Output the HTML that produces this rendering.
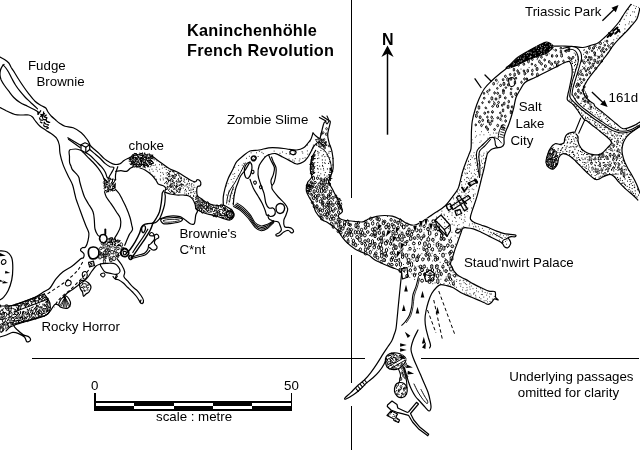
<!DOCTYPE html>
<html><head><meta charset="utf-8"><title>Kaninchenhöhle French Revolution</title>
<style>
html,body{margin:0;padding:0;background:#fff;}
body{width:640px;height:450px;overflow:hidden;}
svg{display:block;will-change:transform;}
text{font-family:"Liberation Sans",sans-serif;fill:#000;}
</style></head><body>
<svg width="640" height="450" viewBox="0 0 640 450">
<rect width="640" height="450" fill="#fff"/>
<path d="M0.0,57.0 C0.8,57.4 3.0,58.5 4.5,59.5 C6.0,60.5 7.6,61.7 8.8,63.0 C9.9,64.3 10.3,65.9 11.2,67.5 C12.2,69.1 13.2,70.5 14.5,72.5 C15.8,74.5 17.2,77.1 18.8,79.5 C20.3,81.9 22.1,84.6 23.8,87.0 C25.4,89.4 26.9,91.4 28.8,93.8 C30.6,96.1 32.9,99.3 35.0,101.2 C37.1,103.2 39.5,104.4 41.2,105.5 C43.0,106.6 44.6,106.9 45.8,108.0 C46.9,109.1 47.1,110.7 48.0,112.0 C48.9,113.3 49.9,114.6 51.2,116.0 C52.6,117.4 54.8,119.2 56.2,120.5 C57.7,121.8 58.5,122.5 60.0,123.5 C61.5,124.5 62.8,125.6 65.0,126.3 C67.2,127.0 70.5,126.7 73.2,127.8 C75.9,128.9 78.9,130.7 81.3,132.7 C83.7,134.7 86.0,137.9 87.4,139.8 C88.8,141.7 89.3,143.3 89.7,144.0" stroke="#000" stroke-width="1.20" fill="none" stroke-linejoin="round" stroke-linecap="round"/>
<path d="M3.0,65.0 C3.4,65.4 4.5,66.2 5.5,67.5 C6.5,68.8 7.7,70.6 8.8,72.5 C9.8,74.4 10.9,76.7 12.0,78.8 C13.1,80.8 14.2,82.9 15.5,85.0 C16.8,87.1 18.4,89.2 20.0,91.2 C21.6,93.2 23.1,95.0 25.0,97.0 C26.9,99.0 29.2,101.0 31.2,103.0 C33.3,105.0 36.5,107.8 37.5,108.8" stroke="#000" stroke-width="1.20" fill="none" stroke-linejoin="round" stroke-linecap="round"/>
<path d="M4.0,64.5 C3.8,64.7 3.1,64.8 2.5,65.8 C1.9,66.7 0.9,68.5 0.5,70.0 C0.1,71.5 -0.1,73.3 0.0,75.0 C0.1,76.7 0.5,78.2 1.2,80.0 C2.0,81.8 3.2,83.6 4.5,85.5 C5.8,87.4 7.2,89.2 8.8,91.2 C10.3,93.2 11.9,95.6 13.8,97.5 C15.6,99.4 17.7,101.0 20.0,102.5 C22.3,104.0 25.0,105.0 27.5,106.2 C30.0,107.5 33.1,109.0 35.0,110.0 C36.9,111.0 38.1,112.1 38.8,112.5" stroke="#000" stroke-width="1.20" fill="none" stroke-linejoin="round" stroke-linecap="round"/>
<path d="M0.0,107.5 C1.0,108.0 3.8,109.6 6.2,110.8 C8.8,111.9 12.3,113.8 15.0,114.5 C17.7,115.2 20.2,114.9 22.5,115.0 C24.8,115.1 27.1,114.7 28.8,115.0 C30.4,115.3 31.5,116.1 32.5,117.0 C33.5,117.9 33.8,119.0 35.0,120.5 C36.2,122.0 38.1,124.6 40.0,126.2 C41.9,127.9 44.2,129.1 46.2,130.5 C48.3,131.9 50.7,133.1 52.5,134.5 C54.3,135.9 55.9,137.0 57.0,138.8 C58.1,140.5 58.8,142.6 59.3,145.0 C59.8,147.4 59.4,150.2 60.0,153.4 C60.6,156.6 61.7,160.8 63.0,164.4 C64.3,168.1 66.2,171.9 67.8,175.3 C69.4,178.7 71.3,181.6 72.5,184.7 C73.7,187.8 74.1,191.4 74.8,194.0 C75.5,196.6 75.5,197.3 76.4,200.0 C77.3,202.7 78.5,205.8 80.0,210.0 C81.5,214.2 84.1,221.2 85.6,225.0 C87.1,228.8 88.3,230.2 88.8,232.8 C89.2,235.4 88.5,238.2 88.0,240.6 C87.5,242.9 86.4,245.8 85.6,246.9 C84.8,248.1 83.4,247.4 83.0,247.5" stroke="#000" stroke-width="1.20" fill="none" stroke-linejoin="round" stroke-linecap="round"/>
<path d="M81.0,144.8 L85.0,142.8 L89.7,144.8 L85.8,147.2Z" stroke="#000" stroke-width="1.20" fill="none" stroke-linejoin="round" stroke-linecap="round"/>
<path d="M81.0,144.8 L81.0,150.3 L85.8,152.7 L89.7,149.5 L89.7,144.8" stroke="#000" stroke-width="1.20" fill="none" stroke-linejoin="round" stroke-linecap="round"/>
<path d="M85.8,147.2 L85.8,152.7" stroke="#000" stroke-width="1.20" fill="none" stroke-linejoin="round" stroke-linecap="round"/>
<path d="M67.8,137.8 L81.0,145.6" stroke="#000" stroke-width="1.20" fill="none" stroke-linejoin="round" stroke-linecap="round"/>
<path d="M68.5,139.3 L80.0,147.5" stroke="#000" stroke-width="1.20" fill="none" stroke-linejoin="round" stroke-linecap="round"/>
<path d="M81.0,150.3 C80.1,150.1 77.5,149.0 75.6,149.0 C73.7,149.0 70.4,149.0 69.4,150.3 C68.4,151.6 69.5,154.6 69.5,156.6 C69.5,158.6 69.3,160.9 69.6,162.5 C69.8,164.1 70.6,164.9 71.0,166.1 C71.4,167.2 71.6,168.4 72.2,169.4 C72.8,170.4 73.9,171.3 74.8,172.2 C75.6,173.1 76.6,174.1 77.3,175.0 C78.0,175.9 78.6,176.6 79.0,177.8 C79.4,179.0 79.3,180.1 79.8,182.0 C80.3,183.9 81.1,186.9 81.9,189.4 C82.7,191.9 83.4,194.6 84.5,197.0 C85.6,199.4 86.9,201.2 88.3,203.7 C89.7,206.1 92.0,209.0 93.0,211.7 C94.0,214.4 94.0,216.8 94.3,219.7 C94.6,222.6 94.4,226.4 95.0,229.0 C95.6,231.6 96.8,233.7 97.7,235.0 C98.6,236.3 100.0,236.4 100.5,236.7" stroke="#000" stroke-width="1.20" fill="none" stroke-linejoin="round" stroke-linecap="round"/>
<path d="M81.9,151.0 C82.8,151.9 85.5,154.8 87.3,156.6 C89.1,158.4 91.0,160.1 92.8,162.0 C94.6,163.9 96.7,166.2 98.3,168.3 C99.9,170.4 101.2,172.6 102.2,174.5 C103.2,176.4 104.1,179.1 104.5,180.0" stroke="#000" stroke-width="1.20" fill="none" stroke-linejoin="round" stroke-linecap="round"/>
<path d="M85.8,152.7 C86.6,153.2 88.8,154.4 90.5,155.8 C92.2,157.2 94.2,159.4 96.0,161.2 C97.8,163.1 99.9,164.9 101.4,166.7 C103.0,168.5 104.4,170.5 105.3,172.2 C106.2,173.9 106.4,175.9 106.9,176.9 C107.4,177.9 108.2,178.2 108.4,178.4" stroke="#000" stroke-width="1.20" fill="none" stroke-linejoin="round" stroke-linecap="round"/>
<path d="M89.7,144.8 C90.3,145.5 92.0,147.3 93.6,148.8 C95.1,150.2 97.2,151.7 99.0,153.4 C100.8,155.1 102.8,157.5 104.5,158.9 C106.2,160.3 107.5,161.1 109.2,162.0 C110.9,162.9 112.9,164.1 114.7,164.4 C116.5,164.7 118.7,164.2 120.2,163.6 C121.8,162.9 122.6,161.4 124.0,160.5 C125.4,159.6 127.4,158.7 128.8,158.0 C130.1,157.3 131.4,156.8 131.9,156.6" stroke="#000" stroke-width="1.20" fill="none" stroke-linejoin="round" stroke-linecap="round"/>
<path d="M89.7,149.5 C90.5,150.2 92.7,152.0 94.4,153.4 C96.1,154.8 98.0,156.3 99.8,158.0 C101.6,159.7 103.6,162.2 105.3,163.6 C107.0,165.0 108.6,166.0 110.0,166.7 C111.4,167.3 113.5,166.7 113.9,167.5 C114.3,168.3 113.0,170.1 112.3,171.4 C111.6,172.7 110.7,174.1 110.0,175.3 C109.3,176.5 108.7,177.9 108.4,178.4" stroke="#000" stroke-width="1.20" fill="none" stroke-linejoin="round" stroke-linecap="round"/>
<path d="M117.8,166.7 C117.5,167.5 116.6,170.0 116.2,171.4 C115.9,172.8 115.6,173.9 115.5,175.3 C115.4,176.7 115.5,179.2 115.5,180.0" stroke="#000" stroke-width="1.20" fill="none" stroke-linejoin="round" stroke-linecap="round"/>
<path d="M115.8,171.4 C116.7,171.3 119.1,170.6 120.9,170.6 C122.7,170.6 124.8,171.8 126.4,171.4 C128.0,171.0 129.1,169.1 130.3,168.3 C131.5,167.5 132.9,167.0 133.4,166.7" stroke="#000" stroke-width="1.20" fill="none" stroke-linejoin="round" stroke-linecap="round"/>
<path d="M104.5,191.7 C104.8,192.6 105.2,195.0 106.3,197.0 C107.4,199.0 109.3,201.2 111.0,203.7 C112.7,206.1 114.8,209.3 116.3,211.7 C117.8,214.1 119.6,215.9 120.3,218.3 C121.0,220.7 120.9,223.9 120.5,226.3 C120.1,228.8 118.7,231.0 117.7,233.0 C116.7,235.0 115.0,237.4 114.5,238.3" stroke="#000" stroke-width="1.20" fill="none" stroke-linejoin="round" stroke-linecap="round"/>
<path d="M115.5,189.4 C116.2,190.2 118.2,192.2 119.4,194.0 C120.6,195.8 121.4,197.8 122.5,200.0 C123.6,202.2 125.0,204.6 126.2,207.5 C127.5,210.4 129.1,214.6 130.0,217.5 C130.9,220.4 131.3,223.0 131.7,225.0 C132.1,227.0 132.9,228.1 132.5,229.7 C132.1,231.3 130.3,232.7 129.4,234.4 C128.5,236.1 127.8,238.0 127.0,239.8 C126.2,241.6 125.1,244.4 124.7,245.3" stroke="#000" stroke-width="1.20" fill="none" stroke-linejoin="round" stroke-linecap="round"/>
<path d="M152.0,156.0 C152.3,156.2 152.4,156.3 154.0,157.5 C155.6,158.7 159.0,161.4 161.7,163.3 C164.4,165.2 167.2,167.5 170.0,169.0 C172.8,170.5 175.8,171.2 178.3,172.5 C180.8,173.8 182.8,175.3 185.0,176.7 C187.2,178.1 189.9,180.0 191.7,180.8 C193.5,181.6 195.0,181.8 195.8,181.7 C196.6,181.6 196.2,180.3 196.7,180.0 C197.2,179.7 198.3,179.6 199.0,180.0 C199.7,180.4 200.6,181.5 200.8,182.5 C201.0,183.5 200.6,185.1 200.0,185.8 C199.4,186.5 198.1,185.9 197.5,186.7 C196.9,187.5 196.7,189.3 196.7,190.8 C196.7,192.3 196.7,194.4 197.5,195.8 C198.3,197.2 200.2,197.9 201.7,199.0 C203.2,200.1 204.8,201.5 206.7,202.5 C208.6,203.5 210.8,204.4 213.3,205.0 C215.8,205.6 220.0,205.8 221.7,205.8 C223.4,205.8 223.0,205.1 223.3,205.0" stroke="#000" stroke-width="1.20" fill="none" stroke-linejoin="round" stroke-linecap="round"/>
<path d="M140.0,168.0 C140.8,168.3 143.1,168.8 145.0,170.0 C146.9,171.2 149.9,173.3 151.7,175.0 C153.5,176.7 154.7,178.5 155.8,180.0 C156.9,181.5 157.1,183.0 158.3,184.0 C159.6,185.0 162.1,185.1 163.3,185.8 C164.6,186.5 165.5,187.5 165.8,188.3 C166.1,189.1 165.1,190.1 165.0,190.8 C164.9,191.5 165.0,192.2 165.0,192.5" stroke="#000" stroke-width="1.20" fill="none" stroke-linejoin="round" stroke-linecap="round"/>
<path d="M165.0,192.5 C165.8,192.1 168.1,193.6 170.0,194.0 C171.9,194.4 174.5,194.8 176.7,195.0 C178.9,195.2 181.4,194.9 183.3,195.0 C185.2,195.1 186.8,195.1 188.3,195.8 C189.8,196.5 191.4,197.6 192.5,199.0 C193.6,200.4 194.4,202.4 195.0,204.0 C195.6,205.6 195.4,207.1 195.8,208.3 C196.2,209.5 197.5,209.9 197.5,211.0 C197.5,212.1 196.2,213.4 195.8,215.0 C195.4,216.6 195.3,219.3 195.0,220.8 C194.7,222.3 194.7,223.5 194.0,224.0 C193.3,224.5 191.9,224.4 190.8,224.0 C189.7,223.6 188.6,222.5 187.5,221.7 C186.4,220.9 185.2,219.8 184.0,219.0 C182.8,218.2 181.8,217.2 180.0,216.7 C178.2,216.2 175.5,215.8 173.3,215.8 C171.1,215.8 168.6,216.3 166.7,216.7 C164.8,217.1 162.8,218.0 161.7,218.3 C160.5,218.6 159.8,219.4 159.8,218.6 C159.9,217.8 161.2,215.6 162.0,213.3 C162.8,211.0 163.9,207.8 164.5,205.0 C165.1,202.2 165.2,198.8 165.3,196.7 C165.4,194.6 164.2,192.9 165.0,192.5Z" stroke="#000" stroke-width="1.20" fill="none" stroke-linejoin="round" stroke-linecap="round"/>
<path d="M160.8,219.6 C161.4,218.7 164.0,218.3 166.7,218.0 C169.3,217.7 174.1,217.4 176.7,217.6 C179.3,217.8 182.1,218.7 182.5,219.4 C182.9,220.1 181.1,221.3 179.0,222.0 C176.9,222.7 172.6,223.3 170.0,223.6 C167.4,223.9 164.8,224.3 163.3,223.6 C161.8,222.9 160.2,220.5 160.8,219.6Z" stroke="#000" stroke-width="1.20" fill="none" stroke-linejoin="round" stroke-linecap="round"/>
<path d="M163.5,220.6 C164.1,220.2 165.9,219.8 168.0,219.6 C170.1,219.4 174.1,219.3 176.0,219.4 C177.9,219.5 179.5,219.9 179.5,220.2 C179.5,220.5 177.8,221.1 176.0,221.4 C174.2,221.7 170.9,222.1 169.0,222.2 C167.1,222.3 165.4,222.3 164.5,222.0 C163.6,221.7 162.9,221.0 163.5,220.6Z" stroke="#000" stroke-width="0.84" fill="none" stroke-linejoin="round" stroke-linecap="round"/>
<path d="M126.2,253.3 C126.9,252.6 128.8,251.1 130.3,249.2 C131.8,247.3 133.8,244.3 135.3,241.7 C136.8,239.0 138.5,235.7 139.5,233.3 C140.5,230.9 140.6,228.9 141.3,227.5 C142.1,226.1 142.9,225.2 144.0,224.6 C145.1,223.9 146.5,223.8 148.0,223.6 C149.5,223.4 152.0,223.4 152.8,223.3" stroke="#000" stroke-width="1.44" fill="none" stroke-linejoin="round" stroke-linecap="round"/>
<path d="M131.2,257.5 C131.6,257.1 132.3,256.8 133.7,255.0 C135.1,253.2 137.6,249.5 139.5,246.7 C141.4,243.9 143.5,241.1 145.3,238.3 C147.1,235.5 149.1,232.5 150.3,230.0 C151.6,227.5 152.4,224.4 152.8,223.3" stroke="#000" stroke-width="1.44" fill="none" stroke-linejoin="round" stroke-linecap="round"/>
<path d="M132.8,252.5 C133.5,251.4 135.3,248.3 137.0,245.8 C138.7,243.3 141.0,240.3 142.8,237.5 C144.6,234.7 147.0,230.6 147.8,229.2" stroke="#000" stroke-width="1.20" fill="none" stroke-linejoin="round" stroke-linecap="round"/>
<path d="M141.6,229.0 C141.6,227.9 142.1,226.8 142.6,226.3 C143.1,225.8 144.1,225.5 144.6,225.8 C145.1,226.1 145.5,227.1 145.5,228.0 C145.5,228.9 145.0,230.5 144.6,231.3 C144.2,232.1 143.3,233.0 142.8,232.6 C142.3,232.2 141.6,230.1 141.6,229.0Z" stroke="#000" stroke-width="1.32" fill="none" stroke-linejoin="round" stroke-linecap="round"/>
<path d="M163.8,190.5 C163.6,190.9 162.6,192.1 162.3,193.0 C162.0,193.9 162.2,194.3 162.0,196.0 C161.8,197.7 161.6,200.7 161.2,203.3 C160.8,205.9 160.3,209.2 159.5,211.7 C158.7,214.2 157.3,216.4 156.2,218.3 C155.1,220.2 153.4,222.5 152.8,223.3" stroke="#000" stroke-width="1.32" fill="none" stroke-linejoin="round" stroke-linecap="round"/>
<path d="M152.8,223.3 C153.4,223.1 155.3,222.8 156.5,222.0 C157.7,221.2 159.2,219.2 159.8,218.6" stroke="#000" stroke-width="1.20" fill="none" stroke-linejoin="round" stroke-linecap="round"/>
<path d="M121.5,250.5 C122.1,249.7 123.5,248.5 124.5,248.5 C125.5,248.5 127.1,249.6 127.8,250.5 C128.5,251.4 128.8,253.0 128.5,254.0 C128.2,255.0 127.0,256.2 126.0,256.5 C125.0,256.8 123.3,256.5 122.5,256.0 C121.7,255.5 121.2,254.4 121.0,253.5 C120.8,252.6 120.9,251.3 121.5,250.5Z" stroke="#000" stroke-width="1.80" fill="none" stroke-linejoin="round" stroke-linecap="round"/>
<path d="M123.3,251.8 C123.6,251.3 125.3,251.1 125.8,251.5 C126.3,251.9 126.6,253.5 126.3,254.0 C126.0,254.5 124.5,255.0 124.0,254.6 C123.5,254.2 123.0,252.3 123.3,251.8Z" stroke="#000" stroke-width="1.20" fill="none" stroke-linejoin="round" stroke-linecap="round"/>
<path d="M129.0,256.3 C129.3,255.8 130.4,255.4 131.0,255.6 C131.6,255.8 132.5,256.7 132.6,257.3 C132.7,257.9 131.9,258.9 131.3,259.2 C130.8,259.4 129.7,259.3 129.3,258.8 C128.9,258.3 128.7,256.8 129.0,256.3Z" stroke="#000" stroke-width="1.56" fill="none" stroke-linejoin="round" stroke-linecap="round"/>
<path d="M132.8,256.7 C133.8,256.4 136.8,255.6 138.7,255.0 C140.6,254.4 143.0,254.3 144.5,253.3 C146.0,252.3 147.1,250.6 147.8,249.2 C148.5,247.8 148.5,245.7 148.7,245.0" stroke="#000" stroke-width="1.20" fill="none" stroke-linejoin="round" stroke-linecap="round"/>
<path d="M131.5,258.6 C132.7,258.3 136.2,257.4 138.5,256.8 C140.8,256.2 143.6,255.9 145.5,254.8 C147.4,253.8 149.1,251.2 149.8,250.5" stroke="#000" stroke-width="1.08" fill="none" stroke-linejoin="round" stroke-linecap="round"/>
<path d="M148.7,245.0 C149.1,244.7 150.2,244.3 151.2,243.3 C152.2,242.3 154.1,240.7 154.5,239.2 C154.9,237.7 154.2,235.3 153.7,234.2 C153.1,233.1 151.9,232.4 151.2,232.5 C150.5,232.6 149.2,234.4 149.5,235.0 C149.8,235.6 151.6,235.9 152.8,235.8 C154.1,235.7 156.0,233.9 157.0,234.2 C158.0,234.5 159.0,236.5 158.7,237.5 C158.4,238.5 156.0,239.0 155.3,240.0 C154.6,241.0 154.2,242.2 154.5,243.3 C154.8,244.4 156.7,245.7 157.0,246.7 C157.3,247.7 156.9,248.6 156.2,249.2 C155.5,249.8 153.9,250.3 152.8,250.0 C151.7,249.7 150.1,247.9 149.5,247.5" stroke="#000" stroke-width="1.20" fill="none" stroke-linejoin="round" stroke-linecap="round"/>
<path d="M195.8,208.3 C196.3,208.7 197.5,210.0 199.0,210.8 C200.5,211.6 202.9,212.6 205.0,213.3 C207.1,214.0 209.5,214.4 211.7,215.0 C213.9,215.6 216.1,216.0 218.3,216.7 C220.5,217.4 223.1,218.4 225.0,219.0 C226.9,219.6 228.6,220.2 230.0,220.0 C231.4,219.8 232.6,218.5 233.3,217.5 C234.0,216.5 234.3,215.2 234.0,214.0 C233.7,212.8 232.9,211.2 231.7,210.0 C230.5,208.8 228.1,207.5 226.7,206.7 C225.3,205.9 223.9,205.3 223.3,205.0" stroke="#000" stroke-width="1.20" fill="none" stroke-linejoin="round" stroke-linecap="round"/>
<path d="M226.5,213.0 C226.8,212.1 228.0,211.1 229.0,211.0 C230.0,210.9 231.8,211.5 232.5,212.3 C233.2,213.1 233.4,215.1 233.0,216.0 C232.6,216.9 231.0,217.9 230.0,218.0 C229.0,218.1 227.6,217.3 227.0,216.5 C226.4,215.7 226.2,213.9 226.5,213.0Z" stroke="#000" stroke-width="1.32" fill="none" stroke-linejoin="round" stroke-linecap="round"/>
<path d="M223.3,205.0 C223.3,203.6 223.0,199.5 223.3,196.7 C223.6,193.9 224.2,191.4 225.0,188.3 C225.8,185.2 227.1,181.4 228.3,178.3 C229.6,175.2 231.1,172.8 232.5,170.0 C233.9,167.2 234.9,164.0 236.7,161.7 C238.4,159.4 240.8,157.8 243.0,156.0 C245.2,154.2 247.3,152.0 250.0,151.0 C252.7,150.0 255.9,150.5 259.0,150.0 C262.1,149.5 265.4,148.2 268.6,147.8 C271.8,147.4 274.9,147.6 278.0,147.8 C281.1,148.0 283.9,148.6 287.0,149.0 C290.1,149.4 293.8,150.2 296.6,150.0 C299.4,149.8 301.7,149.0 303.6,147.8 C305.5,146.6 306.8,144.5 308.0,143.0 C309.2,141.5 310.2,140.7 311.0,139.0 C311.8,137.3 312.7,134.0 313.0,133.0" stroke="#000" stroke-width="1.20" fill="none" stroke-linejoin="round" stroke-linecap="round"/>
<path d="M233.3,205.0 C233.4,203.6 233.6,199.5 234.0,196.7 C234.4,193.9 235.1,190.8 235.8,188.3 C236.5,185.8 237.5,183.8 238.3,181.7 C239.1,179.6 239.4,177.9 240.6,176.0 C241.8,174.1 243.7,172.4 245.3,170.0 C246.9,167.6 249.2,163.2 250.0,161.8" stroke="#000" stroke-width="1.20" fill="none" stroke-linejoin="round" stroke-linecap="round"/>
<path d="M226.7,202.6 C226.9,201.3 227.4,197.1 228.0,195.0 C228.6,192.9 228.9,192.0 230.0,190.0 C231.1,188.0 233.0,185.8 234.8,182.8 C236.6,179.9 238.8,175.6 240.6,172.3 C242.3,169.0 244.5,164.6 245.3,163.0" stroke="#000" stroke-width="0.96" fill="none" stroke-linejoin="round" stroke-linecap="round"/>
<path d="M229.5,202.0 C229.8,200.7 230.3,196.5 231.0,194.0 C231.7,191.5 233.1,188.2 233.5,187.0" stroke="#000" stroke-width="0.96" fill="none" stroke-linejoin="round" stroke-linecap="round"/>
<path d="M244.3,171.0 C244.3,169.1 244.7,166.9 245.5,165.5 C246.3,164.1 247.9,162.4 249.0,162.3 C250.1,162.2 251.4,163.4 251.8,165.0 C252.2,166.6 251.9,169.8 251.3,172.0 C250.8,174.2 249.5,177.2 248.5,178.0 C247.5,178.8 246.2,178.2 245.5,177.0 C244.8,175.8 244.3,172.9 244.3,171.0Z" stroke="#000" stroke-width="1.20" fill="none" stroke-linejoin="round" stroke-linecap="round"/>
<path d="M251.5,157.5 C251.8,156.8 253.2,156.0 254.0,156.0 C254.8,156.0 255.8,156.8 256.0,157.5 C256.2,158.2 255.6,159.5 255.0,160.0 C254.4,160.5 252.9,160.7 252.3,160.3 C251.7,159.9 251.2,158.2 251.5,157.5Z" stroke="#000" stroke-width="1.68" fill="none" stroke-linejoin="round" stroke-linecap="round"/>
<path d="M251.3,171.3 C251.4,170.7 252.6,170.1 253.0,170.3 C253.4,170.5 254.1,171.7 254.0,172.3 C253.9,172.9 252.9,174.0 252.5,173.8 C252.1,173.6 251.2,171.9 251.3,171.3Z" stroke="#000" stroke-width="1.08" fill="none" stroke-linejoin="round" stroke-linecap="round"/>
<path d="M253.6,182.0 C253.7,181.4 254.9,180.8 255.3,181.0 C255.8,181.2 256.4,182.4 256.3,183.0 C256.2,183.6 255.2,184.5 254.8,184.3 C254.4,184.1 253.5,182.6 253.6,182.0Z" stroke="#000" stroke-width="1.08" fill="none" stroke-linejoin="round" stroke-linecap="round"/>
<path d="M259.5,186.5 C259.6,186.0 260.9,185.5 261.3,185.7 C261.7,185.9 262.1,187.2 262.0,187.7 C261.9,188.2 260.8,188.9 260.4,188.7 C260.0,188.5 259.4,187.0 259.5,186.5Z" stroke="#000" stroke-width="1.08" fill="none" stroke-linejoin="round" stroke-linecap="round"/>
<path d="M250.0,179.3 C250.6,180.9 252.2,185.8 253.5,188.6 C254.8,191.4 256.6,193.6 258.0,196.0 C259.4,198.4 260.8,200.7 262.0,203.0 C263.2,205.3 264.2,208.0 265.0,210.0 C265.8,212.0 266.0,214.2 266.5,215.0 C267.0,215.8 267.9,215.0 268.2,215.0" stroke="#000" stroke-width="1.20" fill="none" stroke-linejoin="round" stroke-linecap="round"/>
<path d="M233.6,206.5 C234.8,207.2 238.2,208.7 240.6,210.6 C243.0,212.5 245.6,215.2 248.0,218.0 C250.4,220.8 252.8,225.2 255.0,227.3 C257.2,229.4 259.1,230.5 261.2,230.7 C263.3,230.9 265.3,229.8 267.4,228.5 C269.5,227.2 272.6,223.7 273.7,222.7" stroke="#000" stroke-width="1.02" fill="none" stroke-linejoin="round" stroke-linecap="round"/>
<path d="M234.7,205.4 C235.8,206.1 239.1,207.6 241.4,209.5 C243.7,211.4 246.4,214.1 248.6,216.8 C250.9,219.5 252.9,223.7 255.0,225.7 C257.1,227.8 259.1,228.9 261.2,229.1 C263.3,229.3 265.3,228.2 267.4,227.1 C269.5,225.9 272.6,222.9 273.7,222.1" stroke="#000" stroke-width="1.02" fill="none" stroke-linejoin="round" stroke-linecap="round"/>
<path d="M235.8,204.3 C236.9,204.9 240.0,206.5 242.2,208.4 C244.4,210.2 247.1,213.0 249.3,215.6 C251.4,218.2 253.0,222.1 255.0,224.1 C257.0,226.1 259.1,227.2 261.2,227.5 C263.3,227.8 265.3,226.6 267.4,225.6 C269.5,224.6 272.6,222.1 273.7,221.4" stroke="#000" stroke-width="1.02" fill="none" stroke-linejoin="round" stroke-linecap="round"/>
<path d="M237.0,203.1 C238.0,203.8 240.8,205.4 243.0,207.2 C245.2,209.1 247.9,211.9 249.9,214.4 C251.9,216.9 253.1,220.6 255.0,222.5 C256.9,224.4 259.1,225.6 261.2,225.9 C263.3,226.2 265.3,225.0 267.4,224.2 C269.5,223.3 272.6,221.3 273.7,220.8" stroke="#000" stroke-width="1.02" fill="none" stroke-linejoin="round" stroke-linecap="round"/>
<path d="M265.0,157.0 C265.6,156.6 266.8,155.4 268.6,154.8 C270.4,154.2 273.3,153.2 275.6,153.6 C277.9,154.0 280.3,155.8 282.6,157.0 C284.9,158.2 287.3,159.4 289.6,160.6 C291.9,161.8 294.3,163.8 296.6,164.0 C298.9,164.2 301.7,163.0 303.6,161.8 C305.5,160.6 306.6,158.9 308.0,157.0 C309.4,155.1 311.1,151.4 311.7,150.3" stroke="#000" stroke-width="1.20" fill="none" stroke-linejoin="round" stroke-linecap="round"/>
<path d="M268.6,154.8 C269.0,155.8 270.0,158.5 271.0,160.6 C272.0,162.7 274.0,165.3 274.4,167.6 C274.8,169.9 273.9,172.4 273.3,174.6 C272.7,176.8 271.2,178.8 271.0,180.5 C270.8,182.2 271.4,184.8 272.0,185.0 C272.6,185.2 273.7,183.5 274.4,181.6 C275.1,179.7 275.7,175.8 276.0,173.5 C276.3,171.2 276.4,169.5 276.0,167.6 C275.6,165.7 274.1,163.6 273.3,161.8 C272.6,160.0 271.8,157.8 271.5,157.0" stroke="#000" stroke-width="1.20" fill="none" stroke-linejoin="round" stroke-linecap="round"/>
<path d="M265.0,157.0 C264.1,158.4 260.5,162.4 259.3,165.3 C258.1,168.2 257.8,171.5 258.0,174.6 C258.2,177.7 259.5,180.9 260.5,184.0 C261.5,187.1 263.1,190.1 264.0,193.3 C264.9,196.5 265.1,200.9 265.9,203.3 C266.7,205.8 267.8,207.2 269.0,208.0 C270.2,208.8 271.9,207.5 272.9,208.0 C273.9,208.5 274.9,209.8 275.2,211.0 C275.4,212.2 275.2,214.1 274.4,215.0 C273.6,215.9 271.5,216.5 270.5,216.5 C269.5,216.5 268.4,214.6 268.2,215.0 C267.9,215.4 268.1,217.9 269.0,218.9 C269.9,219.9 272.9,220.8 273.7,221.2" stroke="#000" stroke-width="1.20" fill="none" stroke-linejoin="round" stroke-linecap="round"/>
<path d="M272.0,185.0 C272.1,185.7 271.2,187.3 272.3,189.3 C273.4,191.3 276.3,194.7 278.3,197.0 C280.3,199.3 282.9,201.3 284.5,203.3 C286.1,205.3 287.4,206.9 287.7,208.8 C287.9,210.8 286.6,213.1 286.0,215.0 C285.4,216.9 284.1,218.5 283.8,220.4 C283.6,222.3 283.7,225.5 284.5,226.7 C285.3,227.9 287.2,227.2 288.4,227.4 C289.6,227.7 290.6,227.5 291.5,228.2 C292.4,228.8 293.6,230.5 293.6,231.3 C293.6,232.1 292.4,233.0 291.5,232.9 C290.6,232.8 289.7,230.7 288.4,230.5 C287.1,230.3 285.2,231.2 283.8,232.0 C282.4,232.8 281.1,234.5 279.9,235.2 C278.7,235.9 277.4,236.1 276.8,236.0 C276.2,235.9 275.6,234.9 276.0,234.4 C276.4,233.9 278.1,233.7 279.0,232.9 C279.9,232.1 281.2,231.1 281.4,229.8 C281.5,228.5 280.4,226.3 279.9,225.0 C279.4,223.7 279.3,222.6 278.3,222.0 C277.3,221.4 274.5,221.3 273.7,221.2" stroke="#000" stroke-width="1.20" fill="none" stroke-linejoin="round" stroke-linecap="round"/>
<path d="M277.0,205.0 C277.8,204.2 279.3,203.4 280.5,203.5 C281.7,203.6 283.4,204.4 284.0,205.5 C284.6,206.6 284.7,208.7 284.3,210.0 C283.9,211.3 282.6,212.8 281.5,213.2 C280.4,213.6 278.4,213.3 277.5,212.5 C276.6,211.7 276.1,209.8 276.0,208.5 C275.9,207.2 276.2,205.8 277.0,205.0Z" stroke="#000" stroke-width="1.32" fill="none" stroke-linejoin="round" stroke-linecap="round"/>
<path d="M290.0,151.5 C290.4,150.9 292.5,150.4 293.5,150.5 C294.5,150.6 295.8,151.3 296.0,152.0 C296.2,152.7 295.3,154.2 294.5,154.5 C293.7,154.8 291.8,154.5 291.0,154.0 C290.2,153.5 289.6,152.1 290.0,151.5Z" stroke="#000" stroke-width="1.32" fill="none" stroke-linejoin="round" stroke-linecap="round"/>
<path d="M313.0,133.0 C313.5,133.5 314.9,135.1 316.0,136.0 C317.1,136.9 318.9,138.6 319.7,138.3 C320.5,138.0 320.3,136.7 321.0,134.3 C321.7,131.9 322.9,125.8 323.7,123.7 C324.4,121.6 325.2,121.9 325.5,121.5" stroke="#000" stroke-width="1.20" fill="none" stroke-linejoin="round" stroke-linecap="round"/>
<path d="M329.0,121.0 C329.2,121.2 330.5,120.1 330.3,122.3 C330.1,124.5 327.9,131.0 327.7,134.3 C327.5,137.6 328.3,139.6 329.0,142.3 C329.7,145.0 331.0,147.6 331.7,150.3 C332.4,153.0 332.8,157.0 333.0,158.3" stroke="#000" stroke-width="1.20" fill="none" stroke-linejoin="round" stroke-linecap="round"/>
<path d="M325.5,121.5 C325.8,121.9 326.4,124.1 327.0,124.0 C327.6,123.9 328.7,121.5 329.0,121.0" stroke="#000" stroke-width="1.08" fill="none" stroke-linejoin="round" stroke-linecap="round"/>
<path d="M319.5,117.5 L326.0,121.0" stroke="#000" stroke-width="1.32" fill="none" stroke-linejoin="round" stroke-linecap="round"/>
<path d="M322.0,116.0 L328.0,120.0" stroke="#000" stroke-width="1.32" fill="none" stroke-linejoin="round" stroke-linecap="round"/>
<path d="M327.0,116.0 L329.0,120.5" stroke="#000" stroke-width="1.08" fill="none" stroke-linejoin="round" stroke-linecap="round"/>
<path d="M311.7,150.3 C312.1,149.6 312.9,147.3 314.0,146.0 C315.1,144.7 317.1,142.7 318.3,142.3 C319.5,141.9 320.1,142.7 321.0,143.5 C321.9,144.3 323.5,146.4 324.0,147.0" stroke="#000" stroke-width="1.20" fill="none" stroke-linejoin="round" stroke-linecap="round"/>
<path d="M315.7,150.3 C315.0,151.6 312.6,155.2 311.7,158.3 C310.8,161.4 310.3,165.9 310.3,169.0 C310.3,172.1 312.1,174.8 311.7,177.0 C311.3,179.2 308.6,180.1 307.7,182.3 C306.8,184.5 306.1,187.9 306.3,190.3 C306.5,192.8 307.9,194.8 309.0,197.0 C310.1,199.2 311.9,201.2 313.0,203.7 C314.1,206.1 314.1,209.0 315.7,211.7 C317.2,214.4 320.3,217.9 322.3,219.7 C324.3,221.5 325.0,220.8 327.5,222.5 C330.0,224.2 335.2,227.8 337.5,230.0 C339.8,232.2 339.9,233.9 341.5,236.0 C343.1,238.1 344.8,240.5 347.0,242.7 C349.2,244.9 352.7,247.5 355.0,249.0 C357.3,250.5 358.7,250.8 361.0,251.9 C363.3,253.0 366.7,254.0 369.0,255.3 C371.3,256.7 372.4,258.5 375.0,260.0 C377.6,261.5 381.6,263.2 384.5,264.5 C387.4,265.8 390.0,266.7 392.3,267.6 C394.6,268.5 397.0,269.1 398.5,270.0 C400.0,270.9 401.0,272.3 401.5,272.8" stroke="#000" stroke-width="1.20" fill="none" stroke-linejoin="round" stroke-linecap="round"/>
<path d="M333.0,158.3 C333.0,160.1 333.4,165.9 333.0,169.0 C332.6,172.1 331.0,174.8 330.3,177.0 C329.6,179.2 328.6,180.1 329.0,182.3 C329.4,184.5 331.7,187.6 333.0,190.3 C334.3,193.0 335.7,195.6 337.0,198.3 C338.3,201.0 340.1,204.1 341.0,206.3 C341.9,208.5 342.8,210.1 342.3,211.7 C341.9,213.3 338.3,214.4 338.3,215.7 C338.3,217.0 339.6,218.8 342.3,219.7 C345.0,220.6 350.9,220.9 354.3,221.3 C357.7,221.7 360.2,222.3 362.7,221.9 C365.1,221.5 366.7,219.7 369.0,218.8 C371.3,217.9 374.1,216.9 376.7,216.3 C379.3,215.8 381.9,215.5 384.5,215.5 C387.1,215.5 389.7,215.6 392.3,216.2 C394.9,216.8 397.7,218.2 400.0,219.3 C402.3,220.4 403.7,222.0 406.0,223.0 C408.3,224.0 411.3,225.6 414.0,225.3 C416.7,225.1 419.3,223.0 422.0,221.5 C424.7,220.0 428.0,217.6 430.0,216.3 C432.0,215.0 431.5,215.2 434.0,213.5 C436.5,211.8 441.9,208.8 445.0,206.0 C448.1,203.2 450.2,199.7 452.4,196.9 C454.5,194.1 456.6,191.6 457.9,189.0 C459.2,186.4 459.4,184.1 460.2,181.3 C461.0,178.5 461.6,175.1 462.5,172.0 C463.4,168.9 464.6,165.5 465.7,162.7 C466.8,159.8 467.9,157.2 468.8,154.9 C469.7,152.6 470.6,151.3 471.0,148.7 C471.4,146.1 471.2,142.4 471.3,139.3 C471.4,136.2 471.3,133.1 471.5,130.0 C471.7,127.0 471.7,124.3 472.3,121.0 C472.9,117.7 473.9,113.7 475.0,110.0 C476.1,106.3 477.4,102.6 479.0,99.0 C480.6,95.4 482.4,91.5 484.5,88.5 C486.6,85.5 488.9,83.5 491.5,81.0 C494.1,78.5 497.2,75.8 500.0,73.5 C502.8,71.2 505.1,69.7 508.0,67.0 C510.9,64.3 513.8,60.3 517.5,57.5 C521.2,54.7 526.2,52.1 530.0,50.0 C533.8,47.9 537.1,46.2 540.0,45.0 C542.9,43.8 545.4,42.8 547.5,43.0 C549.6,43.2 550.0,45.5 552.5,46.0 C555.0,46.5 559.2,45.9 562.5,46.0 C565.8,46.1 569.1,46.1 572.5,46.4 C575.9,46.6 579.8,47.7 583.0,47.5 C586.2,47.3 589.4,45.8 592.0,45.0 C594.6,44.2 596.2,44.0 598.4,42.7 C600.6,41.4 602.8,39.0 605.0,37.0 C607.2,35.0 609.3,33.1 611.6,30.6 C613.9,28.1 616.8,24.9 619.0,22.0 C621.2,19.1 622.7,15.9 624.7,13.0 C626.7,10.1 630.0,5.8 631.0,4.4" stroke="#000" stroke-width="1.20" fill="none" stroke-linejoin="round" stroke-linecap="round"/>
<path d="M318.4,146.6 C319.4,147.2 322.9,148.8 324.6,150.5 C326.3,152.2 327.4,154.4 328.5,156.7 C329.6,159.0 330.5,161.9 331.0,164.5 C331.5,167.1 331.4,171.0 331.5,172.3" stroke="#000" stroke-width="0.96" fill="none" stroke-linejoin="round" stroke-linecap="round"/>
<path d="M487.4,153.3 C487.1,154.3 486.4,157.2 485.9,159.5 C485.4,161.8 484.9,164.4 484.3,167.3 C483.7,170.2 482.8,173.6 482.0,176.7 C481.2,179.8 480.5,182.9 479.7,186.0 C478.9,189.1 478.2,192.3 477.3,195.3 C476.4,198.3 475.4,201.4 474.5,204.0 C473.6,206.6 472.8,208.6 472.2,210.6 C471.6,212.6 470.9,214.6 470.6,216.1 C470.3,217.6 470.1,218.4 470.6,219.4 C471.2,220.4 472.1,221.3 473.9,222.2 C475.6,223.1 478.6,224.1 481.1,225.0 C483.6,225.9 486.3,226.8 488.9,227.8 C491.5,228.8 494.3,230.2 496.7,231.1 C499.1,232.0 501.1,232.8 503.3,233.3 C505.5,233.9 507.9,234.1 510.0,234.4 C512.0,234.7 514.8,234.6 515.6,235.0 C516.4,235.4 515.8,236.4 515.0,236.7 C514.2,237.0 512.2,236.5 511.1,236.7 C510.0,236.9 508.5,237.2 508.3,237.8 C508.1,238.5 509.6,239.6 510.0,240.6 C510.4,241.6 511.0,242.7 510.6,243.9 C510.2,245.1 508.8,247.3 507.8,247.8 C506.8,248.3 505.3,247.4 504.4,246.7 C503.5,245.9 503.5,244.4 502.2,243.3 C500.9,242.2 498.9,241.2 496.7,240.0 C494.5,238.8 491.5,237.4 488.9,236.1 C486.3,234.8 483.7,233.4 481.1,232.2 C478.5,231.0 475.7,229.6 473.3,228.9 C470.9,228.2 468.4,227.9 466.7,227.8 C464.9,227.7 463.8,227.3 462.8,228.3 C461.8,229.3 461.4,231.7 460.6,233.9 C459.8,236.1 458.7,239.1 457.8,241.7 C456.9,244.3 455.8,247.2 455.0,249.4 C454.2,251.6 453.9,253.2 453.3,255.0 C452.7,256.8 452.0,258.5 451.5,260.0 C451.0,261.5 450.4,262.8 450.5,264.0 C450.6,265.2 451.6,265.9 452.2,267.2 C452.8,268.5 453.3,270.2 454.4,271.7 C455.5,273.2 457.0,274.8 458.9,276.1 C460.8,277.4 463.2,278.1 465.6,279.4 C468.0,280.7 470.7,282.5 473.3,283.9 C475.9,285.3 478.5,286.6 481.1,287.8 C483.7,289.0 486.6,290.5 488.9,291.1 C491.2,291.8 493.9,290.7 495.0,291.7 C496.1,292.7 495.1,295.8 495.6,297.2 C496.2,298.6 498.5,299.7 498.3,300.0 C498.1,300.3 495.5,298.5 494.4,298.9 C493.3,299.3 492.7,301.3 491.7,302.2 C490.7,303.1 489.5,304.3 488.3,304.4 C487.1,304.5 486.3,303.6 484.4,302.8 C482.5,302.0 479.3,300.5 476.7,299.4 C474.1,298.3 471.5,297.2 468.9,296.1 C466.3,295.0 463.7,294.2 461.1,292.8 C458.5,291.4 455.7,289.0 453.3,287.8 C450.9,286.6 448.9,286.1 446.7,285.6 C444.5,285.1 441.8,284.4 440.0,284.8 C438.2,285.2 437.4,286.6 436.0,288.0 C434.6,289.4 433.0,291.2 431.7,293.5 C430.4,295.8 429.2,299.1 428.3,302.0 C427.4,304.9 426.6,308.0 426.0,311.0 C425.4,314.0 425.0,316.9 425.0,319.8 C425.0,322.8 425.4,325.8 426.0,328.7 C426.6,331.6 427.6,334.8 428.3,337.5 C429.1,340.2 430.3,343.2 430.5,345.0 C430.7,346.8 429.7,347.5 429.5,348.0" stroke="#000" stroke-width="1.20" fill="none" stroke-linejoin="round" stroke-linecap="round"/>
<path d="M502.2,243.3 C502.3,242.8 502.4,241.2 503.0,240.5 C503.6,239.8 505.1,239.4 506.0,239.0 C506.9,238.6 507.9,238.0 508.3,237.8" stroke="#000" stroke-width="1.08" fill="none" stroke-linejoin="round" stroke-linecap="round"/>
<path d="M493.3,233.3 L502.2,238.3" stroke="#000" stroke-width="0.96" fill="none" stroke-linejoin="round" stroke-linecap="round"/>
<path d="M455.6,231.0 C455.9,230.4 457.1,229.6 458.0,229.3 C458.9,229.1 460.8,229.1 461.0,229.5 C461.2,229.9 460.2,231.4 459.5,232.0 C458.8,232.6 457.1,233.0 456.5,232.8 C455.9,232.6 455.4,231.6 455.6,231.0Z" stroke="#000" stroke-width="1.08" fill="none" stroke-linejoin="round" stroke-linecap="round"/>
<path d="M441.0,215.0 L450.0,225.0 L444.4,229.6 L435.0,220.0Z" stroke="#000" stroke-width="1.20" fill="none" stroke-linejoin="round" stroke-linecap="round"/>
<path d="M435.0,220.0 L437.0,226.0 L447.0,236.4 L444.4,229.6" stroke="#000" stroke-width="1.20" fill="none" stroke-linejoin="round" stroke-linecap="round"/>
<path d="M447.0,236.4 L450.5,230.5 L450.0,225.0" stroke="#000" stroke-width="1.20" fill="none" stroke-linejoin="round" stroke-linecap="round"/>
<path d="M439.0,230.0 L443.0,235.0" stroke="#000" stroke-width="1.56" fill="none" stroke-linejoin="round" stroke-linecap="round"/>
<path d="M450.5,206.5 L468.0,195.5 L470.5,198.0 L453.0,209.5Z" stroke="#000" stroke-width="1.32" fill="none" stroke-linejoin="round" stroke-linecap="round"/>
<path d="M456.5,197.5 L459.5,195.5 L467.5,209.0 L464.5,211.0Z" stroke="#000" stroke-width="1.32" fill="none" stroke-linejoin="round" stroke-linecap="round"/>
<path d="M446.0,205.5 L450.0,203.5 L452.5,208.0 L448.5,210.5Z" stroke="#000" stroke-width="1.32" fill="none" stroke-linejoin="round" stroke-linecap="round"/>
<path d="M455.0,211.0 L460.0,209.5 L461.5,213.5 L456.5,215.5Z" stroke="#000" stroke-width="1.32" fill="none" stroke-linejoin="round" stroke-linecap="round"/>
<path d="M468.5,183.0 L476.0,179.5 L477.5,182.0 L470.0,186.0Z" stroke="#000" stroke-width="1.32" fill="none" stroke-linejoin="round" stroke-linecap="round"/>
<path d="M462.5,200.0 L466.5,203.5" stroke="#000" stroke-width="1.32" fill="none" stroke-linejoin="round" stroke-linecap="round"/>
<path d="M462.0,187.5 L464.5,191.5" stroke="#000" stroke-width="1.92" fill="none" stroke-linejoin="round" stroke-linecap="round"/>
<path d="M465.5,190.0 L467.5,187.0" stroke="#000" stroke-width="1.56" fill="none" stroke-linejoin="round" stroke-linecap="round"/>
<path d="M468.5,183.5 L470.5,185.5" stroke="#000" stroke-width="1.92" fill="none" stroke-linejoin="round" stroke-linecap="round"/>
<path d="M475.0,180.5 L477.0,182.5" stroke="#000" stroke-width="1.92" fill="none" stroke-linejoin="round" stroke-linecap="round"/>
<path d="M401.7,273.0 C401.5,274.8 400.9,280.3 400.5,284.0 C400.1,287.7 399.8,291.3 399.4,295.0 C399.0,298.7 398.7,302.2 398.3,306.0 C397.9,309.8 397.6,313.7 397.2,317.5 C396.8,321.3 396.5,325.8 396.0,328.7 C395.5,331.6 394.7,332.9 394.0,335.0 C393.3,337.1 392.8,339.0 391.7,341.0 C390.6,343.0 389.2,344.8 387.7,347.0 C386.2,349.2 384.6,351.5 382.8,354.4 C381.0,357.3 378.7,361.1 376.7,364.2 C374.7,367.3 372.7,370.2 370.6,372.8 C368.6,375.4 366.4,378.0 364.4,380.0 C362.3,382.0 360.5,382.9 358.3,385.0 C356.1,387.1 353.2,390.1 351.0,392.3 C348.8,394.5 345.7,396.9 344.9,398.0 C344.1,399.1 344.6,399.5 346.0,399.0 C347.4,398.5 350.9,396.5 353.4,394.8 C355.9,393.1 358.6,390.7 360.8,388.7 C363.1,386.7 364.9,384.4 366.9,382.6 C368.9,380.8 371.0,379.5 373.0,377.7 C375.0,375.9 377.2,373.9 379.0,371.6 C380.8,369.4 382.8,366.5 384.0,364.2 C385.2,361.9 386.1,359.0 386.5,358.0" stroke="#000" stroke-width="1.20" fill="none" stroke-linejoin="round" stroke-linecap="round"/>
<path d="M418.3,277.5 C417.9,279.0 416.9,283.4 416.0,286.4 C415.1,289.4 413.5,292.0 412.8,295.3 C412.1,298.6 412.3,303.1 411.7,306.4 C411.1,309.7 410.5,312.7 409.4,315.3 C408.3,317.9 406.3,320.3 405.0,322.0 C403.7,323.7 402.2,324.8 401.7,325.3" stroke="#000" stroke-width="1.08" fill="none" stroke-linejoin="round" stroke-linecap="round"/>
<path d="M419.6,278.5 C419.2,279.9 418.2,284.1 417.3,287.0 C416.4,289.9 414.9,292.7 414.2,296.0 C413.5,299.3 413.6,303.4 413.0,306.6 C412.4,309.9 411.9,312.9 410.8,315.5 C409.7,318.1 407.2,321.3 406.5,322.5" stroke="#000" stroke-width="0.84" fill="none" stroke-linejoin="round" stroke-linecap="round"/>
<path d="M401.0,269.0 L407.0,267.5 L408.0,277.0 L402.5,279.0Z" stroke="#000" stroke-width="1.20" fill="none" stroke-linejoin="round" stroke-linecap="round"/>
<path d="M424.0,274.0 L430.0,270.0 L435.0,274.0 L433.0,280.0 L426.0,281.5Z" stroke="#000" stroke-width="1.20" fill="none" stroke-linejoin="round" stroke-linecap="round"/>
<path d="M424.0,274.0 L430.0,276.0 L435.0,274.0" stroke="#000" stroke-width="0.96" fill="none" stroke-linejoin="round" stroke-linecap="round"/>
<path d="M430.0,276.0 L430.0,281.0" stroke="#000" stroke-width="0.96" fill="none" stroke-linejoin="round" stroke-linecap="round"/>
<path d="M364.5,380.0 L366.9,382.8" stroke="#000" stroke-width="1.08" fill="none" stroke-linejoin="round" stroke-linecap="round"/>
<path d="M362.4,382.2 L364.8,385.0" stroke="#000" stroke-width="1.08" fill="none" stroke-linejoin="round" stroke-linecap="round"/>
<path d="M360.2,384.4 L362.6,387.2" stroke="#000" stroke-width="1.08" fill="none" stroke-linejoin="round" stroke-linecap="round"/>
<path d="M358.1,386.5 L360.5,389.3" stroke="#000" stroke-width="1.08" fill="none" stroke-linejoin="round" stroke-linecap="round"/>
<path d="M356.0,388.7 L358.4,391.5" stroke="#000" stroke-width="1.08" fill="none" stroke-linejoin="round" stroke-linecap="round"/>
<path d="M386.0,357.0 C386.8,355.6 388.2,354.2 390.0,353.5 C391.8,352.8 394.8,352.7 397.0,353.0 C399.2,353.3 401.5,354.5 403.0,355.5 C404.5,356.5 405.8,357.6 406.0,359.0 C406.2,360.4 405.2,362.4 404.0,364.0 C402.8,365.6 401.0,367.6 399.0,368.5 C397.0,369.4 394.0,369.8 392.0,369.5 C390.0,369.2 388.1,368.2 387.0,367.0 C385.9,365.8 385.7,363.7 385.5,362.0 C385.3,360.3 385.2,358.4 386.0,357.0Z" stroke="#000" stroke-width="1.20" fill="none" stroke-linejoin="round" stroke-linecap="round"/>
<path d="M388.5,366.5 L404.5,357.5 L405.5,360.0 L390.0,369.0Z" stroke="#000" stroke-width="0.96" fill="#fff" stroke-linejoin="round" stroke-linecap="round"/>
<path d="M418.0,330.0 C417.2,331.6 414.5,336.5 413.3,339.8 C412.1,343.1 411.0,346.6 411.0,349.6 C411.0,352.6 412.3,355.1 413.3,358.0 C414.3,360.9 415.8,363.9 417.0,366.7 C418.2,369.5 419.5,372.1 420.7,375.0 C421.9,377.9 423.2,380.9 424.4,383.8 C425.6,386.7 427.1,389.6 428.0,392.3 C428.9,395.0 429.5,397.5 430.0,400.0 C430.5,402.5 431.2,405.7 431.0,407.5 C430.8,409.3 430.1,411.2 429.0,411.0 C427.9,410.8 426.0,408.1 424.5,406.5 C423.0,404.9 421.5,403.2 420.0,401.5 C418.5,399.8 416.9,398.5 415.5,396.5 C414.1,394.5 412.7,391.9 411.5,389.5 C410.3,387.1 409.3,384.4 408.5,382.0 C407.7,379.6 407.2,377.3 406.5,375.0 C405.8,372.7 404.8,369.2 404.5,368.0" stroke="#000" stroke-width="1.20" fill="none" stroke-linejoin="round" stroke-linecap="round"/>
<path d="M414.0,384.0 C414.7,385.3 416.5,389.4 418.0,392.0 C419.5,394.6 421.5,397.6 423.0,399.5 C424.5,401.4 426.2,403.2 427.0,403.5 C427.8,403.8 427.9,402.2 427.5,401.0 C427.1,399.8 425.6,397.9 424.5,396.0 C423.4,394.1 421.6,390.6 421.0,389.5" stroke="#000" stroke-width="0.96" fill="none" stroke-linejoin="round" stroke-linecap="round"/>
<path d="M395.5,385.0 C396.2,383.5 397.6,382.9 399.0,382.6 C400.4,382.4 402.7,382.6 404.0,383.5 C405.3,384.4 406.6,386.2 407.0,388.0 C407.4,389.8 407.2,392.4 406.5,394.0 C405.8,395.6 404.0,397.1 402.5,397.5 C401.0,397.9 398.8,397.5 397.5,396.5 C396.2,395.5 394.8,393.4 394.5,391.5 C394.2,389.6 394.8,386.5 395.5,385.0Z" stroke="#000" stroke-width="1.20" fill="none" stroke-linejoin="round" stroke-linecap="round"/>
<path d="M398.5,369.0 C398.8,370.0 400.3,373.0 400.5,375.0 C400.7,377.0 399.8,379.7 399.5,381.0 C399.2,382.3 399.1,382.3 399.0,382.6" stroke="#000" stroke-width="1.08" fill="none" stroke-linejoin="round" stroke-linecap="round"/>
<path d="M403.5,367.0 C403.8,368.3 405.0,372.7 405.5,375.0 C406.0,377.3 406.2,378.8 406.5,381.0 C406.8,383.2 406.9,386.8 407.0,388.0" stroke="#000" stroke-width="1.08" fill="none" stroke-linejoin="round" stroke-linecap="round"/>
<path d="M387.5,405.0 L392.0,401.0 L397.0,404.5 L397.8,408.0 L402.0,410.0 L407.0,412.3 L408.5,412.0 L416.5,402.3 L418.5,404.0 L410.5,413.5 L413.8,420.0 L420.0,427.3 L428.7,434.3 L427.8,435.8 L419.0,429.3 L412.5,422.0 L408.5,415.3 L403.0,413.8 L398.0,412.7 L391.0,410.0 L387.3,406.5Z" stroke="#000" stroke-width="1.20" fill="none" stroke-linejoin="round" stroke-linecap="round"/>
<path d="M391.0,410.8 L397.5,414.0 L395.8,417.5 L399.5,420.0 L398.5,422.5 L394.0,420.5 L393.5,418.7 L387.0,415.5Z" stroke="#000" stroke-width="1.20" fill="none" stroke-linejoin="round" stroke-linecap="round"/>
<path d="M603.5,59.0 C604.3,58.0 606.6,55.1 608.2,52.9 C609.8,50.7 611.1,48.2 612.9,45.9 C614.7,43.6 616.9,41.1 619.0,38.9 C621.1,36.7 623.2,34.9 625.3,32.7 C627.4,30.5 629.5,28.0 631.5,25.7 C633.5,23.4 635.7,21.2 637.0,18.7 C638.3,16.2 638.9,12.6 639.3,10.9 C639.7,9.2 639.5,8.9 639.5,8.5" stroke="#000" stroke-width="1.20" fill="none" stroke-linejoin="round" stroke-linecap="round"/>
<path d="M487.4,153.3 C488.0,152.7 489.9,150.3 491.3,149.4 C492.7,148.5 494.3,148.3 496.0,147.9 C497.7,147.5 500.1,147.7 501.4,147.0 C502.7,146.3 503.6,145.5 504.0,144.0 C504.4,142.5 503.8,140.0 504.0,138.0 C504.2,136.0 504.8,134.2 505.5,132.0 C506.2,129.8 507.6,127.4 508.5,125.0 C509.4,122.6 510.1,120.4 511.0,117.5 C511.9,114.6 512.9,110.8 513.8,107.5 C514.6,104.2 515.0,100.4 516.0,97.5 C517.0,94.6 518.5,92.5 520.0,90.0 C521.5,87.5 522.5,84.6 525.0,82.5 C527.5,80.4 531.7,79.2 535.0,77.5 C538.3,75.8 541.7,74.2 545.0,72.5 C548.3,70.8 551.7,69.2 555.0,67.5 C558.3,65.8 562.6,63.5 565.0,62.5 C567.4,61.5 568.4,60.8 569.5,61.5 C570.6,62.2 571.4,64.4 571.8,66.5 C572.2,68.6 572.3,71.7 572.1,74.3 C571.9,76.9 571.1,79.4 570.6,82.0 C570.1,84.6 569.5,87.6 569.0,89.8 C568.5,92.0 568.0,93.3 567.8,95.0 C567.5,96.7 566.7,98.5 567.5,100.0 C568.3,101.5 570.8,102.1 572.5,103.8 C574.2,105.5 576.1,108.1 577.5,110.0 C578.9,111.9 579.4,113.3 580.6,115.0 C581.8,116.7 583.7,119.0 584.7,120.0 C585.7,121.0 585.3,119.7 586.7,120.7 C588.1,121.7 591.1,124.2 593.3,126.0 C595.5,127.8 597.8,129.5 600.0,131.3 C602.2,133.1 604.9,135.1 606.7,136.7 C608.5,138.3 609.9,139.6 610.7,140.7 C611.5,141.8 611.5,142.4 611.3,143.3 C611.1,144.2 610.2,145.0 609.3,146.0 C608.4,147.0 607.1,148.2 606.0,149.3 C604.9,150.4 603.9,151.8 602.7,152.7 C601.5,153.6 600.3,154.4 598.7,154.7 C597.1,155.0 595.1,154.9 593.3,154.7 C591.5,154.5 589.8,154.1 588.0,153.3 C586.2,152.5 584.2,151.3 582.7,150.0 C581.2,148.7 580.1,146.9 579.3,145.3 C578.5,143.8 578.2,142.1 578.0,140.7 C577.8,139.3 578.3,137.8 578.0,136.7 C577.7,135.6 576.3,134.4 576.0,134.0" stroke="#000" stroke-width="1.20" fill="none" stroke-linejoin="round" stroke-linecap="round"/>
<path d="M489.8,137.8 C488.8,138.8 485.6,141.9 483.5,144.0 C481.4,146.1 478.5,148.1 477.3,150.2 C476.1,152.3 476.5,154.3 476.5,156.4 C476.5,158.5 477.0,160.6 477.3,162.7 C477.6,164.8 477.7,166.4 478.1,168.9 C478.5,171.4 479.3,176.0 479.5,177.4" stroke="#000" stroke-width="1.08" fill="none" stroke-linejoin="round" stroke-linecap="round"/>
<path d="M490.5,139.5 C489.6,140.5 486.9,143.7 485.1,145.6 C483.3,147.5 480.7,149.1 479.7,151.0 C478.7,152.9 478.9,155.0 478.9,157.2 C478.9,159.4 479.5,161.7 479.7,164.2 C479.9,166.7 479.9,169.8 479.9,172.0 C479.9,174.2 479.6,176.5 479.5,177.4" stroke="#000" stroke-width="1.08" fill="none" stroke-linejoin="round" stroke-linecap="round"/>
<path d="M489.8,137.8 C490.4,137.8 492.6,137.0 493.5,137.5 C494.4,138.0 494.7,139.8 495.0,141.0 C495.3,142.2 495.1,143.9 495.5,145.0 C495.9,146.1 497.2,147.1 497.5,147.5" stroke="#000" stroke-width="1.08" fill="none" stroke-linejoin="round" stroke-linecap="round"/>
<path d="M493.5,137.5 C494.2,137.8 496.7,138.1 498.0,139.0 C499.3,139.9 500.9,142.3 501.5,143.0" stroke="#000" stroke-width="0.96" fill="none" stroke-linejoin="round" stroke-linecap="round"/>
<path d="M475.0,78.8 L481.0,87.5" stroke="#000" stroke-width="1.32" fill="none" stroke-linejoin="round" stroke-linecap="round"/>
<path d="M485.0,75.0 L491.0,81.0" stroke="#000" stroke-width="1.32" fill="none" stroke-linejoin="round" stroke-linecap="round"/>
<path d="M508.8,79.5 C509.1,78.1 511.0,77.4 512.0,77.5 C513.0,77.6 514.7,78.7 515.0,80.0 C515.3,81.3 514.8,84.5 514.0,85.5 C513.2,86.5 510.9,87.0 510.0,86.0 C509.1,85.0 508.4,80.9 508.8,79.5Z" stroke="#000" stroke-width="1.08" fill="none" stroke-linejoin="round" stroke-linecap="round"/>
<path d="M506.0,68.0 C506.1,67.4 509.6,65.5 511.7,63.9 C513.9,62.2 516.5,59.9 518.9,58.1 C521.3,56.3 523.7,54.6 526.1,53.0 C528.5,51.4 531.0,50.1 533.4,48.7 C535.8,47.3 538.4,45.5 540.6,44.4 C542.8,43.3 544.7,42.3 546.4,42.2 C548.1,42.1 549.6,42.9 550.7,43.7 C551.9,44.5 553.3,45.8 553.3,46.8 C553.3,47.8 552.1,48.5 550.7,49.7 C549.3,50.9 547.2,52.7 545.0,53.8 C542.8,54.9 540.6,55.3 537.7,56.3 C534.8,57.3 530.7,58.7 527.6,60.0 C524.5,61.3 521.7,63.0 518.9,64.3 C516.1,65.5 513.1,66.9 511.0,67.5 C508.9,68.1 505.9,68.6 506.0,68.0Z" stroke="#000" stroke-width="1.20" fill="#000" stroke-linejoin="round" stroke-linecap="round"/>
<path d="M505.0,125.5 C504.6,125.4 503.3,123.9 502.3,125.0 C501.3,126.1 499.7,129.8 499.0,132.0 C498.3,134.2 498.4,137.0 498.3,138.0" stroke="#000" stroke-width="0.96" fill="none" stroke-linejoin="round" stroke-linecap="round"/>
<path d="M502.0,127.0 L505.0,128.0" stroke="#000" stroke-width="0.84" fill="none" stroke-linejoin="round" stroke-linecap="round"/>
<path d="M501.4,129.4 L504.5,130.4" stroke="#000" stroke-width="0.84" fill="none" stroke-linejoin="round" stroke-linecap="round"/>
<path d="M500.8,131.8 L504.0,132.8" stroke="#000" stroke-width="0.84" fill="none" stroke-linejoin="round" stroke-linecap="round"/>
<path d="M500.2,134.2 L503.5,135.2" stroke="#000" stroke-width="0.84" fill="none" stroke-linejoin="round" stroke-linecap="round"/>
<path d="M499.6,136.6 L503.0,137.6" stroke="#000" stroke-width="0.84" fill="none" stroke-linejoin="round" stroke-linecap="round"/>
<path d="M562.8,48.6 C564.1,48.3 568.3,46.7 570.6,46.6 C572.9,46.5 575.1,46.8 576.8,47.8 C578.5,48.8 579.9,50.7 580.7,52.5 C581.5,54.3 581.6,56.6 581.5,58.7 C581.4,60.8 580.5,62.6 579.9,64.9 C579.2,67.2 578.4,70.1 577.6,72.7 C576.8,75.3 576.0,77.9 575.2,80.5 C574.4,83.1 573.4,86.0 572.9,88.3 C572.4,90.6 572.1,93.4 572.0,94.5 C571.9,95.6 571.8,93.9 572.5,95.0 C573.2,96.1 574.8,99.4 576.3,101.3 C577.8,103.2 579.4,104.6 581.3,106.3 C583.2,108.0 585.2,109.5 587.5,111.3 C589.8,113.1 592.5,115.1 595.0,116.9 C597.5,118.7 600.0,120.2 602.5,121.9 C605.0,123.6 607.7,125.6 610.0,126.9 C612.3,128.2 614.2,129.3 616.3,130.0 C618.4,130.7 620.2,131.3 622.5,131.3 C624.8,131.3 627.5,130.8 630.0,130.0 C632.5,129.2 635.8,127.2 637.5,126.3 C639.2,125.4 639.6,125.0 640.0,124.8" stroke="#000" stroke-width="1.08" fill="none" stroke-linejoin="round" stroke-linecap="round"/>
<path d="M564.3,50.9 C565.3,50.6 568.8,49.3 570.6,49.3 C572.4,49.3 574.0,50.0 575.2,50.9 C576.4,51.8 577.1,53.2 577.6,54.8 C578.1,56.3 578.5,58.2 578.4,60.2 C578.3,62.2 577.4,64.2 576.8,66.5 C576.1,68.8 575.3,71.7 574.5,74.3 C573.7,76.9 572.8,79.4 572.1,82.0 C571.5,84.6 571.0,87.5 570.6,89.8 C570.2,92.1 569.7,94.5 569.8,96.0 C569.9,97.5 570.2,97.8 571.0,99.0 C571.8,100.2 573.3,101.5 574.8,103.0 C576.3,104.5 578.1,106.3 580.0,108.0 C581.9,109.7 584.0,111.2 586.3,113.0 C588.6,114.8 591.5,116.9 594.0,118.7 C596.5,120.5 599.0,121.9 601.5,123.6 C604.0,125.2 606.6,127.2 609.0,128.6 C611.4,130.0 613.5,131.1 615.8,131.8 C618.0,132.5 620.0,133.0 622.5,133.0 C625.0,133.0 627.9,132.5 630.5,131.6 C633.1,130.7 636.4,128.7 638.0,127.8 C639.6,127.0 639.7,126.7 640.0,126.5" stroke="#000" stroke-width="1.08" fill="none" stroke-linejoin="round" stroke-linecap="round"/>
<path d="M603.5,59.0 C602.5,60.3 599.8,64.1 597.5,67.0 C595.2,69.9 592.0,73.7 590.0,76.5 C588.0,79.3 586.6,81.4 585.4,83.6 C584.2,85.8 583.1,87.7 583.0,89.8 C582.9,91.9 583.8,94.4 585.0,96.3 C586.2,98.2 588.5,100.0 590.0,101.3 C591.5,102.5 593.0,103.0 593.8,103.8 C594.6,104.6 593.8,105.0 595.0,106.3 C596.2,107.5 599.0,109.4 601.3,111.3 C603.6,113.2 606.3,115.4 608.8,117.5 C611.3,119.6 614.0,122.0 616.3,123.8 C618.6,125.6 620.6,127.8 622.5,128.5 C624.4,129.2 625.6,128.6 627.5,128.1 C629.4,127.6 631.7,126.6 633.8,125.6 C635.9,124.6 639.0,122.6 640.0,122.0" stroke="#000" stroke-width="1.20" fill="none" stroke-linejoin="round" stroke-linecap="round"/>
<path d="M640.0,126.0 C639.1,126.7 636.5,128.7 634.7,130.0 C632.9,131.3 630.9,132.6 629.3,134.0 C627.7,135.4 626.4,136.9 625.3,138.7 C624.2,140.5 623.2,142.6 622.7,144.7 C622.2,146.8 621.9,149.1 622.0,151.3 C622.1,153.5 622.8,156.0 623.3,158.0 C623.8,160.0 624.5,161.5 625.3,163.3 C626.1,165.1 627.0,166.8 628.0,168.7 C629.0,170.6 630.0,171.9 631.5,174.5 C633.0,177.1 635.3,181.3 636.7,184.4 C638.1,187.5 639.5,191.8 640.0,193.3" stroke="#000" stroke-width="1.20" fill="none" stroke-linejoin="round" stroke-linecap="round"/>
<path d="M575.3,132.0 C574.5,132.1 572.1,132.2 570.7,132.7 C569.3,133.1 567.7,133.7 566.7,134.7 C565.7,135.7 565.2,137.4 564.7,138.7 C564.2,140.0 564.8,141.8 564.0,142.7 C563.2,143.6 561.5,144.2 560.0,144.4 C558.5,144.6 556.7,143.0 555.0,143.8 C553.3,144.5 551.2,146.9 550.0,148.8 C548.8,150.6 548.2,152.7 547.5,155.0 C546.8,157.3 545.8,160.4 546.0,162.5 C546.2,164.6 547.5,166.5 548.8,167.5 C550.0,168.5 552.3,169.4 553.8,168.8 C555.2,168.1 556.7,165.6 557.5,163.8 C558.3,161.9 557.9,159.2 558.8,157.5 C559.6,155.8 560.8,154.1 562.5,153.8 C564.2,153.4 566.7,154.3 568.9,155.5 C571.1,156.7 573.3,158.9 575.5,161.0 C577.7,163.1 580.0,165.6 582.2,167.8 C584.4,170.0 586.9,172.6 588.9,174.4 C590.9,176.2 592.9,178.1 594.4,178.9 C595.9,179.8 596.3,179.9 597.8,179.5 C599.3,179.1 601.3,177.5 603.3,176.7 C605.3,175.8 608.1,174.4 610.0,174.4 C611.9,174.4 612.9,175.4 614.4,176.7 C615.9,178.0 617.0,180.2 618.9,182.2 C620.8,184.2 623.1,186.7 625.5,188.9 C627.9,191.1 631.2,193.7 633.3,195.5 C635.3,197.3 637.0,199.2 637.8,200.0" stroke="#000" stroke-width="1.20" fill="none" stroke-linejoin="round" stroke-linecap="round"/>
<path d="M580.7,118.0 L575.3,131.3" stroke="#000" stroke-width="1.08" fill="none" stroke-linejoin="round" stroke-linecap="round"/>
<path d="M584.7,120.0 L578.7,133.3" stroke="#000" stroke-width="1.08" fill="none" stroke-linejoin="round" stroke-linecap="round"/>
<path d="M607.5,37.0 L611.0,33.5" stroke="#000" stroke-width="1.80" fill="none" stroke-linejoin="round" stroke-linecap="round"/>
<path d="M610.5,36.0 L613.5,32.5" stroke="#000" stroke-width="1.80" fill="none" stroke-linejoin="round" stroke-linecap="round"/>
<path d="M613.0,31.0 L617.5,27.5" stroke="#000" stroke-width="1.80" fill="none" stroke-linejoin="round" stroke-linecap="round"/>
<path d="M615.5,33.5 L619.0,30.0" stroke="#000" stroke-width="1.80" fill="none" stroke-linejoin="round" stroke-linecap="round"/>
<path d="M617.0,28.5 L619.5,31.5" stroke="#000" stroke-width="1.80" fill="none" stroke-linejoin="round" stroke-linecap="round"/>
<path d="M609.0,33.0 L610.5,35.0" stroke="#000" stroke-width="1.80" fill="none" stroke-linejoin="round" stroke-linecap="round"/>
<path d="M83.0,247.5 C82.7,247.7 81.7,247.9 81.3,248.4 C80.9,248.9 80.4,249.9 80.6,250.5 C80.8,251.1 81.7,251.4 82.3,252.0 C82.9,252.6 83.8,253.0 84.0,254.0 C84.2,255.0 83.9,257.0 83.3,257.8 C82.7,258.6 82.2,257.6 80.4,259.0 C78.6,260.4 75.2,263.9 72.3,266.0 C69.4,268.1 65.7,269.7 63.0,271.8 C60.3,273.9 58.2,276.1 56.0,278.8 C53.8,281.5 52.0,285.9 50.0,288.0 C48.0,290.1 46.8,290.0 44.3,291.6 C41.8,293.2 38.5,295.7 35.0,297.4 C31.5,299.1 27.2,300.6 23.3,302.0 C19.4,303.4 15.6,304.9 11.7,305.6 C7.8,306.3 1.9,305.9 0.0,306.0" stroke="#000" stroke-width="1.20" fill="none" stroke-linejoin="round" stroke-linecap="round"/>
<path d="M100.5,264.0 C99.8,264.3 97.4,264.8 96.0,266.0 C94.6,267.2 93.3,269.2 92.0,271.0 C90.7,272.8 89.3,275.3 88.0,277.0 C86.7,278.7 85.3,279.9 84.0,281.0 C82.7,282.1 82.0,282.3 80.4,283.5 C78.8,284.7 76.7,286.4 74.6,288.0 C72.5,289.6 69.5,291.2 67.6,292.8 C65.7,294.4 63.8,296.6 63.0,297.4" stroke="#000" stroke-width="1.20" fill="none" stroke-linejoin="round" stroke-linecap="round"/>
<path d="M63.0,297.4 C62.0,298.2 60.7,299.6 60.0,301.0 C59.3,302.4 58.5,304.3 59.0,305.5 C59.5,306.7 61.5,307.6 63.0,308.0 C64.5,308.4 66.8,308.7 68.0,308.0 C69.2,307.3 70.3,305.5 70.5,304.0 C70.7,302.5 69.8,300.3 69.0,299.0 C68.2,297.7 67.0,296.3 66.0,296.0 C65.0,295.7 64.0,296.6 63.0,297.4Z" stroke="#000" stroke-width="1.20" fill="none" stroke-linejoin="round" stroke-linecap="round"/>
<path d="M65.0,297.2 L59.8,306.0" stroke="#000" stroke-width="0.84" fill="none" stroke-linejoin="round" stroke-linecap="round"/>
<path d="M65.0,297.2 L61.5,306.0" stroke="#000" stroke-width="0.84" fill="none" stroke-linejoin="round" stroke-linecap="round"/>
<path d="M65.0,297.2 L63.2,307.3" stroke="#000" stroke-width="0.84" fill="none" stroke-linejoin="round" stroke-linecap="round"/>
<path d="M65.0,297.2 L64.9,307.3" stroke="#000" stroke-width="0.84" fill="none" stroke-linejoin="round" stroke-linecap="round"/>
<path d="M65.0,297.2 L66.6,307.3" stroke="#000" stroke-width="0.84" fill="none" stroke-linejoin="round" stroke-linecap="round"/>
<path d="M65.0,297.2 L68.3,306.0" stroke="#000" stroke-width="0.84" fill="none" stroke-linejoin="round" stroke-linecap="round"/>
<path d="M65.0,297.2 L70.0,306.0" stroke="#000" stroke-width="0.84" fill="none" stroke-linejoin="round" stroke-linecap="round"/>
<path d="M59.0,305.5 C58.3,305.3 56.3,303.4 54.8,304.4 C53.3,305.4 51.8,309.5 50.0,311.4 C48.2,313.3 47.2,314.6 44.3,316.0 C41.4,317.4 36.5,318.4 32.6,319.6 C28.7,320.8 24.1,322.0 21.0,323.0 C17.9,324.0 14.6,324.2 14.0,325.4 C13.4,326.6 15.9,328.4 17.5,330.0 C19.1,331.6 21.4,333.5 23.3,334.7 C25.2,335.9 27.8,336.0 29.0,337.0 C30.2,338.0 30.7,339.8 30.3,340.6 C29.9,341.4 27.8,342.3 26.8,341.7 C25.8,341.1 25.9,338.4 24.5,337.0 C23.1,335.6 20.6,334.4 18.6,333.6 C16.7,332.8 14.7,332.2 12.8,332.4 C10.9,332.6 9.1,333.9 7.0,334.7 C4.9,335.5 1.2,336.6 0.0,337.0" stroke="#000" stroke-width="1.20" fill="none" stroke-linejoin="round" stroke-linecap="round"/>
<path d="M14.0,325.4 C13.3,325.7 11.3,326.1 10.0,327.0 C8.7,327.9 6.7,330.3 6.0,331.0" stroke="#000" stroke-width="1.08" fill="none" stroke-linejoin="round" stroke-linecap="round"/>
<path d="M12.8,305.6 L44.3,294.0" stroke="#000" stroke-width="1.20" fill="none" stroke-linejoin="round" stroke-linecap="round"/>
<path d="M14.0,312.0 L48.0,299.0" stroke="#000" stroke-width="1.20" fill="none" stroke-linejoin="round" stroke-linecap="round"/>
<path d="M12.0,324.5 L44.3,316.0" stroke="#000" stroke-width="1.20" fill="none" stroke-linejoin="round" stroke-linecap="round"/>
<path d="M44.3,294.0 C45.2,295.6 49.2,300.2 50.0,303.3 C50.8,306.4 50.0,310.5 49.0,312.6 C48.0,314.7 45.1,315.4 44.3,316.0" stroke="#000" stroke-width="1.20" fill="none" stroke-linejoin="round" stroke-linecap="round"/>
<path d="M0.0,250.8 C1.2,251.0 5.0,250.8 7.0,252.0 C8.9,253.2 10.7,255.1 11.7,257.8 C12.7,260.5 12.8,264.6 12.8,268.3 C12.8,272.0 12.5,276.3 11.7,280.0 C10.9,283.7 9.6,287.6 8.2,290.5 C6.8,293.4 4.9,295.8 3.5,297.4 C2.1,298.9 0.6,299.4 0.0,299.8" stroke="#000" stroke-width="1.20" fill="none" stroke-linejoin="round" stroke-linecap="round"/>
<path d="M1.5,261.5 C1.8,260.8 3.2,259.5 4.0,259.5 C4.8,259.5 5.9,260.8 6.0,261.5 C6.1,262.2 5.2,263.6 4.5,264.0 C3.8,264.4 2.5,264.4 2.0,264.0 C1.5,263.6 1.2,262.2 1.5,261.5Z" stroke="#000" stroke-width="1.08" fill="none" stroke-linejoin="round" stroke-linecap="round"/>
<path d="M65.5,283.0 C65.8,282.2 66.7,280.8 67.5,280.5 C68.3,280.2 69.9,280.4 70.5,281.0 C71.1,281.6 71.3,283.2 71.0,284.0 C70.7,284.8 69.3,285.6 68.5,285.8 C67.7,286.0 66.5,285.8 66.0,285.3 C65.5,284.8 65.2,283.8 65.5,283.0Z" stroke="#000" stroke-width="1.08" fill="none" stroke-linejoin="round" stroke-linecap="round"/>
<path d="M80.0,281.5 C80.8,280.8 82.6,280.2 84.0,280.5 C85.4,280.8 87.3,281.9 88.5,283.0 C89.7,284.1 90.9,285.5 91.0,287.0 C91.1,288.5 89.8,290.8 89.0,292.0 C88.2,293.2 86.9,293.3 86.0,294.0 C85.1,294.7 84.1,296.6 83.5,296.3 C82.9,296.0 83.0,293.2 82.5,292.0 C82.0,290.8 81.0,290.2 80.5,289.0 C80.0,287.8 79.6,286.2 79.5,285.0 C79.4,283.8 79.2,282.2 80.0,281.5Z" stroke="#000" stroke-width="1.20" fill="none" stroke-linejoin="round" stroke-linecap="round"/>
<path d="M88.5,262.5 L93.5,261.0 L94.5,265.5 L89.5,267.0Z" stroke="#000" stroke-width="1.08" fill="none" stroke-linejoin="round" stroke-linecap="round"/>
<path d="M82.5,273.0 C82.9,271.9 84.7,271.2 85.5,271.5 C86.3,271.8 87.3,273.8 87.3,275.0 C87.3,276.2 86.2,278.5 85.5,279.0 C84.8,279.5 83.5,279.0 83.0,278.0 C82.5,277.0 82.1,274.1 82.5,273.0Z" stroke="#000" stroke-width="1.08" fill="none" stroke-linejoin="round" stroke-linecap="round"/>
<path d="M89.0,249.0 C89.7,247.5 91.6,247.1 93.0,247.0 C94.4,246.9 96.5,247.5 97.5,248.5 C98.5,249.5 99.1,251.5 99.0,253.0 C98.9,254.5 98.2,256.5 97.0,257.5 C95.8,258.5 93.3,259.1 92.0,258.8 C90.7,258.6 89.5,257.6 89.0,256.0 C88.5,254.4 88.3,250.5 89.0,249.0Z" stroke="#000" stroke-width="1.68" fill="none" stroke-linejoin="round" stroke-linecap="round"/>
<path d="M100.0,236.3 C100.5,235.2 102.4,234.5 103.5,234.5 C104.6,234.5 106.0,235.5 106.5,236.5 C107.0,237.5 107.2,239.4 106.7,240.5 C106.2,241.6 104.6,242.9 103.5,243.0 C102.4,243.1 100.9,242.1 100.3,241.0 C99.7,239.9 99.5,237.4 100.0,236.3Z" stroke="#000" stroke-width="1.56" fill="none" stroke-linejoin="round" stroke-linecap="round"/>
<path d="M105.3,229.5 L105.3,234.0" stroke="#000" stroke-width="1.92" fill="none" stroke-linejoin="round" stroke-linecap="round"/>
<path d="M100.5,264.0 C101.4,263.2 105.0,263.3 107.5,263.3 C110.0,263.3 113.2,262.8 115.3,264.0 C117.4,265.2 119.7,268.6 120.0,270.3 C120.3,272.0 118.5,273.7 116.9,274.2 C115.3,274.7 112.6,273.8 110.6,273.4 C108.6,273.0 106.4,272.8 105.0,271.9 C103.6,271.0 102.8,269.3 102.0,268.0 C101.2,266.7 99.6,264.8 100.5,264.0Z" stroke="#000" stroke-width="1.20" fill="none" stroke-linejoin="round" stroke-linecap="round"/>
<path d="M116.9,258.6 C117.7,259.6 120.3,262.6 121.6,264.8 C122.9,267.0 124.3,269.9 124.7,271.9 C125.1,273.9 123.4,275.0 123.9,276.6 C124.4,278.2 126.4,279.6 127.8,281.2 C129.2,282.9 130.9,285.1 132.5,286.7 C134.1,288.3 135.8,289.1 137.2,290.6 C138.6,292.1 139.9,293.9 141.0,295.5 C142.1,297.1 143.3,299.2 143.5,300.5 C143.7,301.8 142.8,303.2 142.3,303.5 C141.8,303.8 140.5,303.1 140.3,302.5 C140.1,301.9 140.9,300.4 141.0,300.0" stroke="#000" stroke-width="1.20" fill="none" stroke-linejoin="round" stroke-linecap="round"/>
<path d="M116.9,274.2 C116.6,275.0 115.0,278.0 115.3,278.9 C115.5,279.8 117.1,279.0 118.4,279.7 C119.7,280.4 121.4,281.5 123.0,282.8 C124.6,284.1 126.2,286.0 127.8,287.5 C129.4,289.0 131.1,290.5 132.5,292.0 C133.9,293.5 135.2,294.8 136.5,296.5 C137.8,298.2 139.7,301.5 140.3,302.5" stroke="#000" stroke-width="1.20" fill="none" stroke-linejoin="round" stroke-linecap="round"/>
<path d="M113.0,276.5 C113.4,276.9 114.5,279.0 115.3,278.9 C116.0,278.8 117.1,276.5 117.5,276.0" stroke="#000" stroke-width="1.08" fill="none" stroke-linejoin="round" stroke-linecap="round"/>
<path d="M100.5,274.5 C100.4,275.2 102.0,276.9 102.8,277.0 C103.5,277.1 104.9,275.7 105.0,275.0 C105.1,274.3 104.2,273.1 103.5,273.0 C102.8,272.9 100.6,273.8 100.5,274.5Z" stroke="#000" stroke-width="1.08" fill="none" stroke-linejoin="round" stroke-linecap="round"/>
<path d="M39.9,112.5l-2.8,0.4M41.0,110.3l-1.6,2.3M43.6,111.5l-0.1,2.8M38.7,112.3l-1.0,2.6M39.8,112.0l-1.5,2.4M40.3,114.4l2.8,0.5M45.1,113.7l-2.7,0.9M42.4,115.0l-2.2,1.8M44.2,115.6l-2.6,1.1M46.6,114.8l-2.3,1.7M39.4,117.5l0.9,2.6M42.1,116.2l0.9,2.7M44.1,116.8l2.7,0.9M47.1,117.3l-1.1,2.6M40.1,119.9l2.7,0.5M42.7,119.3l2.7,0.6M44.8,119.3l2.2,1.7M40.0,121.7l2.4,1.4M44.0,121.8l1.3,2.5M46.0,121.3l2.8,0.5M47.4,122.4l2.8,0.0M43.5,122.8l2.5,1.3M46.3,124.3l2.7,0.9M43.4,124.6l1.2,2.5M45.0,126.7l2.8,0.2M48.9,127.6l-2.6,1.1" stroke="#000" stroke-width="1.25" fill="none"/>
<path d="M109.9,177.6l0.5,2.6M104.0,178.4l2.2,1.4M104.3,180.5l2.6,0.0M109.6,178.3l-2.1,1.5M109.5,178.2l2.2,1.3M112.4,179.3l0.2,2.6M116.0,179.1l-1.7,2.0M105.1,180.7l-0.5,2.6M106.9,180.9l1.4,2.2M109.3,179.7l-0.1,2.6M112.3,181.1l-0.5,2.6M115.1,181.2l-2.0,1.6M102.8,182.8l2.5,0.9M106.5,181.1l-0.5,2.6M106.7,181.9l1.8,1.8M109.2,182.6l1.7,2.0M114.3,182.3l-2.0,1.7M115.3,182.8l-0.1,2.6M104.6,183.4l-0.5,2.6M105.9,183.6l-1.9,1.8M108.2,184.1l-2.5,0.7M109.5,184.4l0.5,2.6M112.6,183.7l-0.9,2.4M113.8,184.2l-0.0,2.6M114.8,184.0l-0.1,2.6M106.0,186.1l-1.5,2.1M106.8,185.4l0.4,2.6M108.1,185.9l-0.3,2.6M110.1,185.9l0.2,2.6M114.6,186.3l-2.6,0.5M115.1,186.5l-1.5,2.1M106.0,187.3l-2.4,1.0M109.5,188.8l-2.6,0.5M108.0,188.1l1.8,1.9M112.6,187.4l-0.5,2.6M114.5,188.3l-2.6,0.5M116.0,186.9l-2.3,1.3M104.2,189.9l2.4,1.1M105.3,190.5l2.4,1.0M108.1,189.6l0.5,2.6M109.8,189.4l2.5,0.6M111.1,188.9l1.9,1.8M112.8,190.0l2.5,0.6M107.9,190.7l-1.3,2.2" stroke="#000" stroke-width="1.0" fill="none"/>
<path d="M104.2,178.9h.01M112.2,179.1h.01M113.2,179.1h.01M104.6,180.2h.01M108.5,181.0h.01M109.2,180.1h.01M112.6,179.9h.01M114.5,179.8h.01M104.0,181.4h.01M106.2,182.4h.01M107.6,182.1h.01M111.6,182.6h.01M112.9,183.7h.01M105.5,185.9h.01M106.5,184.2h.01M108.9,185.4h.01M112.1,183.9h.01M115.0,185.7h.01M104.2,186.5h.01M105.3,188.0h.01M108.9,187.5h.01M110.3,186.0h.01M114.3,186.9h.01M107.7,190.0h.01M109.0,190.1h.01M111.6,190.2h.01M115.1,188.9h.01M105.6,190.7h.01M108.8,191.0h.01M110.4,190.8h.01M112.8,190.9h.01" stroke="#000" stroke-width="1.20" stroke-linecap="round" fill="none"/>
<path d="M134.7,153.9l-2.8,1.2M133.9,153.4l3.0,0.2M135.4,154.5l3.0,0.3M140.9,153.2l-1.8,2.4M142.3,153.2l-2.8,1.0M142.5,152.5l0.3,3.0M144.7,152.5l-0.8,2.9M144.7,154.8l3.0,0.0M149.3,153.4l1.0,2.8M134.1,155.3l-2.9,0.7M135.4,154.5l-2.6,1.6M137.4,154.8l-2.7,1.3M139.3,154.7l-3.0,0.3M138.9,154.1l2.1,2.1M140.8,155.2l2.8,1.0M143.0,155.2l2.7,1.4M146.2,154.7l-0.2,3.0M148.1,154.1l-1.6,2.5M151.6,154.8l-2.9,0.5M152.4,154.7l-1.9,2.3M152.8,154.8l-1.3,2.7M132.1,156.4l-2.2,2.0M132.4,156.2l0.4,3.0M133.7,155.8l-0.5,3.0M134.3,157.6l3.0,0.4M139.3,156.8l-2.3,1.9M138.4,156.8l2.2,2.0M142.9,157.1l-2.9,0.7M143.2,155.1l-1.3,2.7M143.3,155.7l1.7,2.4M144.6,157.2l2.8,1.2M147.4,156.3l2.1,2.1M151.0,156.1l-1.2,2.7M152.9,155.2l-1.8,2.4M128.6,158.6l2.8,1.0M129.8,158.5l2.9,0.7M133.5,156.6l-0.2,3.0M135.7,156.9l-0.8,2.9M135.5,157.0l1.0,2.8M137.7,157.3l2.3,1.9M141.2,158.1l-0.9,2.9M140.6,158.5l3.0,0.1M143.0,157.8l1.8,2.4M145.9,157.5l0.4,3.0M149.2,157.9l-3.0,0.4M149.4,157.0l-1.3,2.7M152.9,157.9l-2.8,1.1M152.9,156.5l0.2,3.0M128.6,158.9l2.2,2.0M131.4,159.6l2.1,2.1M135.8,159.8l-3.0,0.4M136.7,159.1l-1.8,2.4M136.7,158.5l1.7,2.5M138.5,159.7l3.0,0.2M142.0,159.5l0.0,3.0M143.0,159.0l-1.6,2.6M144.9,159.6l0.7,2.9M145.5,158.9l2.1,2.2M148.7,159.8l-1.5,2.6M151.2,160.1l-2.9,0.7M150.3,159.4l2.3,2.0M128.7,161.1l3.0,0.3M131.1,160.6l1.5,2.6M133.4,160.8l0.7,2.9M135.3,161.3l-1.6,2.5M135.5,160.3l2.4,1.7M138.9,161.0l-2.4,1.8M141.2,160.5l-2.0,2.2M141.5,160.1l-0.0,3.0M142.4,161.5l2.4,1.8M146.4,162.2l-3.0,0.3M147.2,160.0l1.7,2.5M151.3,161.4l-2.5,1.6M150.6,160.6l2.2,2.0M151.5,160.8l2.3,1.9M132.3,162.6l-2.2,2.1M131.1,162.1l1.8,2.4M135.1,162.5l-3.0,0.5M135.1,162.5l0.0,3.0M136.0,163.3l2.5,1.7M137.8,162.1l2.3,1.9M140.8,161.5l0.8,2.9M143.5,162.9l-1.5,2.6M146.9,163.7l-3.0,0.5M145.5,163.5l2.7,1.3M148.6,162.1l1.0,2.8M149.4,161.8l2.4,1.9M153.9,163.3l-3.0,0.2M129.6,163.7l2.7,1.3M132.3,164.2l3.0,0.5M133.4,164.5l2.9,0.6M135.9,164.0l1.0,2.8M140.7,164.2l-2.8,0.9M142.0,164.2l-2.8,1.1M143.2,163.7l-2.0,2.2M144.9,164.5l-3.0,0.0M146.7,165.4l-2.9,0.6M146.7,163.3l1.5,2.6M149.8,163.6l2.5,1.7M137.7,166.2l-2.9,0.6M138.5,165.6l-2.1,2.1M137.7,166.2l3.0,0.3M141.2,164.9l-1.5,2.6M143.2,164.6l1.1,2.8M144.2,165.4l1.2,2.8M146.4,164.8l1.5,2.6M146.7,165.4l2.6,1.5" stroke="#000" stroke-width="1.0" fill="none"/>
<path d="M139.8,153.2h.01M134.6,155.5h.01M137.4,155.1h.01M141.2,154.2h.01M142.2,155.6h.01M145.4,154.1h.01M148.0,154.2h.01M134.2,157.7h.01M137.7,156.4h.01M138.6,156.5h.01M141.5,157.6h.01M143.2,157.3h.01M146.8,157.4h.01M149.3,156.9h.01M150.7,156.3h.01M130.4,159.4h.01M132.2,158.1h.01M136.0,158.2h.01M137.0,157.8h.01M140.4,158.4h.01M143.7,159.6h.01M146.2,158.3h.01M146.6,157.9h.01M149.9,159.2h.01M152.2,158.2h.01M132.3,161.4h.01M135.0,161.2h.01M135.9,161.6h.01M138.7,161.0h.01M141.2,161.4h.01M143.3,160.3h.01M145.7,160.1h.01M149.5,161.0h.01M150.7,160.6h.01M131.8,163.0h.01M132.5,163.6h.01M135.8,164.0h.01M137.0,162.9h.01M141.0,163.7h.01M143.6,161.9h.01M144.7,162.1h.01M146.8,164.0h.01M150.1,163.9h.01M152.0,163.7h.01M132.5,166.0h.01M133.4,165.2h.01M137.0,164.4h.01M138.8,164.3h.01M140.9,164.5h.01M144.1,165.4h.01M145.7,164.0h.01M148.3,165.4h.01M150.4,164.6h.01M133.2,166.2h.01M134.6,166.9h.01M138.0,167.4h.01M139.4,166.4h.01M143.1,166.9h.01M144.6,166.7h.01" stroke="#000" stroke-width="1.20" stroke-linecap="round" fill="none"/>
<path d="M154.3,159.8h.01M156.9,160.9h.01M151.3,165.0h.01M155.6,164.9h.01M159.6,164.7h.01M161.5,164.6h.01M150.7,166.7h.01M153.9,165.5h.01M156.8,167.3h.01M162.0,165.3h.01M164.3,167.4h.01M166.1,167.6h.01M149.4,169.9h.01M152.0,169.2h.01M156.1,169.3h.01M159.7,169.3h.01M162.3,168.1h.01M166.2,169.5h.01M168.3,170.3h.01M150.0,172.3h.01M153.1,171.3h.01M157.3,171.1h.01M160.7,172.4h.01M162.8,172.8h.01M166.2,173.0h.01M154.8,176.3h.01M160.7,175.9h.01M163.4,174.3h.01M156.5,179.3h.01M160.2,179.0h.01M163.1,178.1h.01M160.4,180.0h.01M163.3,179.8h.01M164.4,183.4h.01" stroke="#000" stroke-width="1.00" stroke-linecap="round" fill="none"/>
<path d="M167.2,172.2l1.9,1.6M171.3,171.0l-2.3,1.0M172.2,171.4l2.4,0.7M169.5,173.6l-2.1,1.3M168.1,173.3l2.2,1.3M171.6,175.7l2.5,0.0M174.6,173.9l2.0,1.5M177.9,172.9l-1.8,1.7M167.4,177.9l-2.5,0.2M168.0,176.4l2.5,0.0M172.1,174.7l0.1,2.5M173.8,175.6l0.1,2.5M176.7,175.3l-2.0,1.5M178.3,175.2l2.1,1.4M181.3,176.8l0.0,2.5M167.2,178.1l1.2,2.2M171.4,179.3l-2.2,1.3M170.9,177.9l1.7,1.8M175.8,178.0l-2.5,0.4M177.6,178.9l1.6,1.9M179.5,177.3l2.0,1.6M166.9,180.9l-1.5,2.0M168.6,179.5l0.0,2.5M169.2,180.3l2.4,0.8M173.2,179.9l-1.0,2.3M175.6,181.5l2.4,0.6M180.5,181.1l-2.0,1.5M181.4,180.5l-1.5,2.0M168.5,182.2l-2.0,1.6M170.8,183.4l-1.0,2.3M171.3,183.3l1.1,2.2M173.5,181.8l0.8,2.4M176.5,182.9l0.8,2.4M182.2,183.7l-2.4,0.8M180.9,184.1l2.4,0.7M170.8,185.6l-2.3,0.9M170.4,186.0l2.5,0.2M173.8,184.9l2.0,1.5M176.2,185.2l1.7,1.8M180.7,185.2l-2.4,0.8M181.8,184.6l-0.0,2.5M167.3,185.8l0.9,2.3M172.1,186.7l-2.3,0.9M170.5,186.2l1.9,1.7M175.8,186.3l0.3,2.5M176.8,185.6l-0.2,2.5M179.9,187.5l-1.8,1.7M167.7,188.2l-1.8,1.8M169.5,188.6l-1.1,2.2M171.4,189.7l1.1,2.2M174.0,188.0l1.3,2.1M176.0,190.4l2.2,1.2M180.9,188.6l-2.2,1.2M181.2,188.1l-1.2,2.2M171.6,191.6l-1.7,1.8M170.9,190.7l2.2,1.3M173.9,191.6l0.5,2.5M177.8,191.0l-1.9,1.6M180.1,190.0l-0.6,2.4M172.9,192.9l2.3,1.0" stroke="#000" stroke-width="0.95" fill="none"/>
<path d="M170.1,171.0h.01M169.8,171.9h.01M173.2,171.9h.01M174.5,174.2h.01M178.3,173.5h.01M167.1,175.1h.01M169.4,175.1h.01M174.1,175.9h.01M176.2,175.7h.01M178.9,174.5h.01M167.0,178.8h.01M169.0,178.0h.01M172.6,177.6h.01M174.1,178.4h.01M178.6,178.5h.01M180.9,178.7h.01M167.7,179.8h.01M170.9,179.2h.01M173.2,181.0h.01M176.7,180.6h.01M178.4,180.1h.01M181.7,180.6h.01M166.2,183.1h.01M170.3,181.9h.01M172.4,183.4h.01M174.5,182.7h.01M178.8,181.5h.01M180.5,181.8h.01M167.8,184.1h.01M170.8,185.2h.01M173.9,185.1h.01M176.6,185.9h.01M179.1,184.9h.01M166.9,187.3h.01M169.9,186.6h.01M173.2,187.2h.01M173.7,187.0h.01M177.3,186.3h.01M180.2,187.4h.01M167.2,189.3h.01M171.2,191.1h.01M173.5,189.3h.01M177.0,189.7h.01M178.3,189.1h.01M169.4,191.7h.01M173.2,192.1h.01M175.1,193.2h.01M178.4,192.3h.01M179.9,192.5h.01" stroke="#000" stroke-width="1.00" stroke-linecap="round" fill="none"/>
<path d="M184.1,178.9h.01M186.7,179.3h.01M188.5,179.9h.01M183.7,181.3h.01M184.3,180.0h.01M188.5,181.3h.01M184.8,182.3h.01M187.3,183.2h.01M189.3,183.4h.01M191.9,183.6h.01M194.1,182.4h.01M183.5,184.9h.01M186.1,185.1h.01M187.1,184.5h.01M189.2,185.0h.01M191.3,184.9h.01M193.8,185.0h.01M184.9,186.0h.01M187.2,186.9h.01M188.9,187.3h.01M191.8,186.7h.01M193.2,188.0h.01M194.8,187.3h.01M183.3,188.0h.01M185.5,189.4h.01M188.5,188.7h.01M190.9,189.0h.01M192.2,189.8h.01M193.5,189.5h.01M184.9,190.7h.01M186.4,191.1h.01M189.3,190.4h.01M190.9,190.8h.01M193.5,191.7h.01M195.2,191.7h.01M184.8,193.0h.01M188.6,193.3h.01M190.5,192.7h.01M191.8,192.6h.01M194.7,193.3h.01M186.5,194.1h.01M188.3,194.0h.01M190.4,195.9h.01M193.6,195.3h.01M196.2,195.9h.01M192.1,197.6h.01M193.7,196.4h.01M195.8,197.6h.01M193.2,198.6h.01M195.5,199.3h.01" stroke="#000" stroke-width="1.10" stroke-linecap="round" fill="none"/>
<path d="M199.8,203.5l2.0,1.4M204.8,202.7l2.0,1.3M210.9,204.2l-1.4,1.9M216.9,204.4l1.0,2.2M198.4,206.6l-0.5,2.4M202.4,205.5l0.7,2.3M207.5,206.2l-0.1,2.4M210.0,207.9l2.1,1.1M213.2,207.4l2.4,0.3M221.2,209.6l-2.4,0.0M223.7,207.1l0.9,2.2M204.3,211.6l2.3,0.8M208.2,210.2l-1.0,2.2M215.0,210.4l-1.9,1.5M216.4,211.4l2.1,1.1M222.9,211.6l-0.7,2.3M223.8,208.7l1.1,2.1M228.6,210.1l-0.1,2.4M214.7,215.9l2.4,0.2M219.3,214.6l2.4,0.3M222.7,215.4l-2.4,0.1M229.5,213.6l-2.2,1.0M232.4,215.7l0.1,2.4M229.7,217.7l-0.5,2.3" stroke="#000" stroke-width="0.95" fill="none"/>
<path d="M198.6,198.2h.01M198.5,200.1h.01M200.0,199.5h.01M202.4,200.9h.01M196.5,201.2h.01M198.3,201.6h.01M200.8,202.2h.01M203.9,201.5h.01M206.8,202.7h.01M196.9,205.7h.01M200.2,205.2h.01M202.3,204.1h.01M205.1,205.4h.01M209.4,203.9h.01M217.7,205.7h.01M198.2,206.8h.01M201.0,207.1h.01M206.1,208.8h.01M208.9,206.4h.01M210.2,208.5h.01M212.6,208.1h.01M216.2,208.7h.01M218.5,208.3h.01M222.4,206.5h.01M224.5,208.3h.01M199.3,209.2h.01M204.0,210.6h.01M205.5,208.9h.01M208.2,210.3h.01M212.3,209.4h.01M214.5,210.4h.01M218.9,210.9h.01M221.5,209.2h.01M223.1,210.7h.01M227.1,210.6h.01M229.1,210.9h.01M204.2,211.8h.01M208.7,212.3h.01M209.9,212.3h.01M214.1,211.3h.01M216.9,212.5h.01M219.8,211.6h.01M223.4,213.5h.01M226.8,212.2h.01M229.4,212.3h.01M232.5,211.5h.01M211.2,214.6h.01M216.2,214.0h.01M217.2,215.8h.01M220.5,214.0h.01M224.6,215.5h.01M227.4,215.8h.01M229.2,216.3h.01M233.9,214.0h.01M222.9,217.6h.01M227.0,218.6h.01M228.4,217.2h.01M231.4,217.7h.01" stroke="#000" stroke-width="1.10" stroke-linecap="round" fill="none"/>
<path d="M196.1,197.8a0.9,1.7 0 1,0 1.8,0a0.9,1.7 0 1,0 -1.8,0M197.5,201.5a1.0,1.6 0 1,0 2.0,0a1.0,1.6 0 1,0 -2.0,0M200.8,201.2a1.2,1.7 0 1,0 2.4,0a1.2,1.7 0 1,0 -2.4,0M195.2,202.8a0.9,1.4 0 1,0 1.9,0a0.9,1.4 0 1,0 -1.9,0M198.7,205.0a1.2,1.1 0 1,0 2.5,0a1.2,1.1 0 1,0 -2.5,0M202.8,203.2a0.9,1.4 0 1,0 1.8,0a0.9,1.4 0 1,0 -1.8,0M206.4,203.9a1.1,1.7 0 1,0 2.1,0a1.1,1.7 0 1,0 -2.1,0M197.0,206.4a1.2,1.4 0 1,0 2.3,0a1.2,1.4 0 1,0 -2.3,0M200.9,207.1a1.3,1.4 0 1,0 2.5,0a1.3,1.4 0 1,0 -2.5,0M204.6,207.5a1.1,1.5 0 1,0 2.1,0a1.1,1.5 0 1,0 -2.1,0M208.4,206.7a1.0,1.3 0 1,0 2.0,0a1.0,1.3 0 1,0 -2.0,0M211.6,206.5a1.1,1.3 0 1,0 2.2,0a1.1,1.3 0 1,0 -2.2,0M216.0,206.9a1.2,1.5 0 1,0 2.5,0a1.2,1.5 0 1,0 -2.5,0M220.3,205.9a1.1,1.2 0 1,0 2.1,0a1.1,1.2 0 1,0 -2.1,0M223.7,208.1a1.0,1.3 0 1,0 2.0,0a1.0,1.3 0 1,0 -2.0,0M199.3,209.7a1.1,1.5 0 1,0 2.2,0a1.1,1.5 0 1,0 -2.2,0M201.3,211.5a1.2,1.7 0 1,0 2.4,0a1.2,1.7 0 1,0 -2.4,0M206.3,209.4a1.1,1.4 0 1,0 2.1,0a1.1,1.4 0 1,0 -2.1,0M210.0,210.4a1.1,1.7 0 1,0 2.2,0a1.1,1.7 0 1,0 -2.2,0M214.9,209.6a1.0,1.4 0 1,0 2.0,0a1.0,1.4 0 1,0 -2.0,0M217.3,211.8a1.2,1.2 0 1,0 2.4,0a1.2,1.2 0 1,0 -2.4,0M222.7,209.7a1.0,1.7 0 1,0 2.0,0a1.0,1.7 0 1,0 -2.0,0M225.4,210.2a1.2,1.4 0 1,0 2.4,0a1.2,1.4 0 1,0 -2.4,0M230.4,210.9a0.9,1.7 0 1,0 1.8,0a0.9,1.7 0 1,0 -1.8,0M212.7,215.0a1.1,1.6 0 1,0 2.3,0a1.1,1.6 0 1,0 -2.3,0M215.0,214.9a1.3,1.7 0 1,0 2.5,0a1.3,1.7 0 1,0 -2.5,0M218.8,214.6a1.0,1.2 0 1,0 2.1,0a1.0,1.2 0 1,0 -2.1,0M224.3,214.0a1.0,1.4 0 1,0 2.0,0a1.0,1.4 0 1,0 -2.0,0M229.1,214.2a1.1,1.2 0 1,0 2.1,0a1.1,1.2 0 1,0 -2.1,0M231.7,214.7a0.9,1.5 0 1,0 1.9,0a0.9,1.5 0 1,0 -1.9,0M221.9,216.5a1.1,1.3 0 1,0 2.2,0a1.1,1.3 0 1,0 -2.2,0M225.2,216.4a1.3,1.5 0 1,0 2.5,0a1.3,1.5 0 1,0 -2.5,0M230.2,217.6a0.9,1.4 0 1,0 1.8,0a0.9,1.4 0 1,0 -1.8,0" stroke="#000" stroke-width="0.95" fill="none"/>
<path d="M243.8,163.4h.01M234.8,167.3h.01M238.7,165.5h.01M242.2,165.2h.01M238.6,170.2h.01M233.0,174.3h.01M234.7,173.6h.01M234.8,176.5h.01M238.3,175.7h.01M231.2,179.5h.01M233.9,178.5h.01M228.1,183.7h.01M233.0,182.0h.01M226.6,185.9h.01M232.4,186.0h.01M228.9,191.1h.01M233.8,189.3h.01M228.7,192.7h.01M232.1,193.3h.01M234.8,192.7h.01M226.5,195.0h.01M229.9,195.9h.01M233.5,195.7h.01M228.7,201.0h.01M232.8,198.4h.01M226.4,203.7h.01M228.8,204.2h.01M233.0,203.4h.01" stroke="#000" stroke-width="0.90" stroke-linecap="round" fill="none"/>
<path d="M310.0,141.1h.01M307.5,145.0h.01M313.3,145.1h.01M259.3,151.4h.01M274.1,151.1h.01M307.3,150.9h.01M312.9,148.2h.01M251.1,152.8h.01M256.4,152.8h.01M261.9,152.3h.01M263.2,153.6h.01M280.0,153.3h.01M282.6,152.0h.01M286.2,153.6h.01M289.7,154.1h.01M294.5,153.1h.01M302.1,151.7h.01M302.8,153.1h.01M307.8,154.2h.01M246.6,158.3h.01M249.3,156.3h.01M254.6,157.2h.01M258.1,156.5h.01M289.0,159.0h.01M295.2,158.6h.01M299.9,159.0h.01M302.9,158.4h.01M305.1,157.8h.01M253.3,159.1h.01M292.8,160.0h.01M294.2,161.1h.01M299.2,160.9h.01" stroke="#000" stroke-width="1.00" stroke-linecap="round" fill="none"/>
<path d="M325.7,128.7a0.8,1.0 0 1,0 1.7,0a0.8,1.0 0 1,0 -1.7,0M322.2,132.7a0.9,1.0 0 1,0 1.8,0a0.9,1.0 0 1,0 -1.8,0M320.9,133.7a0.7,1.3 0 1,0 1.4,0a0.7,1.3 0 1,0 -1.4,0M325.4,134.2a0.8,1.2 0 1,0 1.7,0a0.8,1.2 0 1,0 -1.7,0M319.4,139.4a0.9,1.3 0 1,0 1.9,0a0.9,1.3 0 1,0 -1.9,0M323.5,139.5a0.7,1.0 0 1,0 1.4,0a0.7,1.0 0 1,0 -1.4,0M318.0,142.4a0.7,1.1 0 1,0 1.4,0a0.7,1.1 0 1,0 -1.4,0M321.9,140.9a1.0,1.3 0 1,0 1.9,0a1.0,1.3 0 1,0 -1.9,0M325.0,142.5a0.7,0.9 0 1,0 1.4,0a0.7,0.9 0 1,0 -1.4,0M323.9,144.4a0.9,1.2 0 1,0 1.9,0a0.9,1.2 0 1,0 -1.9,0M328.3,145.9a0.8,1.1 0 1,0 1.6,0a0.8,1.1 0 1,0 -1.6,0M324.0,147.9a0.7,1.3 0 1,0 1.4,0a0.7,1.3 0 1,0 -1.4,0" stroke="#000" stroke-width="0.8" fill="none"/>
<path d="M317.5,139.7l-2.4,0.1M318.1,137.8l0.1,2.4M320.4,138.6l1.0,2.2M321.2,139.1l1.7,1.7M315.9,140.7l1.8,1.6M319.1,140.4l1.1,2.1M321.0,141.6l2.2,1.0M323.9,143.0l2.4,0.1M326.6,141.7l-2.2,0.9M316.5,143.6l0.4,2.4M318.8,143.1l0.4,2.4M321.3,142.5l-0.5,2.3M321.9,143.6l1.4,2.0M325.1,144.3l2.1,1.2M318.4,146.0l2.3,0.5M320.9,145.1l1.4,1.9M323.3,144.1l1.4,2.0M326.9,144.7l-1.6,1.8" stroke="#000" stroke-width="1.0" fill="none"/>
<path d="M631,4.4L640,8" stroke="#000" stroke-width="0.8" stroke-dasharray="1 1.6" fill="none"/>
<path d="M317.8,151.4h.01M320.9,150.5h.01M324.0,151.1h.01M329.1,151.2h.01M330.4,151.5h.01M318.0,153.1h.01M319.1,152.7h.01M323.4,154.6h.01M326.9,154.8h.01M328.9,153.1h.01M314.8,155.1h.01M318.3,155.0h.01M322.1,155.9h.01M324.9,156.6h.01M327.4,156.2h.01M329.9,157.6h.01M312.4,159.5h.01M317.5,158.6h.01M318.9,158.1h.01M322.3,159.9h.01M325.3,160.0h.01M329.5,159.2h.01M312.6,162.2h.01M314.8,162.6h.01M317.8,162.5h.01M322.5,162.7h.01M324.4,162.7h.01M329.5,161.8h.01M330.7,162.0h.01M311.8,163.6h.01M312.3,164.6h.01M317.3,165.5h.01M319.7,166.1h.01M322.5,165.4h.01M325.3,163.3h.01M328.6,163.4h.01M332.9,164.9h.01M311.2,168.8h.01M314.9,166.5h.01M317.6,168.2h.01M322.9,166.5h.01M323.5,168.3h.01M327.4,168.9h.01M331.3,167.9h.01M313.6,169.8h.01M318.1,169.1h.01M320.8,169.0h.01M323.7,170.0h.01M327.5,169.0h.01M329.9,170.0h.01M312.5,172.3h.01M314.6,172.4h.01M318.3,172.3h.01M320.8,173.8h.01M325.3,172.5h.01M329.5,172.2h.01M331.5,172.1h.01M313.0,176.6h.01M317.8,175.2h.01M319.6,175.8h.01M324.4,174.9h.01M327.0,176.1h.01M329.6,176.1h.01" stroke="#000" stroke-width="1.10" stroke-linecap="round" fill="none"/>
<path d="M329.7,168.2l2.1,0.8M329.7,168.3l1.0,2.0M330.4,167.8l0.0,2.2M332.0,170.3l-2.1,0.6M332.0,169.5l1.0,2.0M329.7,171.7l1.7,1.4M330.3,174.5l-2.2,0.2M331.9,174.6l-2.1,0.8M332.1,173.0l-1.5,1.6M329.2,175.3l1.4,1.7M329.5,175.3l1.9,1.2M328.9,175.8l1.5,1.6M328.9,178.1l2.1,0.5M330.1,178.2l2.2,0.3M330.6,178.9l-0.1,2.2" stroke="#000" stroke-width="0.9" fill="none"/>
<path d="M313.9,155.0l-2.1,1.5M314.9,154.0l-0.2,2.6M311.4,155.9l0.4,2.6M312.0,155.9l2.5,0.7M312.9,155.9l0.8,2.5M315.7,158.6l-2.6,0.0M312.3,158.0l-1.5,2.1M312.7,157.5l0.4,2.6M311.3,160.0l0.2,2.6M314.2,159.4l-2.1,1.5M312.4,162.2l-1.9,1.8M311.5,162.2l2.3,1.2M312.1,162.8l-1.4,2.2M312.2,163.4l1.1,2.4M313.9,162.8l-0.2,2.6M309.4,164.3l1.9,1.8M311.5,164.0l1.0,2.4M312.8,164.4l1.3,2.3M310.6,165.3l0.9,2.4M311.4,166.8l2.6,0.1M312.8,166.2l2.1,1.5M311.9,167.4l-0.6,2.5M312.2,168.0l2.6,0.5M312.1,169.1l2.2,1.4M312.0,170.7l-1.6,2.0M312.5,170.5l1.7,2.0M310.7,172.2l1.4,2.2M312.2,171.1l1.9,1.8M315.2,172.6l-2.3,1.3M309.9,173.5l2.5,0.7M313.3,172.8l-1.1,2.4" stroke="#000" stroke-width="1.0" fill="none"/>
<path d="M310.2,182.5l2.2,1.1M307.8,183.8l1.2,2.1M309.7,183.7l-0.1,2.4M307.3,186.1l2.4,0.0M312.0,185.7l-2.4,0.1M307.9,185.6l1.6,1.8M309.4,186.3l1.6,1.8M309.2,187.7l1.3,2.0M310.2,188.0l1.7,1.7M308.1,190.2l-2.2,1.0M308.9,189.1l-0.4,2.4M309.4,189.5l-0.1,2.4M307.5,190.2l0.6,2.3M307.6,191.1l2.4,0.4M307.7,191.8l1.4,2.0M311.5,193.4l-2.2,1.0" stroke="#000" stroke-width="0.95" fill="none"/>
<path d="M336.5,197.1l2.0,1.0M338.8,198.3l-2.1,0.6M339.0,198.1l1.8,1.3M338.0,199.2l2.1,0.7M339.4,200.0l2.1,0.6M340.4,200.9l-1.7,1.4M340.1,203.4l-2.2,0.3M341.3,202.5l0.6,2.1M339.1,203.5l-1.1,1.9M339.0,204.7l1.5,1.6M342.0,205.6l-2.1,0.6M341.5,206.5l-1.2,1.8M339.2,207.7l1.9,1.0M340.2,209.0l2.2,0.4" stroke="#000" stroke-width="0.95" fill="none"/>
<path d="M312.5,178.2a1.0,1.5 0 1,0 1.9,0a1.0,1.5 0 1,0 -1.9,0M316.5,178.2a1.0,1.3 0 1,0 2.0,0a1.0,1.3 0 1,0 -2.0,0M319.9,179.1a1.1,1.2 0 1,0 2.2,0a1.1,1.2 0 1,0 -2.2,0M324.2,178.9a1.2,1.2 0 1,0 2.4,0a1.2,1.2 0 1,0 -2.4,0M327.6,178.8a1.2,1.6 0 1,0 2.4,0a1.2,1.6 0 1,0 -2.4,0M310.1,182.2a1.1,1.1 0 1,0 2.2,0a1.1,1.1 0 1,0 -2.2,0M313.9,182.5a1.2,1.1 0 1,0 2.4,0a1.2,1.1 0 1,0 -2.4,0M320.2,182.5a1.1,1.4 0 1,0 2.1,0a1.1,1.4 0 1,0 -2.1,0M323.0,180.9a0.9,1.5 0 1,0 1.8,0a0.9,1.5 0 1,0 -1.8,0M326.2,182.0a1.2,1.5 0 1,0 2.3,0a1.2,1.5 0 1,0 -2.3,0M306.3,185.7a1.0,1.4 0 1,0 2.0,0a1.0,1.4 0 1,0 -2.0,0M308.4,185.9a1.1,1.2 0 1,0 2.2,0a1.1,1.2 0 1,0 -2.2,0M311.7,185.0a1.2,1.7 0 1,0 2.4,0a1.2,1.7 0 1,0 -2.4,0M318.0,184.4a1.2,1.7 0 1,0 2.4,0a1.2,1.7 0 1,0 -2.4,0M322.0,185.2a1.0,1.7 0 1,0 2.0,0a1.0,1.7 0 1,0 -2.0,0M323.8,184.4a0.9,1.4 0 1,0 1.8,0a0.9,1.4 0 1,0 -1.8,0M328.7,184.1a0.9,1.4 0 1,0 1.8,0a0.9,1.4 0 1,0 -1.8,0M307.0,187.0a1.1,1.5 0 1,0 2.3,0a1.1,1.5 0 1,0 -2.3,0M311.1,187.1a1.0,1.3 0 1,0 2.1,0a1.0,1.3 0 1,0 -2.1,0M315.5,187.2a0.9,1.3 0 1,0 1.9,0a0.9,1.3 0 1,0 -1.9,0M319.2,187.8a1.0,1.2 0 1,0 2.0,0a1.0,1.2 0 1,0 -2.0,0M322.4,188.6a1.2,1.4 0 1,0 2.3,0a1.2,1.4 0 1,0 -2.3,0M325.8,187.3a1.0,1.2 0 1,0 2.1,0a1.0,1.2 0 1,0 -2.1,0M309.0,190.7a1.1,1.2 0 1,0 2.3,0a1.1,1.2 0 1,0 -2.3,0M313.2,191.6a1.0,1.4 0 1,0 1.9,0a1.0,1.4 0 1,0 -1.9,0M316.5,190.8a1.1,1.7 0 1,0 2.3,0a1.1,1.7 0 1,0 -2.3,0M320.5,190.8a1.2,1.7 0 1,0 2.3,0a1.2,1.7 0 1,0 -2.3,0M323.6,190.9a1.2,1.5 0 1,0 2.5,0a1.2,1.5 0 1,0 -2.5,0M329.5,191.6a1.2,1.1 0 1,0 2.3,0a1.2,1.1 0 1,0 -2.3,0M310.9,195.0a0.9,1.1 0 1,0 1.9,0a0.9,1.1 0 1,0 -1.9,0M314.3,196.0a1.2,1.5 0 1,0 2.4,0a1.2,1.5 0 1,0 -2.4,0M317.8,195.2a1.1,1.3 0 1,0 2.2,0a1.1,1.3 0 1,0 -2.2,0M322.2,195.2a1.0,1.2 0 1,0 2.0,0a1.0,1.2 0 1,0 -2.0,0M327.4,195.5a1.1,1.7 0 1,0 2.2,0a1.1,1.7 0 1,0 -2.2,0M329.5,194.3a1.0,1.1 0 1,0 2.0,0a1.0,1.1 0 1,0 -2.0,0M334.9,196.2a0.9,1.3 0 1,0 1.9,0a0.9,1.3 0 1,0 -1.9,0M312.6,198.1a1.2,1.6 0 1,0 2.4,0a1.2,1.6 0 1,0 -2.4,0M315.9,197.7a1.0,1.2 0 1,0 2.1,0a1.0,1.2 0 1,0 -2.1,0M321.6,198.8a0.9,1.2 0 1,0 1.8,0a0.9,1.2 0 1,0 -1.8,0M323.7,198.0a1.2,1.4 0 1,0 2.4,0a1.2,1.4 0 1,0 -2.4,0M327.5,197.6a1.3,1.7 0 1,0 2.5,0a1.3,1.7 0 1,0 -2.5,0M331.7,197.9a1.2,1.4 0 1,0 2.4,0a1.2,1.4 0 1,0 -2.4,0M311.3,202.6a1.2,1.2 0 1,0 2.4,0a1.2,1.2 0 1,0 -2.4,0M315.9,200.7a0.9,1.4 0 1,0 1.8,0a0.9,1.4 0 1,0 -1.8,0M319.4,201.4a1.1,1.2 0 1,0 2.1,0a1.1,1.2 0 1,0 -2.1,0M322.0,202.9a1.0,1.1 0 1,0 1.9,0a1.0,1.1 0 1,0 -1.9,0M327.0,202.4a1.2,1.5 0 1,0 2.5,0a1.2,1.5 0 1,0 -2.5,0M329.5,202.6a1.2,1.7 0 1,0 2.5,0a1.2,1.7 0 1,0 -2.5,0M335.6,202.8a1.0,1.6 0 1,0 2.1,0a1.0,1.6 0 1,0 -2.1,0M313.2,206.3a1.0,1.6 0 1,0 2.0,0a1.0,1.6 0 1,0 -2.0,0M315.8,206.3a1.2,1.2 0 1,0 2.4,0a1.2,1.2 0 1,0 -2.4,0M321.8,204.5a0.9,1.2 0 1,0 1.7,0a0.9,1.2 0 1,0 -1.7,0M325.6,204.5a1.1,1.3 0 1,0 2.2,0a1.1,1.3 0 1,0 -2.2,0M328.1,205.0a0.9,1.6 0 1,0 1.7,0a0.9,1.6 0 1,0 -1.7,0M331.7,205.1a1.2,1.4 0 1,0 2.4,0a1.2,1.4 0 1,0 -2.4,0M337.7,205.6a0.9,1.7 0 1,0 1.8,0a0.9,1.7 0 1,0 -1.8,0M315.8,208.1a1.1,1.1 0 1,0 2.2,0a1.1,1.1 0 1,0 -2.2,0M319.2,209.4a1.0,1.5 0 1,0 2.0,0a1.0,1.5 0 1,0 -2.0,0M323.4,207.3a1.2,1.4 0 1,0 2.4,0a1.2,1.4 0 1,0 -2.4,0M326.6,207.3a1.1,1.2 0 1,0 2.2,0a1.1,1.2 0 1,0 -2.2,0M329.7,209.3a1.0,1.7 0 1,0 1.9,0a1.0,1.7 0 1,0 -1.9,0M334.3,208.8a1.0,1.2 0 1,0 2.0,0a1.0,1.2 0 1,0 -2.0,0M338.2,208.1a1.1,1.2 0 1,0 2.2,0a1.1,1.2 0 1,0 -2.2,0M317.8,211.0a0.9,1.4 0 1,0 1.9,0a0.9,1.4 0 1,0 -1.9,0M321.3,210.7a1.1,1.5 0 1,0 2.2,0a1.1,1.5 0 1,0 -2.2,0M325.5,211.1a1.1,1.4 0 1,0 2.3,0a1.1,1.4 0 1,0 -2.3,0M328.2,213.1a0.9,1.6 0 1,0 1.8,0a0.9,1.6 0 1,0 -1.8,0M332.4,211.2a0.9,1.4 0 1,0 1.8,0a0.9,1.4 0 1,0 -1.8,0M337.5,212.2a1.0,1.5 0 1,0 2.0,0a1.0,1.5 0 1,0 -2.0,0M319.9,215.2a1.1,1.2 0 1,0 2.3,0a1.1,1.2 0 1,0 -2.3,0M323.5,214.7a1.1,1.5 0 1,0 2.2,0a1.1,1.5 0 1,0 -2.2,0M326.3,214.3a1.1,1.2 0 1,0 2.1,0a1.1,1.2 0 1,0 -2.1,0M330.6,216.3a1.2,1.5 0 1,0 2.5,0a1.2,1.5 0 1,0 -2.5,0M334.7,215.0a0.9,1.2 0 1,0 1.8,0a0.9,1.2 0 1,0 -1.8,0M320.6,218.4a1.3,1.2 0 1,0 2.5,0a1.3,1.2 0 1,0 -2.5,0M326.0,217.6a1.0,1.6 0 1,0 2.0,0a1.0,1.6 0 1,0 -2.0,0M329.4,219.2a1.2,1.5 0 1,0 2.4,0a1.2,1.5 0 1,0 -2.4,0M332.6,218.6a1.2,1.1 0 1,0 2.3,0a1.2,1.1 0 1,0 -2.3,0M337.2,219.7a0.9,1.7 0 1,0 1.8,0a0.9,1.7 0 1,0 -1.8,0M330.3,223.3a1.2,1.1 0 1,0 2.4,0a1.2,1.1 0 1,0 -2.4,0M335.1,222.9a0.9,1.2 0 1,0 1.8,0a0.9,1.2 0 1,0 -1.8,0M338.7,221.8a1.2,1.2 0 1,0 2.5,0a1.2,1.2 0 1,0 -2.5,0M343.4,222.6a1.1,1.7 0 1,0 2.3,0a1.1,1.7 0 1,0 -2.3,0M346.6,221.5a1.1,1.7 0 1,0 2.2,0a1.1,1.7 0 1,0 -2.2,0M332.3,226.7a1.0,1.2 0 1,0 1.9,0a1.0,1.2 0 1,0 -1.9,0M337.8,224.7a0.9,1.6 0 1,0 1.7,0a0.9,1.6 0 1,0 -1.7,0M340.0,226.6a0.9,1.7 0 1,0 1.8,0a0.9,1.7 0 1,0 -1.8,0M343.4,225.0a1.1,1.2 0 1,0 2.3,0a1.1,1.2 0 1,0 -2.3,0M347.9,224.5a1.2,1.2 0 1,0 2.4,0a1.2,1.2 0 1,0 -2.4,0M338.8,229.5a1.1,1.2 0 1,0 2.1,0a1.1,1.2 0 1,0 -2.1,0M341.6,228.5a1.2,1.7 0 1,0 2.4,0a1.2,1.7 0 1,0 -2.4,0M347.1,229.0a1.2,1.1 0 1,0 2.5,0a1.2,1.1 0 1,0 -2.5,0M337.1,231.3a1.2,1.4 0 1,0 2.4,0a1.2,1.4 0 1,0 -2.4,0M339.7,232.7a1.2,1.4 0 1,0 2.4,0a1.2,1.4 0 1,0 -2.4,0M345.4,232.6a1.1,1.5 0 1,0 2.2,0a1.1,1.5 0 1,0 -2.2,0M348.5,233.0a1.2,1.1 0 1,0 2.4,0a1.2,1.1 0 1,0 -2.4,0M343.4,236.1a0.9,1.4 0 1,0 1.8,0a0.9,1.4 0 1,0 -1.8,0M346.5,235.4a1.0,1.3 0 1,0 2.0,0a1.0,1.3 0 1,0 -2.0,0M347.2,241.5a0.9,1.6 0 1,0 1.7,0a0.9,1.6 0 1,0 -1.7,0" stroke="#000" stroke-width="1.0" fill="none"/>
<path d="M314.6,178.7h.01M324.5,180.1h.01M307.9,183.5h.01M312.2,182.8h.01M321.0,183.6h.01M321.6,180.4h.01M327.1,183.2h.01M307.6,188.6h.01M312.8,187.7h.01M314.2,187.5h.01M322.9,186.4h.01M328.0,185.3h.01M308.5,193.2h.01M314.5,193.0h.01M320.0,192.6h.01M326.0,192.2h.01M327.8,189.9h.01M311.4,193.6h.01M317.8,194.6h.01M321.9,194.8h.01M326.5,197.5h.01M329.8,195.5h.01M310.9,197.9h.01M312.5,198.8h.01M320.6,197.6h.01M322.7,200.7h.01M331.0,198.3h.01M333.5,200.6h.01M316.9,204.5h.01M322.0,204.5h.01M327.2,203.2h.01M329.3,202.2h.01M334.1,203.5h.01M315.0,207.0h.01M317.0,207.6h.01M323.4,209.3h.01M328.6,209.5h.01M332.0,210.4h.01M338.1,209.9h.01M341.7,209.9h.01M319.8,213.5h.01M326.7,213.5h.01M329.9,211.2h.01M334.5,215.0h.01M320.9,216.5h.01M324.8,215.5h.01M330.1,216.0h.01M333.2,217.3h.01M337.1,216.0h.01M332.8,220.3h.01M334.2,221.2h.01M339.6,221.3h.01M334.0,223.9h.01M337.6,226.9h.01M344.1,227.5h.01M340.5,228.9h.01M347.0,229.6h.01M344.5,233.0h.01M348.3,238.5h.01" stroke="#000" stroke-width="1.10" stroke-linecap="round" fill="none"/>
<path d="M364.5,221.5a1.2,1.2 0 1,0 2.4,0a1.2,1.2 0 1,0 -2.4,0M369.5,218.7a1.3,1.6 0 1,0 2.6,0a1.3,1.6 0 1,0 -2.6,0M376.0,218.9a1.1,1.4 0 1,0 2.3,0a1.1,1.4 0 1,0 -2.3,0M377.8,219.4a1.3,1.7 0 1,0 2.6,0a1.3,1.7 0 1,0 -2.6,0M383.3,221.5a1.3,1.3 0 1,0 2.6,0a1.3,1.3 0 1,0 -2.6,0M390.0,219.8a1.1,1.4 0 1,0 2.2,0a1.1,1.4 0 1,0 -2.2,0M393.8,221.2a1.0,1.4 0 1,0 2.0,0a1.0,1.4 0 1,0 -2.0,0M399.4,220.6a0.9,1.7 0 1,0 1.9,0a0.9,1.7 0 1,0 -1.9,0M349.2,225.1a1.0,1.2 0 1,0 2.1,0a1.0,1.2 0 1,0 -2.1,0M355.0,225.6a1.0,1.7 0 1,0 1.9,0a1.0,1.7 0 1,0 -1.9,0M357.4,222.9a1.0,1.5 0 1,0 2.0,0a1.0,1.5 0 1,0 -2.0,0M364.2,224.4a1.1,1.7 0 1,0 2.2,0a1.1,1.7 0 1,0 -2.2,0M366.5,224.8a1.4,1.4 0 1,0 2.7,0a1.4,1.4 0 1,0 -2.7,0M371.5,223.4a1.2,1.8 0 1,0 2.4,0a1.2,1.8 0 1,0 -2.4,0M376.6,224.3a1.1,1.8 0 1,0 2.3,0a1.1,1.8 0 1,0 -2.3,0M382.2,222.9a1.3,1.4 0 1,0 2.5,0a1.3,1.4 0 1,0 -2.5,0M387.0,224.6a1.3,1.6 0 1,0 2.6,0a1.3,1.6 0 1,0 -2.6,0M391.2,224.7a1.0,1.6 0 1,0 2.0,0a1.0,1.6 0 1,0 -2.0,0M396.6,222.7a1.3,1.5 0 1,0 2.6,0a1.3,1.5 0 1,0 -2.6,0M400.5,224.7a1.1,1.5 0 1,0 2.3,0a1.1,1.5 0 1,0 -2.3,0M405.7,224.6a1.3,1.6 0 1,0 2.6,0a1.3,1.6 0 1,0 -2.6,0M350.3,229.7a1.0,1.4 0 1,0 2.1,0a1.0,1.4 0 1,0 -2.1,0M356.8,227.4a1.1,1.8 0 1,0 2.2,0a1.1,1.8 0 1,0 -2.2,0M360.3,229.7a1.2,1.3 0 1,0 2.5,0a1.2,1.3 0 1,0 -2.5,0M364.2,228.0a1.3,1.2 0 1,0 2.7,0a1.3,1.2 0 1,0 -2.7,0M371.4,229.5a1.2,1.5 0 1,0 2.4,0a1.2,1.5 0 1,0 -2.4,0M373.8,229.0a1.3,1.5 0 1,0 2.5,0a1.3,1.5 0 1,0 -2.5,0M379.1,228.8a1.0,1.5 0 1,0 2.0,0a1.0,1.5 0 1,0 -2.0,0M384.8,227.1a1.3,1.7 0 1,0 2.6,0a1.3,1.7 0 1,0 -2.6,0M388.0,227.4a1.1,1.3 0 1,0 2.2,0a1.1,1.3 0 1,0 -2.2,0M392.7,226.8a1.3,1.7 0 1,0 2.5,0a1.3,1.7 0 1,0 -2.5,0M397.2,228.0a1.0,1.8 0 1,0 2.1,0a1.0,1.8 0 1,0 -2.1,0M402.4,227.0a1.4,1.5 0 1,0 2.7,0a1.4,1.5 0 1,0 -2.7,0M407.9,229.6a1.1,1.7 0 1,0 2.2,0a1.1,1.7 0 1,0 -2.2,0M348.9,231.9a1.3,1.3 0 1,0 2.7,0a1.3,1.3 0 1,0 -2.7,0M354.3,232.2a1.1,1.4 0 1,0 2.1,0a1.1,1.4 0 1,0 -2.1,0M357.1,232.3a1.3,1.3 0 1,0 2.5,0a1.3,1.3 0 1,0 -2.5,0M361.4,232.9a1.2,1.5 0 1,0 2.4,0a1.2,1.5 0 1,0 -2.4,0M366.5,232.0a1.2,1.3 0 1,0 2.5,0a1.2,1.3 0 1,0 -2.5,0M373.6,233.2a1.4,1.9 0 1,0 2.7,0a1.4,1.9 0 1,0 -2.7,0M378.1,232.8a1.2,1.7 0 1,0 2.4,0a1.2,1.7 0 1,0 -2.4,0M382.3,233.0a1.0,1.8 0 1,0 2.0,0a1.0,1.8 0 1,0 -2.0,0M387.9,231.4a1.2,1.7 0 1,0 2.4,0a1.2,1.7 0 1,0 -2.4,0M391.8,231.7a1.3,1.4 0 1,0 2.6,0a1.3,1.4 0 1,0 -2.6,0M394.9,233.4a1.3,1.3 0 1,0 2.7,0a1.3,1.3 0 1,0 -2.7,0M401.1,233.4a0.9,1.5 0 1,0 1.9,0a0.9,1.5 0 1,0 -1.9,0M406.2,232.6a1.3,1.8 0 1,0 2.7,0a1.3,1.8 0 1,0 -2.7,0M350.1,234.9a1.4,1.5 0 1,0 2.7,0a1.4,1.5 0 1,0 -2.7,0M355.8,237.1a1.3,1.6 0 1,0 2.7,0a1.3,1.6 0 1,0 -2.7,0M360.0,235.1a1.0,1.6 0 1,0 2.0,0a1.0,1.6 0 1,0 -2.0,0M363.6,235.4a1.3,1.5 0 1,0 2.6,0a1.3,1.5 0 1,0 -2.6,0M370.6,234.9a1.2,1.4 0 1,0 2.4,0a1.2,1.4 0 1,0 -2.4,0M374.0,235.7a1.1,1.5 0 1,0 2.1,0a1.1,1.5 0 1,0 -2.1,0M380.0,238.0a1.2,1.5 0 1,0 2.3,0a1.2,1.5 0 1,0 -2.3,0M382.8,235.2a1.0,1.2 0 1,0 2.0,0a1.0,1.2 0 1,0 -2.0,0M390.2,237.9a1.1,1.7 0 1,0 2.2,0a1.1,1.7 0 1,0 -2.2,0M392.3,235.9a1.3,1.4 0 1,0 2.5,0a1.3,1.4 0 1,0 -2.5,0M398.4,235.9a1.0,1.5 0 1,0 2.1,0a1.0,1.5 0 1,0 -2.1,0M402.8,236.4a1.0,1.6 0 1,0 2.0,0a1.0,1.6 0 1,0 -2.0,0M406.7,235.1a1.3,1.3 0 1,0 2.7,0a1.3,1.3 0 1,0 -2.7,0M352.2,240.9a1.2,1.7 0 1,0 2.4,0a1.2,1.7 0 1,0 -2.4,0M358.7,239.8a1.3,1.7 0 1,0 2.5,0a1.3,1.7 0 1,0 -2.5,0M363.8,241.2a1.2,1.4 0 1,0 2.5,0a1.2,1.4 0 1,0 -2.5,0M367.0,240.5a1.3,1.8 0 1,0 2.6,0a1.3,1.8 0 1,0 -2.6,0M371.6,241.9a1.0,1.8 0 1,0 1.9,0a1.0,1.8 0 1,0 -1.9,0M377.3,239.1a1.1,1.2 0 1,0 2.3,0a1.1,1.2 0 1,0 -2.3,0M380.9,241.1a1.0,1.7 0 1,0 1.9,0a1.0,1.7 0 1,0 -1.9,0M386.0,241.2a1.2,1.3 0 1,0 2.5,0a1.2,1.3 0 1,0 -2.5,0M390.3,241.5a1.1,1.6 0 1,0 2.3,0a1.1,1.6 0 1,0 -2.3,0M396.6,239.3a1.4,1.4 0 1,0 2.7,0a1.4,1.4 0 1,0 -2.7,0M400.7,239.6a1.3,1.4 0 1,0 2.5,0a1.3,1.4 0 1,0 -2.5,0M406.0,241.5a1.0,1.3 0 1,0 2.0,0a1.0,1.3 0 1,0 -2.0,0M352.1,243.8a1.1,1.6 0 1,0 2.2,0a1.1,1.6 0 1,0 -2.2,0M354.7,245.1a1.1,1.3 0 1,0 2.1,0a1.1,1.3 0 1,0 -2.1,0M360.9,243.5a1.0,1.2 0 1,0 2.1,0a1.0,1.2 0 1,0 -2.1,0M364.5,244.9a1.0,1.4 0 1,0 2.0,0a1.0,1.4 0 1,0 -2.0,0M368.8,245.0a1.2,1.3 0 1,0 2.3,0a1.2,1.3 0 1,0 -2.3,0M373.9,243.9a1.1,1.5 0 1,0 2.3,0a1.1,1.5 0 1,0 -2.3,0M378.9,244.7a1.4,1.5 0 1,0 2.7,0a1.4,1.5 0 1,0 -2.7,0M384.6,243.2a1.4,1.5 0 1,0 2.7,0a1.4,1.5 0 1,0 -2.7,0M389.6,243.8a1.0,1.6 0 1,0 2.0,0a1.0,1.6 0 1,0 -2.0,0M393.0,245.1a1.0,1.3 0 1,0 2.0,0a1.0,1.3 0 1,0 -2.0,0M399.0,245.0a1.0,1.7 0 1,0 1.9,0a1.0,1.7 0 1,0 -1.9,0M403.9,243.7a1.4,1.5 0 1,0 2.7,0a1.4,1.5 0 1,0 -2.7,0M359.3,249.4a1.1,1.5 0 1,0 2.2,0a1.1,1.5 0 1,0 -2.2,0M364.4,249.6a1.1,1.7 0 1,0 2.2,0a1.1,1.7 0 1,0 -2.2,0M367.1,248.1a1.1,1.3 0 1,0 2.2,0a1.1,1.3 0 1,0 -2.2,0M372.9,247.3a1.3,1.6 0 1,0 2.6,0a1.3,1.6 0 1,0 -2.6,0M377.6,247.4a0.9,1.8 0 1,0 1.9,0a0.9,1.8 0 1,0 -1.9,0M380.2,248.8a1.3,1.4 0 1,0 2.5,0a1.3,1.4 0 1,0 -2.5,0M385.3,250.1a1.2,1.8 0 1,0 2.4,0a1.2,1.8 0 1,0 -2.4,0M392.4,248.6a1.1,1.5 0 1,0 2.2,0a1.1,1.5 0 1,0 -2.2,0M395.0,247.5a1.1,1.6 0 1,0 2.1,0a1.1,1.6 0 1,0 -2.1,0M400.5,248.8a1.2,1.7 0 1,0 2.5,0a1.2,1.7 0 1,0 -2.5,0M364.3,253.3a1.4,1.3 0 1,0 2.7,0a1.4,1.3 0 1,0 -2.7,0M369.2,252.2a1.1,1.8 0 1,0 2.2,0a1.1,1.8 0 1,0 -2.2,0M374.5,253.5a1.3,1.6 0 1,0 2.6,0a1.3,1.6 0 1,0 -2.6,0M380.2,252.4a1.2,1.4 0 1,0 2.5,0a1.2,1.4 0 1,0 -2.5,0M383.7,254.1a1.4,1.6 0 1,0 2.7,0a1.4,1.6 0 1,0 -2.7,0M390.2,253.2a1.1,1.3 0 1,0 2.2,0a1.1,1.3 0 1,0 -2.2,0M392.4,252.7a1.0,1.8 0 1,0 2.0,0a1.0,1.8 0 1,0 -2.0,0M398.5,252.1a1.3,1.2 0 1,0 2.6,0a1.3,1.2 0 1,0 -2.6,0M401.5,254.3a1.1,1.5 0 1,0 2.2,0a1.1,1.5 0 1,0 -2.2,0M373.8,255.5a1.2,1.4 0 1,0 2.3,0a1.2,1.4 0 1,0 -2.3,0M376.2,257.7a1.3,1.4 0 1,0 2.7,0a1.3,1.4 0 1,0 -2.7,0M380.6,255.7a1.2,1.8 0 1,0 2.3,0a1.2,1.8 0 1,0 -2.3,0M385.1,255.8a1.2,1.5 0 1,0 2.4,0a1.2,1.5 0 1,0 -2.4,0M391.3,257.9a1.1,1.5 0 1,0 2.2,0a1.1,1.5 0 1,0 -2.2,0M394.8,255.9a1.2,1.7 0 1,0 2.4,0a1.2,1.7 0 1,0 -2.4,0M401.5,256.7a1.1,1.4 0 1,0 2.1,0a1.1,1.4 0 1,0 -2.1,0M380.1,261.7a1.1,1.4 0 1,0 2.2,0a1.1,1.4 0 1,0 -2.2,0M382.8,260.0a1.3,1.6 0 1,0 2.7,0a1.3,1.6 0 1,0 -2.7,0M390.3,259.8a1.1,1.4 0 1,0 2.1,0a1.1,1.4 0 1,0 -2.1,0M394.3,260.5a1.3,1.3 0 1,0 2.6,0a1.3,1.3 0 1,0 -2.6,0M397.3,260.2a1.2,1.2 0 1,0 2.5,0a1.2,1.2 0 1,0 -2.5,0M387.6,264.3a1.0,1.2 0 1,0 2.0,0a1.0,1.2 0 1,0 -2.0,0M390.6,264.7a1.3,1.3 0 1,0 2.6,0a1.3,1.3 0 1,0 -2.6,0M395.5,264.7a1.0,1.2 0 1,0 2.1,0a1.0,1.2 0 1,0 -2.1,0M399.4,264.2a1.1,1.7 0 1,0 2.1,0a1.1,1.7 0 1,0 -2.1,0M399.2,270.3a1.3,1.8 0 1,0 2.5,0a1.3,1.8 0 1,0 -2.5,0" stroke="#000" stroke-width="1.0" fill="none"/>
<path d="M377.8,218.0h.01M387.4,216.5h.01M365.6,222.2h.01M373.5,220.5h.01M379.6,220.9h.01M382.4,219.9h.01M387.6,223.8h.01M397.7,222.3h.01M351.3,224.1h.01M356.2,227.4h.01M359.5,226.1h.01M369.6,226.8h.01M373.7,228.5h.01M380.5,225.6h.01M385.4,228.8h.01M393.9,228.7h.01M398.3,224.5h.01M402.2,225.8h.01M354.0,229.0h.01M360.6,233.2h.01M365.1,229.0h.01M372.6,231.2h.01M377.9,232.0h.01M384.2,231.2h.01M391.5,234.1h.01M397.3,232.3h.01M400.0,231.0h.01M405.8,233.8h.01M351.6,238.4h.01M357.7,239.5h.01M363.0,235.9h.01M369.4,235.6h.01M374.6,235.0h.01M381.9,236.8h.01M384.8,239.2h.01M389.7,239.2h.01M399.4,235.0h.01M405.4,237.3h.01M355.2,242.6h.01M358.6,244.4h.01M362.8,243.6h.01M368.9,240.9h.01M374.9,244.1h.01M382.7,243.3h.01M387.7,243.3h.01M395.8,239.9h.01M401.0,243.3h.01M405.5,242.9h.01M358.3,249.7h.01M364.7,246.9h.01M368.4,249.0h.01M375.4,247.1h.01M382.0,246.8h.01M388.4,247.2h.01M389.9,248.7h.01M396.1,248.3h.01M401.6,250.0h.01M364.3,251.2h.01M372.7,250.0h.01M376.9,250.3h.01M384.9,254.7h.01M386.5,252.3h.01M394.8,253.7h.01M402.2,251.7h.01M378.7,260.0h.01M384.5,260.0h.01M392.6,260.3h.01M399.5,258.5h.01M385.3,261.1h.01M390.0,263.3h.01M394.5,261.2h.01M399.0,262.8h.01M391.0,265.7h.01M396.4,266.2h.01" stroke="#000" stroke-width="1.00" stroke-linecap="round" fill="none"/>
<path d="M431.9,221.3a1.4,1.5 0 1,0 2.8,0a1.4,1.5 0 1,0 -2.8,0M419.4,224.7a1.2,1.7 0 1,0 2.3,0a1.2,1.7 0 1,0 -2.3,0M423.1,226.4a1.1,1.2 0 1,0 2.2,0a1.1,1.2 0 1,0 -2.2,0M429.2,225.3a1.2,1.5 0 1,0 2.3,0a1.2,1.5 0 1,0 -2.3,0M433.9,225.9a1.0,1.5 0 1,0 2.0,0a1.0,1.5 0 1,0 -2.0,0M411.0,231.5a1.3,1.5 0 1,0 2.6,0a1.3,1.5 0 1,0 -2.6,0M415.4,230.2a1.3,1.7 0 1,0 2.6,0a1.3,1.7 0 1,0 -2.6,0M419.6,230.5a1.1,1.2 0 1,0 2.1,0a1.1,1.2 0 1,0 -2.1,0M426.7,229.1a1.3,1.7 0 1,0 2.6,0a1.3,1.7 0 1,0 -2.6,0M434.0,228.7a1.1,1.4 0 1,0 2.2,0a1.1,1.4 0 1,0 -2.2,0M436.7,228.3a1.4,1.9 0 1,0 2.7,0a1.4,1.9 0 1,0 -2.7,0M410.5,234.4a1.1,1.7 0 1,0 2.2,0a1.1,1.7 0 1,0 -2.2,0M416.9,235.7a1.2,1.5 0 1,0 2.5,0a1.2,1.5 0 1,0 -2.5,0M422.9,235.9a1.0,1.5 0 1,0 2.0,0a1.0,1.5 0 1,0 -2.0,0M428.4,233.1a1.3,1.7 0 1,0 2.5,0a1.3,1.7 0 1,0 -2.5,0M435.2,234.3a1.2,1.3 0 1,0 2.4,0a1.2,1.3 0 1,0 -2.4,0M440.6,235.7a1.1,1.5 0 1,0 2.1,0a1.1,1.5 0 1,0 -2.1,0M409.6,238.5a1.2,1.5 0 1,0 2.3,0a1.2,1.5 0 1,0 -2.3,0M413.2,238.1a1.4,1.3 0 1,0 2.8,0a1.4,1.3 0 1,0 -2.8,0M419.9,238.2a1.4,1.4 0 1,0 2.8,0a1.4,1.4 0 1,0 -2.8,0M427.0,239.4a1.4,1.4 0 1,0 2.7,0a1.4,1.4 0 1,0 -2.7,0M431.6,239.8a1.2,1.5 0 1,0 2.5,0a1.2,1.5 0 1,0 -2.5,0M440.1,238.8a1.0,1.8 0 1,0 2.0,0a1.0,1.8 0 1,0 -2.0,0M442.5,239.0a1.3,1.4 0 1,0 2.7,0a1.3,1.4 0 1,0 -2.7,0M449.0,241.3a1.3,1.6 0 1,0 2.7,0a1.3,1.6 0 1,0 -2.7,0M412.4,243.5a1.4,1.3 0 1,0 2.8,0a1.4,1.3 0 1,0 -2.8,0M418.4,243.1a1.1,1.4 0 1,0 2.3,0a1.1,1.4 0 1,0 -2.3,0M423.7,244.1a1.3,1.8 0 1,0 2.5,0a1.3,1.8 0 1,0 -2.5,0M427.8,245.7a1.4,1.6 0 1,0 2.7,0a1.4,1.6 0 1,0 -2.7,0M436.2,244.8a1.2,1.8 0 1,0 2.3,0a1.2,1.8 0 1,0 -2.3,0M440.0,245.4a1.0,1.4 0 1,0 2.0,0a1.0,1.4 0 1,0 -2.0,0M446.5,245.4a1.3,1.5 0 1,0 2.6,0a1.3,1.5 0 1,0 -2.6,0M450.9,246.3a1.4,1.3 0 1,0 2.9,0a1.4,1.3 0 1,0 -2.9,0M408.8,248.7a1.2,1.4 0 1,0 2.4,0a1.2,1.4 0 1,0 -2.4,0M413.6,250.5a1.0,1.3 0 1,0 2.0,0a1.0,1.3 0 1,0 -2.0,0M422.9,249.2a1.0,1.5 0 1,0 2.0,0a1.0,1.5 0 1,0 -2.0,0M425.7,250.5a1.2,1.6 0 1,0 2.3,0a1.2,1.6 0 1,0 -2.3,0M431.4,249.4a1.1,1.7 0 1,0 2.2,0a1.1,1.7 0 1,0 -2.2,0M438.9,249.6a1.2,1.9 0 1,0 2.4,0a1.2,1.9 0 1,0 -2.4,0M442.8,248.2a1.1,1.6 0 1,0 2.1,0a1.1,1.6 0 1,0 -2.1,0M450.0,251.7a1.2,1.5 0 1,0 2.4,0a1.2,1.5 0 1,0 -2.4,0M405.0,255.5a1.4,1.4 0 1,0 2.7,0a1.4,1.4 0 1,0 -2.7,0M411.9,256.0a1.4,1.5 0 1,0 2.7,0a1.4,1.5 0 1,0 -2.7,0M417.2,256.5a1.1,1.7 0 1,0 2.3,0a1.1,1.7 0 1,0 -2.3,0M424.9,254.8a1.2,1.4 0 1,0 2.5,0a1.2,1.4 0 1,0 -2.5,0M428.3,254.8a1.0,1.9 0 1,0 2.0,0a1.0,1.9 0 1,0 -2.0,0M433.9,255.6a1.1,1.3 0 1,0 2.3,0a1.1,1.3 0 1,0 -2.3,0M441.8,255.2a1.3,1.6 0 1,0 2.5,0a1.3,1.6 0 1,0 -2.5,0M448.8,253.1a1.1,1.5 0 1,0 2.2,0a1.1,1.5 0 1,0 -2.2,0M407.3,260.2a1.4,1.5 0 1,0 2.7,0a1.4,1.5 0 1,0 -2.7,0M415.9,259.3a1.2,1.9 0 1,0 2.3,0a1.2,1.9 0 1,0 -2.3,0M421.6,259.4a1.1,1.5 0 1,0 2.3,0a1.1,1.5 0 1,0 -2.3,0M427.6,259.1a1.0,1.7 0 1,0 2.1,0a1.0,1.7 0 1,0 -2.1,0M434.2,259.7a1.3,1.6 0 1,0 2.6,0a1.3,1.6 0 1,0 -2.6,0M436.3,258.4a1.2,1.4 0 1,0 2.3,0a1.2,1.4 0 1,0 -2.3,0M444.7,261.3a1.3,1.6 0 1,0 2.7,0a1.3,1.6 0 1,0 -2.7,0M450.2,258.6a1.4,1.5 0 1,0 2.7,0a1.4,1.5 0 1,0 -2.7,0M406.8,263.1a1.3,1.3 0 1,0 2.6,0a1.3,1.3 0 1,0 -2.6,0M410.5,264.4a1.1,1.9 0 1,0 2.1,0a1.1,1.9 0 1,0 -2.1,0M419.2,266.9a1.3,1.7 0 1,0 2.6,0a1.3,1.7 0 1,0 -2.6,0M423.0,266.5a1.2,1.6 0 1,0 2.4,0a1.2,1.6 0 1,0 -2.4,0M430.7,266.4a1.1,1.4 0 1,0 2.1,0a1.1,1.4 0 1,0 -2.1,0M435.6,266.8a1.3,1.7 0 1,0 2.5,0a1.3,1.7 0 1,0 -2.5,0M441.8,266.7a1.1,1.7 0 1,0 2.2,0a1.1,1.7 0 1,0 -2.2,0M447.3,263.8a1.0,1.7 0 1,0 2.1,0a1.0,1.7 0 1,0 -2.1,0M402.9,269.5a1.1,1.6 0 1,0 2.1,0a1.1,1.6 0 1,0 -2.1,0M409.3,270.3a1.1,1.6 0 1,0 2.2,0a1.1,1.6 0 1,0 -2.2,0M414.1,269.2a1.0,1.6 0 1,0 2.1,0a1.0,1.6 0 1,0 -2.1,0M420.8,270.0a1.3,1.3 0 1,0 2.5,0a1.3,1.3 0 1,0 -2.5,0M426.4,270.6a1.1,1.7 0 1,0 2.2,0a1.1,1.7 0 1,0 -2.2,0M431.2,270.1a1.2,1.7 0 1,0 2.4,0a1.2,1.7 0 1,0 -2.4,0M437.2,271.0a1.3,1.6 0 1,0 2.7,0a1.3,1.6 0 1,0 -2.7,0M444.9,271.1a1.1,1.6 0 1,0 2.2,0a1.1,1.6 0 1,0 -2.2,0M449.7,269.0a1.4,1.6 0 1,0 2.7,0a1.4,1.6 0 1,0 -2.7,0M405.8,275.9a1.3,1.5 0 1,0 2.6,0a1.3,1.5 0 1,0 -2.6,0M413.3,275.0a1.2,1.9 0 1,0 2.4,0a1.2,1.9 0 1,0 -2.4,0M418.6,274.0a1.3,1.7 0 1,0 2.7,0a1.3,1.7 0 1,0 -2.7,0M423.7,274.5a1.0,1.7 0 1,0 2.0,0a1.0,1.7 0 1,0 -2.0,0M429.0,274.5a1.0,1.9 0 1,0 2.0,0a1.0,1.9 0 1,0 -2.0,0M436.1,275.9a1.4,1.8 0 1,0 2.8,0a1.4,1.8 0 1,0 -2.8,0M440.1,274.0a1.1,1.8 0 1,0 2.2,0a1.1,1.8 0 1,0 -2.2,0M448.1,275.6a1.1,1.8 0 1,0 2.1,0a1.1,1.8 0 1,0 -2.1,0M453.4,275.6a1.2,1.2 0 1,0 2.4,0a1.2,1.2 0 1,0 -2.4,0M420.7,280.7a1.4,1.5 0 1,0 2.8,0a1.4,1.5 0 1,0 -2.8,0M428.2,281.3a1.4,1.7 0 1,0 2.7,0a1.4,1.7 0 1,0 -2.7,0M431.3,279.5a1.2,1.9 0 1,0 2.4,0a1.2,1.9 0 1,0 -2.4,0M436.8,281.2a1.1,1.9 0 1,0 2.1,0a1.1,1.9 0 1,0 -2.1,0M445.0,280.1a1.1,1.3 0 1,0 2.3,0a1.1,1.3 0 1,0 -2.3,0M449.4,279.2a1.1,1.3 0 1,0 2.3,0a1.1,1.3 0 1,0 -2.3,0M452.4,283.7a1.0,1.7 0 1,0 2.0,0a1.0,1.7 0 1,0 -2.0,0" stroke="#000" stroke-width="1.0" fill="none"/>
<path d="M423.6,221.7h.01M428.4,221.0h.01M432.3,220.2h.01M413.4,227.8h.01M421.2,226.0h.01M424.5,224.9h.01M431.8,225.5h.01M433.3,224.7h.01M409.4,230.9h.01M414.1,230.7h.01M418.2,230.1h.01M424.3,229.3h.01M428.0,228.1h.01M433.1,230.6h.01M435.5,230.0h.01M412.5,233.1h.01M418.2,234.5h.01M420.0,232.5h.01M424.0,233.0h.01M428.7,234.4h.01M435.8,235.6h.01M437.9,231.8h.01M444.5,233.3h.01M410.4,236.2h.01M414.5,239.0h.01M418.9,238.1h.01M423.9,237.3h.01M428.4,236.5h.01M432.7,238.9h.01M435.2,236.9h.01M442.8,239.4h.01M443.8,238.0h.01M450.6,238.8h.01M409.2,240.1h.01M413.3,241.9h.01M417.7,239.4h.01M421.3,240.6h.01M426.3,240.6h.01M428.8,242.0h.01M433.9,242.4h.01M438.3,241.5h.01M444.7,239.8h.01M448.8,239.6h.01M409.0,245.2h.01M414.1,247.0h.01M418.8,244.9h.01M422.6,247.0h.01M427.4,245.7h.01M433.8,244.7h.01M437.9,244.2h.01M439.8,243.3h.01M445.5,246.6h.01M448.9,244.9h.01M455.5,244.2h.01M408.0,250.7h.01M414.3,247.9h.01M417.3,248.6h.01M419.7,248.7h.01M427.5,248.2h.01M430.6,249.8h.01M433.0,250.6h.01M437.6,248.2h.01M444.4,247.0h.01M447.4,247.5h.01M452.2,247.0h.01M455.3,247.9h.01M409.1,254.1h.01M414.6,251.8h.01M418.3,254.1h.01M421.9,253.7h.01M426.5,254.5h.01M432.1,253.2h.01M438.3,251.2h.01M439.6,253.5h.01M446.0,253.7h.01M449.2,252.8h.01M453.3,252.5h.01M407.5,255.7h.01M413.3,255.0h.01M418.3,256.6h.01M420.4,255.1h.01M425.9,256.6h.01M431.2,256.1h.01M434.4,258.2h.01M438.2,258.5h.01M445.1,258.5h.01M449.7,255.6h.01M406.3,258.8h.01M411.9,259.2h.01M413.9,260.9h.01M418.1,260.3h.01M424.5,258.8h.01M428.7,258.9h.01M432.4,261.0h.01M437.6,258.6h.01M440.1,262.3h.01M445.3,260.1h.01M449.6,261.2h.01M403.5,264.5h.01M408.4,263.0h.01M414.5,266.1h.01M418.2,266.2h.01M421.4,265.6h.01M424.9,265.2h.01M431.2,266.0h.01M436.0,265.8h.01M438.2,265.4h.01M443.4,263.5h.01M447.4,265.4h.01M405.0,267.4h.01M408.9,266.7h.01M415.8,267.0h.01M420.7,267.4h.01M425.1,267.3h.01M427.2,267.7h.01M430.6,267.8h.01M436.4,266.2h.01M442.7,267.6h.01M443.7,269.9h.01M449.0,267.1h.01M404.7,272.2h.01M408.3,270.9h.01M411.9,273.8h.01M416.6,273.9h.01M423.0,270.4h.01M427.3,270.0h.01M431.1,273.1h.01M435.5,272.1h.01M440.3,270.6h.01M443.7,271.0h.01M447.5,270.7h.01M453.1,272.2h.01M407.3,276.0h.01M409.8,277.4h.01M414.4,274.2h.01M418.6,276.6h.01M425.4,276.3h.01M428.7,277.5h.01M433.6,275.5h.01M436.7,276.8h.01M440.6,274.2h.01M446.2,277.0h.01M449.1,276.5h.01M456.1,274.3h.01M414.7,279.4h.01M418.3,280.1h.01M424.6,277.9h.01M430.1,277.7h.01M434.6,279.2h.01M440.9,279.2h.01M444.9,280.7h.01M448.2,278.5h.01M451.5,279.5h.01M432.8,283.7h.01M435.0,282.9h.01M440.4,283.9h.01M444.0,283.6h.01M449.6,283.4h.01M454.1,281.8h.01" stroke="#000" stroke-width="1.00" stroke-linecap="round" fill="none"/>
<path d="M395.5,234.1 L399.6,228.3 L396.1,227.0Z" fill="#000" stroke="#fff" stroke-width="0.9" paint-order="stroke"/>
<path d="M376.8,230.8 L381.9,225.8 L378.6,223.9Z" fill="#000" stroke="#fff" stroke-width="0.9" paint-order="stroke"/>
<path d="M400.5,250.1 L404.6,244.3 L401.1,243.0Z" fill="#000" stroke="#fff" stroke-width="0.9" paint-order="stroke"/>
<path d="M396.5,258.1 L400.6,252.3 L397.1,251.0Z" fill="#000" stroke="#fff" stroke-width="0.9" paint-order="stroke"/>
<path d="M392.5,243.1 L396.6,237.3 L393.1,236.0Z" fill="#000" stroke="#fff" stroke-width="0.9" paint-order="stroke"/>
<path d="M385.8,236.8 L390.9,231.8 L387.6,229.9Z" fill="#000" stroke="#fff" stroke-width="0.9" paint-order="stroke"/>
<path d="M415.0,232.3 L416.9,225.5 L413.1,225.5Z" fill="#000" stroke="#fff" stroke-width="0.9" paint-order="stroke"/>
<path d="M421.0,227.8 L422.9,221.0 L419.1,221.0Z" fill="#000" stroke="#fff" stroke-width="0.9" paint-order="stroke"/>
<path d="M426.0,225.8 L427.9,219.0 L424.1,219.0Z" fill="#000" stroke="#fff" stroke-width="0.9" paint-order="stroke"/>
<path d="M431.0,230.3 L432.9,223.5 L429.1,223.5Z" fill="#000" stroke="#fff" stroke-width="0.9" paint-order="stroke"/>
<path d="M475.9,155.0h.01M479.8,154.9h.01M483.6,155.2h.01M471.1,155.9h.01M473.5,155.9h.01M478.4,156.9h.01M481.9,156.2h.01M485.6,158.4h.01M468.4,161.6h.01M470.5,159.5h.01M474.6,158.9h.01M478.9,160.8h.01M483.7,158.8h.01M467.4,165.1h.01M469.5,164.6h.01M475.3,162.8h.01M478.3,164.0h.01M482.7,163.6h.01M484.5,162.6h.01M467.7,168.0h.01M470.8,165.3h.01M476.7,165.3h.01M480.2,165.3h.01M482.5,167.3h.01M465.3,169.4h.01M469.4,171.3h.01M474.4,170.0h.01M477.3,171.5h.01M483.0,169.9h.01M465.8,173.9h.01M467.5,173.4h.01M471.3,173.2h.01M475.7,174.7h.01M481.0,174.8h.01M462.2,175.6h.01M467.3,177.4h.01M468.7,178.3h.01M472.9,176.2h.01M477.4,176.9h.01M464.4,179.8h.01M469.8,180.2h.01M471.0,178.4h.01M474.6,179.4h.01M480.6,181.3h.01M461.6,181.7h.01M466.3,181.7h.01M470.9,183.7h.01M473.1,183.1h.01M476.8,182.2h.01M461.8,184.9h.01M464.2,187.8h.01M469.2,187.3h.01M471.3,185.6h.01M476.5,185.9h.01M459.7,190.0h.01M463.4,189.8h.01M464.7,190.8h.01M469.1,189.8h.01M472.2,189.0h.01M478.3,190.8h.01M457.6,191.9h.01M461.5,192.0h.01M463.0,192.3h.01M468.3,192.4h.01M473.3,194.7h.01M475.1,194.0h.01M453.2,197.8h.01M457.9,195.5h.01M461.2,196.0h.01M465.0,195.4h.01M469.2,196.7h.01M473.7,195.8h.01M453.7,198.9h.01M456.9,200.9h.01M460.1,199.8h.01M465.0,198.7h.01M468.6,199.5h.01M473.7,198.7h.01M451.0,204.6h.01M454.3,202.7h.01M460.3,202.6h.01M464.1,204.4h.01M465.3,203.2h.01M471.6,201.8h.01M446.9,206.0h.01M450.2,206.3h.01M454.1,205.7h.01M457.0,204.8h.01M460.6,205.0h.01M465.6,207.0h.01M467.9,208.0h.01M441.9,211.1h.01M446.5,208.1h.01M449.9,211.4h.01M455.7,208.7h.01M457.5,211.1h.01M463.1,210.0h.01M465.0,209.4h.01M471.6,208.0h.01M437.8,211.8h.01M441.6,214.0h.01M444.1,214.3h.01M448.9,212.2h.01M452.1,212.9h.01M457.3,213.2h.01M461.9,213.0h.01M464.4,214.7h.01M467.2,211.4h.01M436.6,217.1h.01M440.6,215.6h.01M444.3,215.3h.01M447.5,216.6h.01M452.0,215.2h.01M454.4,217.4h.01M459.7,217.9h.01M461.2,215.3h.01M465.0,217.1h.01M436.5,219.4h.01M441.3,219.4h.01M445.6,219.1h.01M448.8,219.4h.01M452.6,221.2h.01M455.4,218.0h.01M461.4,219.3h.01M464.2,219.9h.01M437.1,222.0h.01M438.9,223.6h.01M444.5,222.8h.01M446.9,222.0h.01M452.1,224.2h.01M456.1,221.6h.01M459.0,224.6h.01M463.2,222.8h.01M465.1,221.4h.01M439.3,227.0h.01M440.3,225.3h.01M444.9,226.5h.01M448.6,226.0h.01M454.1,225.1h.01M457.6,225.7h.01M462.1,227.8h.01M463.8,226.6h.01M443.8,228.8h.01M448.3,228.4h.01M450.3,229.3h.01M456.3,228.4h.01M457.6,228.3h.01M461.5,229.0h.01M446.1,232.7h.01M449.3,231.8h.01M451.9,232.3h.01M457.4,233.0h.01M458.9,233.6h.01M451.2,237.3h.01M455.2,235.9h.01M457.8,237.8h.01" stroke="#000" stroke-width="0.96" stroke-linecap="round" fill="none"/>
<path d="M469.4,224.1h.01M472.3,223.8h.01M474.3,223.9h.01M469.2,225.8h.01M473.4,226.8h.01M475.3,226.2h.01M478.4,226.7h.01M476.0,227.0h.01M479.5,229.1h.01M482.3,228.4h.01M489.3,229.4h.01M483.8,230.5h.01M488.3,231.8h.01M490.4,232.3h.01M490.1,234.8h.01M491.4,232.8h.01M493.9,232.9h.01M497.0,233.6h.01M500.7,234.0h.01M492.7,234.8h.01M496.3,235.8h.01M500.0,235.1h.01M503.6,235.7h.01M506.8,235.7h.01M508.2,235.3h.01M499.4,240.0h.01M502.2,238.1h.01M505.1,237.5h.01M507.0,240.0h.01M503.2,242.3h.01M505.5,241.5h.01M509.6,240.6h.01M506.5,244.2h.01" stroke="#000" stroke-width="0.90" stroke-linecap="round" fill="none"/>
<path d="M455.6,272.9h.01M452.2,275.2h.01M455.8,275.5h.01M450.2,277.7h.01M455.0,277.2h.01M457.0,276.2h.01M448.7,280.7h.01M452.8,280.2h.01M456.8,279.7h.01M460.3,280.2h.01M463.2,280.7h.01M463.9,280.1h.01M449.4,282.7h.01M451.7,281.8h.01M454.7,280.9h.01M456.4,281.5h.01M459.5,280.8h.01M464.1,282.7h.01M466.8,281.3h.01M470.1,282.9h.01M448.1,284.9h.01M450.4,284.9h.01M453.8,284.3h.01M454.7,286.0h.01M459.8,283.7h.01M461.0,283.9h.01M465.4,283.7h.01M466.7,284.6h.01M469.7,284.0h.01M456.5,287.3h.01M460.7,286.2h.01M463.0,287.6h.01M467.0,287.6h.01M469.8,286.9h.01M471.3,286.0h.01M476.4,288.3h.01M462.4,289.9h.01M466.0,290.6h.01M467.2,290.0h.01M470.1,289.2h.01M473.0,288.7h.01M476.6,290.9h.01M480.4,288.8h.01M482.2,290.1h.01M464.8,293.2h.01M466.6,293.1h.01M469.9,293.7h.01M473.8,293.2h.01M474.7,292.7h.01M478.3,291.8h.01M482.3,291.7h.01M485.1,292.5h.01M487.3,293.0h.01M491.1,293.8h.01M467.8,294.7h.01M471.0,295.2h.01M473.7,294.1h.01M475.7,295.3h.01M481.3,294.5h.01M482.6,294.6h.01M486.7,295.1h.01M489.8,293.8h.01M491.0,294.3h.01M475.9,297.1h.01M479.6,297.4h.01M480.9,298.8h.01M483.8,297.1h.01M487.5,299.0h.01M489.5,296.9h.01M494.3,296.6h.01M484.1,300.9h.01M486.0,300.6h.01M490.0,301.5h.01M492.3,299.1h.01M487.4,301.9h.01" stroke="#000" stroke-width="0.90" stroke-linecap="round" fill="none"/>
<path d="M406.0,284.8 L404.2,291.4 L407.8,291.4Z" fill="#000" stroke="#fff" stroke-width="0.9" paint-order="stroke"/>
<path d="M422.5,290.8 L420.7,297.4 L424.3,297.4Z" fill="#000" stroke="#fff" stroke-width="0.9" paint-order="stroke"/>
<path d="M403.8,304.6 L401.9,311.1 L405.6,311.1Z" fill="#000" stroke="#fff" stroke-width="0.9" paint-order="stroke"/>
<path d="M417.5,306.8 L415.7,313.4 L419.3,313.4Z" fill="#000" stroke="#fff" stroke-width="0.9" paint-order="stroke"/>
<path d="M437.5,306.8 L435.7,313.4 L439.3,313.4Z" fill="#000" stroke="#fff" stroke-width="0.9" paint-order="stroke"/>
<path d="M404.8,331.8 L407.7,338.0 L410.4,335.7Z" fill="#000" stroke="#fff" stroke-width="0.9" paint-order="stroke"/>
<path d="M423.8,336.8 L421.9,343.4 L425.6,343.4Z" fill="#000" stroke="#fff" stroke-width="0.9" paint-order="stroke"/>
<path d="M406.7,345.0 L400.1,343.2 L400.1,346.8Z" fill="#000" stroke="#fff" stroke-width="0.9" paint-order="stroke"/>
<path d="M406.7,350.0 L400.1,348.2 L400.1,351.8Z" fill="#000" stroke="#fff" stroke-width="0.9" paint-order="stroke"/>
<path d="M406.1,359.6 L401.3,354.7 L399.5,357.9Z" fill="#000" stroke="#fff" stroke-width="0.9" paint-order="stroke"/>
<path d="M412.9,367.5 L406.7,364.6 L406.1,368.1Z" fill="#000" stroke="#fff" stroke-width="0.9" paint-order="stroke"/>
<path d="M414.1,373.7 L407.9,370.8 L407.3,374.4Z" fill="#000" stroke="#fff" stroke-width="0.9" paint-order="stroke"/>
<path d="M425.9,342.1 L422.0,347.6 L425.4,348.9Z" fill="#000" stroke="#fff" stroke-width="0.9" paint-order="stroke"/>
<path d="M438.75,291L455,335" stroke="#000" stroke-width="1" stroke-dasharray="3.5 2.5" fill="none"/>
<path d="M433.75,300L442.5,340" stroke="#000" stroke-width="1" stroke-dasharray="3.5 2.5" fill="none"/>
<path d="M427.5,310L436,333" stroke="#000" stroke-width="1" stroke-dasharray="3.5 2.5" fill="none"/>
<path d="M391.7,352.6l-0.8,2.3M391.8,353.5l2.4,0.3M389.1,354.9l2.2,0.9M394.0,353.7l-2.3,0.7M394.0,352.7l-0.3,2.4M395.0,354.4l2.1,1.2M400.1,354.6l-1.5,1.9M388.8,355.5l-2.3,0.6M390.1,355.3l-2.2,1.0M392.2,355.6l-1.1,2.2M395.1,354.9l-2.0,1.4M393.5,357.0l2.3,0.7M396.9,354.9l0.3,2.4M401.2,355.1l-2.0,1.3M401.5,356.1l1.1,2.1M402.5,356.2l2.2,1.0M389.8,358.2l-2.2,1.0M391.3,356.6l-1.4,1.9M390.8,358.5l2.4,0.1M392.6,357.3l2.4,0.5M396.3,357.6l-0.4,2.4M399.8,357.8l-2.4,0.3M401.8,357.2l-0.9,2.2M403.1,357.9l-2.2,0.9M385.0,359.3l2.3,0.8M387.7,358.9l-0.6,2.3M389.4,359.6l2.0,1.3M390.3,359.1l1.2,2.1M392.1,359.4l2.1,1.1M395.7,357.9l0.3,2.4M396.3,359.5l2.4,0.3M387.1,360.7l-1.1,2.1M388.5,361.1l-1.1,2.2M391.6,361.1l-2.3,0.7M393.0,361.5l-1.8,1.6M394.1,362.2l2.3,0.6M397.1,360.4l-2.2,1.0M387.4,362.8l-0.3,2.4M391.0,363.4l-2.4,0.5M390.8,361.7l0.1,2.4M391.9,362.3l2.3,0.6M389.0,363.7l-1.4,1.9M389.7,364.6l2.1,1.2" stroke="#000" stroke-width="0.95" fill="none"/>
<path d="M401.3,364.3a0.8,1.2 0 1,0 1.6,0a0.8,1.2 0 1,0 -1.6,0M404.8,363.8a0.8,1.1 0 1,0 1.7,0a0.8,1.1 0 1,0 -1.7,0M392.8,367.1a0.8,1.0 0 1,0 1.5,0a0.8,1.0 0 1,0 -1.5,0M397.0,365.2a0.9,1.0 0 1,0 1.8,0a0.9,1.0 0 1,0 -1.8,0M400.3,366.6a1.0,1.3 0 1,0 1.9,0a1.0,1.3 0 1,0 -1.9,0M403.4,366.7a1.0,1.0 0 1,0 2.0,0a1.0,1.0 0 1,0 -2.0,0M391.0,368.6a0.8,0.9 0 1,0 1.7,0a0.8,0.9 0 1,0 -1.7,0M395.1,368.5a0.8,0.9 0 1,0 1.6,0a0.8,0.9 0 1,0 -1.6,0M401.9,369.4a0.8,1.3 0 1,0 1.7,0a0.8,1.3 0 1,0 -1.7,0M400.9,372.9a0.9,1.0 0 1,0 1.8,0a0.9,1.0 0 1,0 -1.8,0M402.8,373.4a0.8,1.3 0 1,0 1.5,0a0.8,1.3 0 1,0 -1.5,0M402.7,375.8a0.7,1.3 0 1,0 1.4,0a0.7,1.3 0 1,0 -1.4,0M405.9,376.5a0.9,0.9 0 1,0 1.9,0a0.9,0.9 0 1,0 -1.9,0M399.8,378.9a1.0,1.2 0 1,0 1.9,0a1.0,1.2 0 1,0 -1.9,0M404.5,377.8a0.8,1.1 0 1,0 1.6,0a0.8,1.1 0 1,0 -1.6,0" stroke="#000" stroke-width="0.8" fill="none"/>
<path d="M398.2,383.6h.01M398.4,385.0h.01M402.7,384.3h.01M396.4,388.1h.01M401.3,388.3h.01M403.6,388.6h.01M406.2,387.6h.01M396.7,390.7h.01M399.0,390.3h.01M400.7,389.5h.01M403.9,390.8h.01M395.2,391.8h.01M398.5,391.2h.01M399.0,391.9h.01M401.8,393.5h.01M405.3,392.1h.01M396.8,394.9h.01M399.0,394.6h.01M401.4,395.9h.01M403.7,394.8h.01M400.9,397.0h.01" stroke="#000" stroke-width="1.30" stroke-linecap="round" fill="none"/>
<path d="M395.7,386.3a0.8,1.0 0 1,0 1.7,0a0.8,1.0 0 1,0 -1.7,0M400.1,386.6a0.9,1.1 0 1,0 1.8,0a0.9,1.1 0 1,0 -1.8,0M404.2,387.9a0.9,1.0 0 1,0 1.8,0a0.9,1.0 0 1,0 -1.8,0M398.3,390.0a0.8,1.1 0 1,0 1.6,0a0.8,1.1 0 1,0 -1.6,0M403.3,389.1a0.9,1.2 0 1,0 1.8,0a0.9,1.2 0 1,0 -1.8,0M396.5,393.9a0.8,0.9 0 1,0 1.6,0a0.8,0.9 0 1,0 -1.6,0M401.8,393.8a0.7,0.9 0 1,0 1.4,0a0.7,0.9 0 1,0 -1.4,0M404.8,393.8a0.7,0.9 0 1,0 1.5,0a0.7,0.9 0 1,0 -1.5,0" stroke="#000" stroke-width="0.8" fill="none"/>
<path d="M390.4,412.5h.01M391.5,412.4h.01M389.1,414.0h.01M390.7,413.8h.01M393.7,414.5h.01M396.3,415.3h.01M388.7,415.4h.01M393.0,416.5h.01M394.6,416.2h.01M396.3,415.6h.01M394.9,418.4h.01M395.9,420.2h.01M397.7,419.1h.01M395.4,420.9h.01M398.2,421.9h.01" stroke="#000" stroke-width="1.20" stroke-linecap="round" fill="none"/>
<path d="M546.9,42.7h.01M540.2,45.3h.01M542.7,45.4h.01M545.7,43.6h.01M549.5,44.9h.01M551.3,44.7h.01M536.8,46.8h.01M540.3,46.6h.01M541.9,47.6h.01M544.7,46.5h.01M547.0,46.7h.01M550.7,46.4h.01M553.2,46.7h.01M536.2,48.0h.01M538.6,48.5h.01M541.7,49.3h.01M544.7,49.2h.01M545.6,48.3h.01M549.4,49.7h.01M550.5,48.8h.01M527.6,52.4h.01M529.1,52.3h.01M530.9,52.3h.01M533.9,50.2h.01M537.8,50.5h.01M540.4,50.1h.01M541.5,50.9h.01M544.0,51.2h.01M547.2,51.8h.01M526.3,53.5h.01M528.4,52.9h.01M531.2,53.3h.01M533.8,53.7h.01M535.1,53.0h.01M539.1,52.4h.01M541.4,53.6h.01M544.2,53.1h.01M524.2,55.8h.01M527.2,55.3h.01M530.4,56.1h.01M531.0,56.5h.01M535.5,55.3h.01M540.7,54.8h.01M518.5,58.5h.01M520.7,58.1h.01M523.1,58.4h.01M524.3,57.9h.01M529.2,57.3h.01M530.6,57.0h.01M519.8,61.0h.01M521.8,60.7h.01M523.8,59.4h.01M513.4,63.0h.01M514.4,63.7h.01M518.2,62.6h.01M521.1,61.6h.01M513.2,64.8h.01M516.8,64.0h.01M518.1,64.4h.01M508.2,67.4h.01M510.3,67.4h.01" stroke="#fff" stroke-width="0.8" stroke-linecap="round"/>
<path d="M560.0,48.2a0.9,0.9 0 1,0 1.8,0a0.9,0.9 0 1,0 -1.8,0M568.1,48.3a0.7,1.0 0 1,0 1.4,0a0.7,1.0 0 1,0 -1.4,0M547.3,51.2a0.8,1.0 0 1,0 1.7,0a0.8,1.0 0 1,0 -1.7,0M554.9,50.2a0.8,0.9 0 1,0 1.7,0a0.8,0.9 0 1,0 -1.7,0M560.3,51.8a0.7,1.1 0 1,0 1.3,0a0.7,1.1 0 1,0 -1.3,0M565.4,51.0a0.9,0.9 0 1,0 1.7,0a0.9,0.9 0 1,0 -1.7,0M568.3,50.2a0.7,1.1 0 1,0 1.3,0a0.7,1.1 0 1,0 -1.3,0M536.9,56.7a0.7,1.2 0 1,0 1.3,0a0.7,1.2 0 1,0 -1.3,0M540.6,57.2a0.8,0.9 0 1,0 1.7,0a0.8,0.9 0 1,0 -1.7,0M545.9,54.6a0.8,0.8 0 1,0 1.5,0a0.8,0.8 0 1,0 -1.5,0M551.5,55.9a0.7,1.0 0 1,0 1.3,0a0.7,1.0 0 1,0 -1.3,0M555.8,55.9a0.9,1.2 0 1,0 1.8,0a0.9,1.2 0 1,0 -1.8,0M560.8,55.6a0.9,1.1 0 1,0 1.7,0a0.9,1.1 0 1,0 -1.7,0M568.0,57.6a0.8,1.0 0 1,0 1.6,0a0.8,1.0 0 1,0 -1.6,0M572.2,57.4a0.8,1.0 0 1,0 1.7,0a0.8,1.0 0 1,0 -1.7,0M527.7,61.2a0.8,1.2 0 1,0 1.5,0a0.8,1.2 0 1,0 -1.5,0M531.6,59.4a0.7,1.0 0 1,0 1.5,0a0.7,1.0 0 1,0 -1.5,0M538.6,61.6a0.8,1.3 0 1,0 1.7,0a0.8,1.3 0 1,0 -1.7,0M543.9,60.0a0.7,1.0 0 1,0 1.5,0a0.7,1.0 0 1,0 -1.5,0M548.5,61.8a0.8,0.9 0 1,0 1.5,0a0.8,0.9 0 1,0 -1.5,0M554.4,62.3a0.7,1.2 0 1,0 1.5,0a0.7,1.2 0 1,0 -1.5,0M557.8,61.8a0.7,1.0 0 1,0 1.4,0a0.7,1.0 0 1,0 -1.4,0M562.8,61.3a0.7,1.1 0 1,0 1.4,0a0.7,1.1 0 1,0 -1.4,0M569.8,59.3a0.9,0.9 0 1,0 1.7,0a0.9,0.9 0 1,0 -1.7,0M517.7,65.2a0.8,0.9 0 1,0 1.6,0a0.8,0.9 0 1,0 -1.6,0M523.0,64.2a0.8,1.1 0 1,0 1.7,0a0.8,1.1 0 1,0 -1.7,0M531.2,64.1a0.7,0.9 0 1,0 1.4,0a0.7,0.9 0 1,0 -1.4,0M534.7,65.5a0.7,1.0 0 1,0 1.5,0a0.7,1.0 0 1,0 -1.5,0M540.6,63.8a0.9,1.2 0 1,0 1.8,0a0.9,1.2 0 1,0 -1.8,0M544.5,66.1a0.9,1.0 0 1,0 1.7,0a0.9,1.0 0 1,0 -1.7,0M550.9,64.0a0.8,0.9 0 1,0 1.5,0a0.8,0.9 0 1,0 -1.5,0M556.5,65.0a0.8,1.3 0 1,0 1.5,0a0.8,1.3 0 1,0 -1.5,0M513.3,69.7a0.7,1.0 0 1,0 1.3,0a0.7,1.0 0 1,0 -1.3,0M516.9,70.9a0.7,1.2 0 1,0 1.4,0a0.7,1.2 0 1,0 -1.4,0M523.2,70.9a0.7,1.0 0 1,0 1.5,0a0.7,1.0 0 1,0 -1.5,0M527.1,70.8a0.7,1.1 0 1,0 1.3,0a0.7,1.1 0 1,0 -1.3,0M531.6,70.5a0.8,1.2 0 1,0 1.6,0a0.8,1.2 0 1,0 -1.6,0M536.2,69.0a0.9,1.2 0 1,0 1.7,0a0.9,1.2 0 1,0 -1.7,0M542.2,69.5a0.7,0.9 0 1,0 1.4,0a0.7,0.9 0 1,0 -1.4,0M549.4,68.4a0.8,0.8 0 1,0 1.6,0a0.8,0.8 0 1,0 -1.6,0M504.5,76.3a0.9,1.1 0 1,0 1.8,0a0.9,1.1 0 1,0 -1.8,0M509.4,74.5a0.8,1.0 0 1,0 1.6,0a0.8,1.0 0 1,0 -1.6,0M514.0,74.6a0.7,1.1 0 1,0 1.3,0a0.7,1.1 0 1,0 -1.3,0M518.0,73.2a0.9,0.9 0 1,0 1.7,0a0.9,0.9 0 1,0 -1.7,0M524.1,73.5a0.7,1.1 0 1,0 1.3,0a0.7,1.1 0 1,0 -1.3,0M531.4,74.2a0.8,1.2 0 1,0 1.6,0a0.8,1.2 0 1,0 -1.6,0M536.7,74.9a0.8,1.3 0 1,0 1.5,0a0.8,1.3 0 1,0 -1.5,0M495.4,80.2a0.9,1.0 0 1,0 1.8,0a0.9,1.0 0 1,0 -1.8,0M502.3,79.7a0.8,1.1 0 1,0 1.6,0a0.8,1.1 0 1,0 -1.6,0M506.9,79.4a0.8,1.2 0 1,0 1.5,0a0.8,1.2 0 1,0 -1.5,0M510.1,79.1a0.8,1.2 0 1,0 1.7,0a0.8,1.2 0 1,0 -1.7,0M515.3,78.2a0.7,1.0 0 1,0 1.4,0a0.7,1.0 0 1,0 -1.4,0M523.7,78.9a0.8,1.1 0 1,0 1.6,0a0.8,1.1 0 1,0 -1.6,0M526.2,79.0a0.6,1.2 0 1,0 1.3,0a0.6,1.2 0 1,0 -1.3,0M492.9,83.7a0.8,0.9 0 1,0 1.5,0a0.8,0.9 0 1,0 -1.5,0M499.7,85.4a0.9,1.1 0 1,0 1.8,0a0.9,1.1 0 1,0 -1.8,0M503.1,83.9a0.9,1.2 0 1,0 1.7,0a0.9,1.2 0 1,0 -1.7,0M507.4,84.8a0.8,1.2 0 1,0 1.6,0a0.8,1.2 0 1,0 -1.6,0M514.3,82.7a0.7,1.0 0 1,0 1.3,0a0.7,1.0 0 1,0 -1.3,0M520.8,82.3a0.7,1.1 0 1,0 1.4,0a0.7,1.1 0 1,0 -1.4,0M488.8,90.0a0.7,0.8 0 1,0 1.4,0a0.7,0.8 0 1,0 -1.4,0M496.6,88.4a0.7,0.9 0 1,0 1.4,0a0.7,0.9 0 1,0 -1.4,0M502.5,90.2a0.8,1.0 0 1,0 1.6,0a0.8,1.0 0 1,0 -1.6,0M505.1,87.6a0.8,0.8 0 1,0 1.6,0a0.8,0.8 0 1,0 -1.6,0M510.4,88.9a0.8,0.9 0 1,0 1.6,0a0.8,0.9 0 1,0 -1.6,0M517.2,88.6a0.7,0.8 0 1,0 1.3,0a0.7,0.8 0 1,0 -1.3,0M483.3,93.4a0.7,1.0 0 1,0 1.4,0a0.7,1.0 0 1,0 -1.4,0M486.7,91.6a0.7,1.0 0 1,0 1.4,0a0.7,1.0 0 1,0 -1.4,0M493.9,92.9a0.7,1.2 0 1,0 1.4,0a0.7,1.2 0 1,0 -1.4,0M496.8,93.3a0.9,1.0 0 1,0 1.8,0a0.9,1.0 0 1,0 -1.8,0M502.8,92.3a0.7,1.3 0 1,0 1.3,0a0.7,1.3 0 1,0 -1.3,0M510.3,93.5a0.7,1.1 0 1,0 1.3,0a0.7,1.1 0 1,0 -1.3,0M514.9,94.2a0.9,1.0 0 1,0 1.7,0a0.9,1.0 0 1,0 -1.7,0M483.3,98.2a0.9,0.9 0 1,0 1.8,0a0.9,0.9 0 1,0 -1.8,0M491.0,98.4a0.9,1.2 0 1,0 1.7,0a0.9,1.2 0 1,0 -1.7,0M495.1,99.0a0.9,1.2 0 1,0 1.8,0a0.9,1.2 0 1,0 -1.8,0M499.2,96.4a0.8,1.0 0 1,0 1.5,0a0.8,1.0 0 1,0 -1.5,0M504.4,97.9a0.9,1.0 0 1,0 1.8,0a0.9,1.0 0 1,0 -1.8,0M511.6,96.8a0.7,0.8 0 1,0 1.4,0a0.7,0.8 0 1,0 -1.4,0M481.8,102.7a0.7,0.9 0 1,0 1.4,0a0.7,0.9 0 1,0 -1.4,0M488.3,101.9a0.9,1.0 0 1,0 1.8,0a0.9,1.0 0 1,0 -1.8,0M493.6,103.7a0.7,1.3 0 1,0 1.5,0a0.7,1.3 0 1,0 -1.5,0M497.7,102.4a0.8,1.0 0 1,0 1.7,0a0.8,1.0 0 1,0 -1.7,0M503.6,103.5a0.7,1.0 0 1,0 1.3,0a0.7,1.0 0 1,0 -1.3,0M508.1,101.6a0.7,1.3 0 1,0 1.4,0a0.7,1.3 0 1,0 -1.4,0M478.2,107.5a0.8,1.3 0 1,0 1.5,0a0.8,1.3 0 1,0 -1.5,0M485.0,107.8a0.7,0.8 0 1,0 1.4,0a0.7,0.8 0 1,0 -1.4,0M491.7,106.4a0.9,0.8 0 1,0 1.8,0a0.9,0.8 0 1,0 -1.8,0M496.7,106.0a0.9,1.1 0 1,0 1.7,0a0.9,1.1 0 1,0 -1.7,0M501.5,105.2a0.7,1.2 0 1,0 1.4,0a0.7,1.2 0 1,0 -1.4,0M507.3,106.8a0.8,1.3 0 1,0 1.5,0a0.8,1.3 0 1,0 -1.5,0M511.3,106.9a0.8,1.2 0 1,0 1.6,0a0.8,1.2 0 1,0 -1.6,0M476.4,112.3a0.9,1.0 0 1,0 1.8,0a0.9,1.0 0 1,0 -1.8,0M483.9,113.2a0.8,1.1 0 1,0 1.7,0a0.8,1.1 0 1,0 -1.7,0M487.3,112.1a0.8,0.8 0 1,0 1.7,0a0.8,0.8 0 1,0 -1.7,0M491.6,111.9a0.8,1.2 0 1,0 1.7,0a0.8,1.2 0 1,0 -1.7,0M499.6,112.9a0.7,0.9 0 1,0 1.4,0a0.7,0.9 0 1,0 -1.4,0M502.4,110.4a0.7,1.1 0 1,0 1.3,0a0.7,1.1 0 1,0 -1.3,0M510.3,112.2a0.7,1.2 0 1,0 1.3,0a0.7,1.2 0 1,0 -1.3,0M475.6,115.8a0.8,1.3 0 1,0 1.5,0a0.8,1.3 0 1,0 -1.5,0M479.3,117.2a0.9,1.0 0 1,0 1.7,0a0.9,1.0 0 1,0 -1.7,0M486.7,117.1a0.7,1.0 0 1,0 1.4,0a0.7,1.0 0 1,0 -1.4,0M490.9,117.3a0.8,1.2 0 1,0 1.6,0a0.8,1.2 0 1,0 -1.6,0M496.9,117.8a0.9,1.0 0 1,0 1.8,0a0.9,1.0 0 1,0 -1.8,0M501.1,115.8a0.6,1.1 0 1,0 1.3,0a0.6,1.1 0 1,0 -1.3,0M504.4,116.3a0.8,1.1 0 1,0 1.7,0a0.8,1.1 0 1,0 -1.7,0M478.5,121.7a0.9,1.2 0 1,0 1.8,0a0.9,1.2 0 1,0 -1.8,0M481.9,120.3a0.8,1.2 0 1,0 1.6,0a0.8,1.2 0 1,0 -1.6,0M487.5,121.1a0.7,1.2 0 1,0 1.3,0a0.7,1.2 0 1,0 -1.3,0M491.2,120.9a0.8,0.9 0 1,0 1.7,0a0.8,0.9 0 1,0 -1.7,0M499.8,119.3a0.7,1.1 0 1,0 1.4,0a0.7,1.1 0 1,0 -1.4,0M504.9,121.0a0.7,1.2 0 1,0 1.5,0a0.7,1.2 0 1,0 -1.5,0M475.1,124.9a0.7,1.0 0 1,0 1.4,0a0.7,1.0 0 1,0 -1.4,0M480.7,125.4a0.8,1.2 0 1,0 1.6,0a0.8,1.2 0 1,0 -1.6,0M485.5,127.1a0.7,1.2 0 1,0 1.5,0a0.7,1.2 0 1,0 -1.5,0M489.4,123.7a0.9,1.1 0 1,0 1.7,0a0.9,1.1 0 1,0 -1.7,0M496.8,125.5a0.9,1.2 0 1,0 1.8,0a0.9,1.2 0 1,0 -1.8,0M501.3,126.5a0.9,1.1 0 1,0 1.7,0a0.9,1.1 0 1,0 -1.7,0M487.1,129.2a0.7,0.9 0 1,0 1.3,0a0.7,0.9 0 1,0 -1.3,0M493.7,129.5a0.8,0.9 0 1,0 1.7,0a0.8,0.9 0 1,0 -1.7,0M503.0,128.4a0.8,1.0 0 1,0 1.7,0a0.8,1.0 0 1,0 -1.7,0" stroke="#000" stroke-width="1.0" fill="none"/>
<path d="M553.2,49.7h.01M537.1,59.6h.01M549.1,53.8h.01M562.0,53.6h.01M574.2,53.1h.01M521.0,69.1h.01M529.1,67.6h.01M548.1,69.2h.01M553.7,66.1h.01M498.2,82.0h.01M514.0,76.1h.01M526.0,73.5h.01M488.3,94.1h.01M497.2,83.8h.01M504.6,90.6h.01M516.5,93.1h.01M493.5,101.3h.01M499.1,98.8h.01M486.8,108.7h.01M492.7,112.5h.01M510.7,110.3h.01M483.6,124.2h.01M493.5,118.7h.01M502.0,121.0h.01" stroke="#000" stroke-width="1.00" stroke-linecap="round" fill="none"/>
<path d="M475.6,131.4h.01M481.5,131.7h.01M488.4,132.4h.01M493.6,133.0h.01M496.0,133.1h.01M476.5,135.9h.01M480.0,134.8h.01M483.9,134.8h.01M490.1,134.9h.01M494.9,136.8h.01M497.0,133.1h.01M472.1,139.8h.01M475.3,137.2h.01M481.1,141.0h.01M487.9,138.3h.01M472.9,142.9h.01M479.9,142.4h.01M478.8,148.1h.01M474.1,152.7h.01M472.2,157.7h.01M468.6,161.0h.01M475.3,158.4h.01M468.8,164.3h.01M470.5,163.8h.01M464.5,168.8h.01M469.5,167.9h.01M476.6,169.4h.01M464.8,173.0h.01M466.9,173.0h.01M474.3,173.6h.01M466.4,177.7h.01M471.5,177.8h.01M474.3,178.9h.01M461.7,181.6h.01M467.0,181.6h.01M474.1,180.7h.01M475.5,179.0h.01M459.6,185.2h.01M465.5,184.1h.01M470.6,185.9h.01M476.9,183.5h.01M464.3,190.0h.01M468.0,189.1h.01M473.8,189.6h.01M458.8,193.7h.01M466.0,193.8h.01M469.3,191.6h.01M458.9,198.7h.01M462.4,199.7h.01M467.3,197.7h.01M473.3,196.3h.01M461.4,202.8h.01M463.6,200.0h.01M470.4,200.2h.01M464.6,205.6h.01M466.0,208.1h.01" stroke="#000" stroke-width="0.84" stroke-linecap="round" fill="none"/>
<path d="M486.9,151.9h.01M484.0,153.2h.01M481.7,160.2h.01M485.8,158.3h.01M481.6,161.9h.01M484.5,163.3h.01M481.6,168.3h.01" stroke="#000" stroke-width="0.84" stroke-linecap="round" fill="none"/>
<path d="M628.3,9.6h.01M635.6,8.4h.01M627.0,13.2h.01M632.8,11.8h.01M634.5,12.0h.01M626.2,15.7h.01M630.4,15.3h.01M635.8,16.8h.01M620.0,21.3h.01M624.2,19.3h.01M629.5,21.9h.01M631.7,21.9h.01M619.6,24.4h.01M625.3,24.8h.01M628.9,23.9h.01M632.9,22.1h.01M617.9,27.3h.01M624.9,28.9h.01M630.9,25.9h.01M613.8,30.2h.01M617.6,31.0h.01M620.0,32.3h.01M624.4,32.4h.01M610.4,35.2h.01M614.6,34.0h.01M618.0,35.9h.01M623.2,33.6h.01M613.8,39.8h.01M616.9,38.3h.01M619.9,37.7h.01M613.3,42.4h.01" stroke="#000" stroke-width="1.00" stroke-linecap="round" fill="none"/>
<path d="M606.2,41.2a0.8,1.1 0 1,0 1.6,0a0.8,1.1 0 1,0 -1.6,0M594.2,45.5a0.9,1.0 0 1,0 1.8,0a0.9,1.0 0 1,0 -1.8,0M599.7,43.4a0.9,1.2 0 1,0 1.8,0a0.9,1.2 0 1,0 -1.8,0M604.1,45.2a0.7,1.0 0 1,0 1.4,0a0.7,1.0 0 1,0 -1.4,0M607.6,45.8a0.8,0.9 0 1,0 1.7,0a0.8,0.9 0 1,0 -1.7,0M611.6,43.4a0.7,0.9 0 1,0 1.4,0a0.7,0.9 0 1,0 -1.4,0M588.8,47.9a0.7,1.2 0 1,0 1.3,0a0.7,1.2 0 1,0 -1.3,0M592.6,48.0a0.9,1.2 0 1,0 1.9,0a0.9,1.2 0 1,0 -1.9,0M598.5,47.7a0.8,1.2 0 1,0 1.6,0a0.8,1.2 0 1,0 -1.6,0M602.3,48.5a0.8,1.0 0 1,0 1.7,0a0.8,1.0 0 1,0 -1.7,0M605.6,49.5a0.8,0.9 0 1,0 1.6,0a0.8,0.9 0 1,0 -1.6,0M610.0,47.7a0.7,1.0 0 1,0 1.4,0a0.7,1.0 0 1,0 -1.4,0M586.0,52.3a0.7,1.1 0 1,0 1.5,0a0.7,1.1 0 1,0 -1.5,0M591.3,50.7a0.7,0.9 0 1,0 1.4,0a0.7,0.9 0 1,0 -1.4,0M593.8,53.0a0.9,1.2 0 1,0 1.8,0a0.9,1.2 0 1,0 -1.8,0M600.6,50.9a0.9,1.2 0 1,0 1.8,0a0.9,1.2 0 1,0 -1.8,0M603.3,51.9a0.7,1.0 0 1,0 1.4,0a0.7,1.0 0 1,0 -1.4,0M584.8,57.1a0.9,1.2 0 1,0 1.8,0a0.9,1.2 0 1,0 -1.8,0M588.3,57.3a0.7,1.0 0 1,0 1.4,0a0.7,1.0 0 1,0 -1.4,0M594.2,55.3a0.8,0.8 0 1,0 1.6,0a0.8,0.8 0 1,0 -1.6,0M598.3,57.2a0.7,1.2 0 1,0 1.4,0a0.7,1.2 0 1,0 -1.4,0M600.9,55.6a0.8,1.0 0 1,0 1.7,0a0.8,1.0 0 1,0 -1.7,0M581.3,60.9a0.8,1.1 0 1,0 1.6,0a0.8,1.1 0 1,0 -1.6,0M587.3,60.0a0.7,0.8 0 1,0 1.5,0a0.7,0.8 0 1,0 -1.5,0M590.2,58.3a0.9,1.2 0 1,0 1.7,0a0.9,1.2 0 1,0 -1.7,0M594.1,60.7a0.8,1.2 0 1,0 1.5,0a0.8,1.2 0 1,0 -1.5,0M600.8,61.1a0.9,1.1 0 1,0 1.8,0a0.9,1.1 0 1,0 -1.8,0M583.4,62.7a0.9,1.3 0 1,0 1.8,0a0.9,1.3 0 1,0 -1.8,0M589.0,63.1a0.6,1.2 0 1,0 1.3,0a0.6,1.2 0 1,0 -1.3,0M592.2,64.7a0.8,1.2 0 1,0 1.5,0a0.8,1.2 0 1,0 -1.5,0M597.0,62.2a0.9,0.9 0 1,0 1.7,0a0.9,0.9 0 1,0 -1.7,0M583.4,68.3a0.8,0.8 0 1,0 1.6,0a0.8,0.8 0 1,0 -1.6,0M587.6,68.8a0.9,1.0 0 1,0 1.7,0a0.9,1.0 0 1,0 -1.7,0M590.5,67.6a0.7,0.9 0 1,0 1.5,0a0.7,0.9 0 1,0 -1.5,0M594.9,68.3a0.9,1.1 0 1,0 1.8,0a0.9,1.1 0 1,0 -1.8,0M579.9,71.5a0.7,1.2 0 1,0 1.5,0a0.7,1.2 0 1,0 -1.5,0M585.3,70.8a0.7,1.2 0 1,0 1.4,0a0.7,1.2 0 1,0 -1.4,0M588.9,72.6a0.8,1.2 0 1,0 1.6,0a0.8,1.2 0 1,0 -1.6,0M577.7,74.1a0.8,1.3 0 1,0 1.6,0a0.8,1.3 0 1,0 -1.6,0M581.3,74.5a0.8,1.0 0 1,0 1.7,0a0.8,1.0 0 1,0 -1.7,0M586.0,74.8a0.8,1.1 0 1,0 1.6,0a0.8,1.1 0 1,0 -1.6,0M579.6,79.1a0.7,1.0 0 1,0 1.4,0a0.7,1.0 0 1,0 -1.4,0M583.0,79.7a0.9,1.2 0 1,0 1.8,0a0.9,1.2 0 1,0 -1.8,0M576.8,84.0a0.9,1.1 0 1,0 1.8,0a0.9,1.1 0 1,0 -1.8,0M580.7,82.5a0.8,1.0 0 1,0 1.6,0a0.8,1.0 0 1,0 -1.6,0M575.6,86.3a0.8,1.1 0 1,0 1.7,0a0.8,1.1 0 1,0 -1.7,0M578.4,85.3a0.9,1.2 0 1,0 1.8,0a0.9,1.2 0 1,0 -1.8,0M583.4,86.9a0.8,0.9 0 1,0 1.5,0a0.8,0.9 0 1,0 -1.5,0M577.8,90.6a0.7,1.2 0 1,0 1.3,0a0.7,1.2 0 1,0 -1.3,0M582.5,90.3a0.8,1.0 0 1,0 1.5,0a0.8,1.0 0 1,0 -1.5,0M574.8,94.2a0.7,1.0 0 1,0 1.3,0a0.7,1.0 0 1,0 -1.3,0M579.9,93.1a0.9,0.9 0 1,0 1.8,0a0.9,0.9 0 1,0 -1.8,0M584.6,94.8a0.9,1.2 0 1,0 1.7,0a0.9,1.2 0 1,0 -1.7,0M576.9,97.0a0.8,1.1 0 1,0 1.7,0a0.8,1.1 0 1,0 -1.7,0M582.5,98.8a0.7,1.1 0 1,0 1.4,0a0.7,1.1 0 1,0 -1.4,0M586.1,96.8a0.8,1.3 0 1,0 1.6,0a0.8,1.3 0 1,0 -1.6,0M584.3,101.2a0.8,1.0 0 1,0 1.6,0a0.8,1.0 0 1,0 -1.6,0M587.1,102.1a0.9,1.1 0 1,0 1.8,0a0.9,1.1 0 1,0 -1.8,0M590.1,106.9a0.7,1.1 0 1,0 1.5,0a0.7,1.1 0 1,0 -1.5,0" stroke="#000" stroke-width="1.0" fill="none"/>
<path d="M604.9,41.1h.01M599.1,43.9h.01M603.6,42.7h.01M607.5,43.3h.01M610.5,44.2h.01M584.2,49.6h.01M593.2,48.5h.01M596.7,47.4h.01M600.7,46.8h.01M606.6,49.1h.01M608.9,48.0h.01M583.9,50.5h.01M585.1,52.6h.01M589.3,52.1h.01M593.8,52.2h.01M597.5,49.9h.01M604.8,51.5h.01M607.4,53.2h.01M583.5,54.3h.01M587.8,53.9h.01M594.3,54.6h.01M597.3,56.2h.01M602.0,53.8h.01M584.1,59.8h.01M587.9,60.5h.01M590.2,60.3h.01M593.1,59.9h.01M597.6,58.7h.01M603.2,57.1h.01M586.2,61.5h.01M587.9,62.2h.01M594.4,63.5h.01M596.7,63.0h.01M599.5,60.7h.01M582.7,66.6h.01M585.8,66.1h.01M590.2,66.3h.01M593.5,66.5h.01M582.1,69.5h.01M584.7,69.1h.01M587.9,69.7h.01M594.7,68.0h.01M580.6,75.0h.01M585.5,75.1h.01M590.5,73.7h.01M578.8,77.2h.01M583.6,75.7h.01M577.9,80.2h.01M583.3,79.3h.01M587.4,79.6h.01M576.8,84.0h.01M578.9,85.6h.01M585.3,83.3h.01M578.2,89.8h.01M584.2,87.5h.01M577.9,91.7h.01M581.8,90.2h.01M585.4,92.0h.01M579.3,97.0h.01M583.1,94.0h.01M586.3,97.1h.01M575.5,98.9h.01M578.8,98.4h.01M584.5,97.3h.01M588.7,100.2h.01M587.3,101.0h.01M589.9,104.9h.01M592.0,107.0h.01" stroke="#000" stroke-width="1.00" stroke-linecap="round" fill="none"/>
<path d="M586.1,98.3h.01M582.0,101.0h.01M583.6,101.2h.01M585.9,100.1h.01M589.3,101.5h.01M580.7,103.3h.01M581.3,103.3h.01M584.8,102.0h.01M588.7,103.1h.01M584.0,105.4h.01M585.3,104.4h.01M589.9,103.9h.01M591.1,104.0h.01M584.0,106.4h.01M588.2,108.2h.01M590.9,108.3h.01M593.6,108.1h.01M589.2,109.2h.01M590.9,109.5h.01M595.3,108.9h.01M597.3,110.5h.01M590.8,111.6h.01M592.3,112.8h.01M596.6,112.6h.01M598.9,111.3h.01M601.3,112.9h.01M595.1,114.8h.01M597.7,114.8h.01M600.0,113.7h.01M603.7,114.5h.01M598.3,116.7h.01M600.2,116.4h.01M604.0,115.7h.01M606.7,117.8h.01M599.7,118.0h.01M601.8,119.9h.01M605.7,118.6h.01M607.2,119.5h.01M607.4,121.4h.01M608.7,120.4h.01M608.3,124.7h.01M610.0,123.9h.01M614.5,124.0h.01M611.3,125.9h.01M615.3,127.2h.01M637.0,125.0h.01M617.3,129.2h.01M618.5,129.3h.01M626.3,129.4h.01" stroke="#000" stroke-width="1.10" stroke-linecap="round" fill="none"/>
<path d="M575.8,54.1h.01M575.7,55.1h.01M577.9,56.9h.01M572.1,59.1h.01M575.6,60.2h.01M577.7,59.1h.01M571.9,61.7h.01M574.8,62.4h.01M575.8,61.0h.01M570.6,63.4h.01M572.5,63.4h.01M575.5,64.4h.01M577.7,64.7h.01M574.5,65.7h.01M576.7,67.5h.01M572.9,69.4h.01M575.4,69.3h.01M573.6,72.0h.01M574.3,75.6h.01M571.9,84.1h.01M571.0,86.2h.01M569.7,96.0h.01M569.9,100.1h.01M571.8,101.2h.01M573.3,104.5h.01M574.8,104.9h.01M576.2,106.6h.01M578.2,109.3h.01M581.8,110.1h.01M579.1,112.4h.01M581.6,113.0h.01M583.1,115.1h.01M585.3,112.9h.01M582.3,116.2h.01M585.5,117.1h.01M587.6,117.5h.01M590.9,117.2h.01M585.8,118.4h.01M588.2,118.8h.01M590.0,119.6h.01M586.5,120.3h.01M589.2,121.6h.01M592.8,120.3h.01M594.8,121.8h.01M590.7,123.1h.01M594.6,123.9h.01M595.8,122.3h.01M597.9,124.0h.01M595.5,125.3h.01M596.9,125.8h.01M599.5,125.3h.01M602.0,125.2h.01M596.8,127.7h.01M600.0,127.2h.01M601.1,127.1h.01M604.3,127.6h.01M605.8,127.6h.01M600.0,131.0h.01M602.7,129.6h.01M604.3,129.6h.01M609.0,129.7h.01M611.3,130.8h.01M604.0,132.6h.01M607.6,132.1h.01M610.1,131.7h.01M611.1,133.0h.01M614.6,133.3h.01M618.8,133.1h.01M568.1,134.3h.01M570.8,134.0h.01M573.8,133.5h.01M605.9,133.6h.01M607.9,133.7h.01M611.5,135.1h.01M613.0,135.1h.01M615.9,134.8h.01M617.8,135.1h.01M621.3,135.6h.01M623.0,134.2h.01M626.9,133.9h.01M567.6,137.2h.01M569.2,136.4h.01M573.0,136.6h.01M575.5,137.5h.01M577.2,137.2h.01M607.2,136.3h.01M610.0,137.7h.01M612.6,135.7h.01M614.3,136.8h.01M616.8,136.0h.01M619.9,135.8h.01M621.5,136.5h.01M626.1,136.4h.01M565.8,139.9h.01M568.7,139.1h.01M571.5,139.6h.01M573.9,139.0h.01M576.2,138.6h.01M611.6,139.6h.01M612.1,139.2h.01M615.1,138.3h.01M618.0,138.4h.01M620.5,138.3h.01M623.2,139.2h.01M567.6,142.2h.01M571.3,141.8h.01M571.9,141.6h.01M574.6,141.0h.01M577.2,140.8h.01M611.0,141.2h.01M614.7,141.4h.01M617.9,140.1h.01M620.2,142.0h.01M622.4,140.6h.01M560.6,144.6h.01M563.7,143.5h.01M567.2,143.0h.01M570.1,143.0h.01M570.5,143.0h.01M573.9,143.7h.01M575.8,144.4h.01M612.5,143.2h.01M616.9,144.0h.01M617.7,144.3h.01M622.0,143.1h.01M560.1,144.6h.01M561.6,144.7h.01M564.6,145.6h.01M567.0,146.2h.01M570.9,146.5h.01M573.0,146.3h.01M576.2,146.3h.01M577.7,145.9h.01M610.0,146.8h.01M611.7,145.0h.01M613.7,145.3h.01M616.8,146.6h.01M619.8,145.7h.01M622.6,145.0h.01M558.2,148.6h.01M562.0,148.3h.01M562.7,147.5h.01M566.1,147.9h.01M569.2,147.3h.01M570.9,146.9h.01M574.0,147.1h.01M576.2,146.9h.01M580.2,147.4h.01M610.2,147.2h.01M613.3,147.3h.01M616.6,147.0h.01M618.1,148.6h.01M621.8,147.8h.01M558.0,150.0h.01M560.6,150.5h.01M561.3,149.9h.01M565.3,149.7h.01M566.8,151.4h.01M569.9,150.6h.01M572.8,151.4h.01M574.9,149.2h.01M578.4,150.7h.01M581.5,149.4h.01M582.5,150.2h.01M605.9,150.2h.01M609.0,149.3h.01M612.7,150.9h.01M614.7,150.1h.01M617.2,150.3h.01M619.9,149.8h.01M556.6,151.8h.01M557.9,152.5h.01M560.1,152.4h.01M562.9,151.8h.01M566.1,153.5h.01M569.3,152.0h.01M571.9,152.6h.01M573.0,152.4h.01M577.3,153.2h.01M580.5,151.4h.01M582.0,152.2h.01M584.5,153.3h.01M603.0,153.4h.01M606.2,152.2h.01M607.7,152.6h.01M610.4,153.6h.01M614.0,153.4h.01M617.0,151.6h.01M619.4,152.2h.01M620.4,152.8h.01M557.7,155.7h.01M559.6,154.2h.01M564.9,153.6h.01M569.6,154.7h.01M573.5,154.4h.01M574.6,155.2h.01M578.5,155.0h.01M581.7,154.5h.01M583.3,154.7h.01M586.7,154.4h.01M587.9,154.5h.01M591.9,155.4h.01M593.0,155.5h.01M599.6,155.2h.01M601.8,154.2h.01M602.9,155.7h.01M606.3,155.5h.01M610.1,155.6h.01M612.4,155.3h.01M615.2,155.8h.01M618.1,155.7h.01M619.3,155.8h.01M621.3,154.1h.01M572.1,157.7h.01M574.0,156.7h.01M576.9,157.9h.01M578.6,157.5h.01M581.9,158.1h.01M585.1,158.0h.01M587.0,157.0h.01M589.2,156.4h.01M592.0,156.4h.01M595.3,157.2h.01M598.2,157.6h.01M601.3,157.1h.01M603.1,157.1h.01M605.3,156.7h.01M607.6,156.7h.01M610.6,156.9h.01M613.3,157.4h.01M616.9,157.2h.01M619.5,156.6h.01M621.3,157.2h.01M576.0,160.1h.01M579.2,159.4h.01M579.6,159.7h.01M583.0,159.6h.01M585.1,159.1h.01M587.9,159.7h.01M592.1,159.0h.01M593.7,159.6h.01M596.9,159.0h.01M598.4,159.7h.01M601.1,159.3h.01M604.4,159.4h.01M607.8,159.0h.01M608.6,159.1h.01M612.8,160.1h.01M613.5,158.5h.01M616.5,160.0h.01M620.1,158.5h.01M623.0,160.2h.01M577.2,160.7h.01M580.2,160.5h.01M582.9,162.3h.01M584.6,162.5h.01M587.9,162.0h.01M589.2,160.6h.01M591.5,160.6h.01M595.4,162.0h.01M598.6,161.3h.01M599.9,162.4h.01M603.5,162.7h.01M604.3,162.6h.01M607.8,162.3h.01M609.9,161.7h.01M613.8,162.1h.01M616.3,160.6h.01M619.4,160.5h.01M621.7,161.7h.01M623.9,160.9h.01M579.7,164.7h.01M584.2,164.5h.01M585.9,162.9h.01M588.5,164.8h.01M591.6,162.7h.01M594.8,164.9h.01M596.5,162.7h.01M599.4,164.1h.01M600.3,163.7h.01M603.0,162.8h.01M607.1,164.5h.01M608.9,163.0h.01M611.4,163.2h.01M614.6,163.3h.01M618.1,162.7h.01M619.1,164.1h.01M622.2,162.9h.01M624.6,163.3h.01M582.8,166.3h.01M585.0,167.2h.01M586.5,165.9h.01M589.0,167.0h.01M592.6,167.0h.01M595.4,165.7h.01M598.1,165.6h.01M600.2,166.4h.01M603.4,165.5h.01M606.0,166.2h.01M608.3,165.2h.01M610.7,165.1h.01M613.5,166.8h.01M615.5,165.9h.01M618.7,166.2h.01M622.1,166.9h.01M624.0,165.7h.01M625.2,166.5h.01M586.2,168.4h.01M588.4,169.1h.01M591.7,167.9h.01M593.3,168.2h.01M595.3,168.2h.01M598.0,168.8h.01M601.1,168.0h.01M603.4,167.8h.01M606.1,169.3h.01M609.2,168.5h.01M611.5,169.4h.01M614.7,167.6h.01M617.5,167.2h.01M620.9,168.9h.01M621.6,168.2h.01M625.9,169.0h.01M584.3,169.8h.01M587.5,171.4h.01M589.2,170.8h.01M592.1,169.9h.01M594.0,169.5h.01M598.2,169.8h.01M599.7,170.6h.01M602.1,170.8h.01M605.3,170.0h.01M608.4,171.0h.01M611.7,170.2h.01M613.8,170.9h.01M616.0,169.5h.01M618.0,170.5h.01M619.9,169.7h.01M624.4,169.7h.01M626.3,170.0h.01M628.9,170.4h.01M590.4,172.1h.01M593.8,171.8h.01M596.1,172.2h.01M599.7,173.0h.01M601.5,172.8h.01M603.0,173.7h.01M607.7,171.7h.01M609.5,173.6h.01M612.7,174.0h.01M615.4,173.8h.01M616.3,174.0h.01M620.8,173.2h.01M623.2,172.3h.01M624.7,172.0h.01M627.4,174.0h.01M591.6,174.8h.01M595.1,175.5h.01M596.8,174.6h.01M600.8,176.2h.01M602.7,176.2h.01M607.3,174.9h.01M614.0,174.3h.01M616.2,174.0h.01M618.0,174.1h.01M621.0,174.3h.01M624.0,174.9h.01M626.9,174.7h.01M629.9,174.3h.01M630.4,175.1h.01M594.8,178.5h.01M595.5,178.1h.01M599.1,177.1h.01M614.7,176.8h.01M617.5,177.7h.01M620.3,178.2h.01M623.4,176.5h.01M624.3,177.4h.01M628.5,177.2h.01M629.4,177.5h.01M632.3,176.4h.01M594.5,178.7h.01M616.6,179.3h.01M618.5,179.4h.01M620.2,180.2h.01M622.4,180.6h.01M625.1,178.9h.01M629.4,179.5h.01M630.9,179.6h.01M618.9,181.3h.01M622.9,182.9h.01M624.1,183.0h.01M627.5,181.1h.01M630.2,181.3h.01M633.0,182.2h.01M621.8,183.4h.01M624.7,184.3h.01M625.5,185.2h.01M629.5,184.7h.01M631.2,183.6h.01M634.3,185.0h.01M623.8,186.4h.01M627.2,186.3h.01M629.7,187.3h.01M632.4,185.5h.01M634.7,187.2h.01M625.1,188.3h.01M629.0,189.4h.01M632.1,188.6h.01M634.3,187.6h.01M637.6,189.1h.01M630.7,191.1h.01M632.4,191.8h.01M635.2,190.8h.01M638.1,189.9h.01M631.6,193.2h.01M633.4,193.3h.01M635.4,193.8h.01M634.7,195.6h.01M638.5,195.1h.01M637.0,196.9h.01" stroke="#000" stroke-width="1.20" stroke-linecap="round" fill="none"/>
<path d="M616.8,141.8a0.8,1.1 0 1,0 1.5,0a0.8,1.1 0 1,0 -1.5,0M612.7,145.5a1.0,1.4 0 1,0 2.0,0a1.0,1.4 0 1,0 -2.0,0M610.2,149.5a0.9,1.3 0 1,0 1.8,0a0.9,1.3 0 1,0 -1.8,0M617.2,150.7a0.9,1.3 0 1,0 1.8,0a0.9,1.3 0 1,0 -1.8,0M598.5,155.4a0.8,1.1 0 1,0 1.7,0a0.8,1.1 0 1,0 -1.7,0M601.9,155.7a1.1,1.3 0 1,0 2.1,0a1.1,1.3 0 1,0 -2.1,0M609.3,154.7a0.9,1.1 0 1,0 1.7,0a0.9,1.1 0 1,0 -1.7,0M613.3,155.2a0.9,1.2 0 1,0 1.7,0a0.9,1.2 0 1,0 -1.7,0M617.9,155.2a0.8,1.2 0 1,0 1.6,0a0.8,1.2 0 1,0 -1.6,0M589.4,158.6a0.9,1.2 0 1,0 1.7,0a0.9,1.2 0 1,0 -1.7,0M594.0,159.1a0.9,1.0 0 1,0 1.8,0a0.9,1.0 0 1,0 -1.8,0M598.6,158.3a1.1,1.1 0 1,0 2.1,0a1.1,1.1 0 1,0 -2.1,0M606.0,158.0a1.0,1.5 0 1,0 2.0,0a1.0,1.5 0 1,0 -2.0,0M612.6,159.2a0.9,1.1 0 1,0 1.8,0a0.9,1.1 0 1,0 -1.8,0M615.9,158.0a1.0,1.5 0 1,0 2.0,0a1.0,1.5 0 1,0 -2.0,0M590.5,163.2a0.9,1.3 0 1,0 1.9,0a0.9,1.3 0 1,0 -1.9,0M599.1,165.5a0.8,1.1 0 1,0 1.6,0a0.8,1.1 0 1,0 -1.6,0M604.3,165.6a0.9,1.3 0 1,0 1.8,0a0.9,1.3 0 1,0 -1.8,0M609.1,165.6a0.9,1.4 0 1,0 1.8,0a0.9,1.4 0 1,0 -1.8,0M614.2,163.6a1.0,1.1 0 1,0 2.1,0a1.0,1.1 0 1,0 -2.1,0M618.1,164.5a0.9,1.0 0 1,0 1.9,0a0.9,1.0 0 1,0 -1.9,0M595.3,170.5a0.9,1.3 0 1,0 1.7,0a0.9,1.3 0 1,0 -1.7,0M600.8,170.0a1.0,1.1 0 1,0 2.1,0a1.0,1.1 0 1,0 -2.1,0M606.8,168.9a1.0,1.3 0 1,0 2.1,0a1.0,1.3 0 1,0 -2.1,0M612.3,168.2a1.0,1.0 0 1,0 2.1,0a1.0,1.0 0 1,0 -2.1,0M617.8,168.5a0.9,1.0 0 1,0 1.9,0a0.9,1.0 0 1,0 -1.9,0M620.9,169.9a1.0,1.3 0 1,0 2.0,0a1.0,1.3 0 1,0 -2.0,0M597.3,172.6a0.8,1.5 0 1,0 1.7,0a0.8,1.5 0 1,0 -1.7,0M603.9,174.1a1.1,1.2 0 1,0 2.1,0a1.1,1.2 0 1,0 -2.1,0M620.7,172.2a0.8,1.4 0 1,0 1.7,0a0.8,1.4 0 1,0 -1.7,0M623.2,174.8a0.9,1.4 0 1,0 1.7,0a0.9,1.4 0 1,0 -1.7,0" stroke="#000" stroke-width="0.8" fill="none"/>
<path d="M553.5,147.5l-1.8,1.3M551.2,149.3l-1.9,1.2M551.8,148.4l1.2,1.8M553.3,148.8l1.6,1.6M553.9,149.2l1.5,1.6M551.6,150.3l-1.8,1.2M552.9,149.4l0.2,2.2M554.4,150.0l-1.1,1.9M550.4,152.2l-1.2,1.9M553.2,152.5l-1.8,1.3M553.6,151.3l-0.3,2.2M554.3,151.7l2.2,0.2M549.8,152.6l-1.1,1.9M549.8,152.9l1.6,1.5M553.1,153.1l-2.0,1.0M554.1,153.4l-0.6,2.1M557.0,153.0l-1.2,1.8M549.7,154.1l-1.2,1.8M551.3,154.7l-2.0,1.0M553.6,154.4l-1.8,1.2M554.0,154.7l-2.1,0.6M557.0,155.0l-1.9,1.1M556.6,154.6l1.5,1.6M548.5,156.3l-1.5,1.6M549.4,156.6l1.0,2.0M552.1,156.6l-1.6,1.5M552.5,155.3l-0.4,2.2M555.4,155.1l-0.5,2.1M555.1,156.2l2.1,0.6M546.5,157.1l1.8,1.2M548.0,158.6l2.0,0.9M549.1,158.5l2.1,0.7M553.1,157.5l-2.0,0.9M554.7,157.5l-2.1,0.6M554.6,156.7l1.0,2.0M556.4,157.9l0.3,2.2M547.9,158.5l-0.5,2.1M550.0,158.7l-1.3,1.8M550.8,158.8l2.1,0.6M553.4,159.3l-2.2,0.2M553.4,159.6l2.2,0.2M554.6,159.6l2.1,0.8M547.3,160.5l-1.4,1.7M547.6,159.7l1.1,1.9M550.4,160.1l-0.9,2.0M552.6,160.1l-0.4,2.2M554.2,159.6l0.1,2.2M555.1,159.7l-0.1,2.2M558.4,160.2l-1.8,1.2M547.7,161.8l0.6,2.1M549.9,162.7l-1.6,1.5M551.4,161.2l-0.6,2.1M553.9,162.4l-2.1,0.8M552.8,161.7l2.1,0.7M555.5,162.2l1.3,1.8M547.9,164.2l2.2,0.2M549.8,164.0l2.2,0.2M551.9,162.4l-0.3,2.2M553.3,163.6l0.3,2.2M554.8,163.6l1.8,1.2M556.0,163.9l1.9,1.0M547.3,164.5l1.8,1.3M549.8,165.4l-2.1,0.7M551.5,164.5l-0.4,2.2M552.4,165.4l0.6,2.1M555.5,165.4l-0.5,2.1M555.5,164.4l0.5,2.2M551.0,165.7l0.1,2.2M550.6,166.2l2.1,0.5M555.3,166.8l-2.2,0.1M552.7,167.2l-0.6,2.1M554.5,167.8l-1.4,1.7" stroke="#000" stroke-width="0.95" fill="none"/>
<path d="M551.5,148.6h.01M550.6,149.0h.01M552.3,149.0h.01M553.8,150.1h.01M549.3,150.8h.01M552.5,152.0h.01M553.1,152.0h.01M554.7,151.6h.01M548.9,153.4h.01M550.6,153.6h.01M553.3,152.4h.01M554.1,152.1h.01M556.2,152.2h.01M547.9,154.2h.01M550.5,155.1h.01M551.5,154.7h.01M552.9,153.9h.01M556.0,153.9h.01M548.4,157.0h.01M550.3,156.5h.01M552.2,157.0h.01M555.2,156.3h.01M557.2,156.7h.01M547.2,157.2h.01M550.4,158.7h.01M551.6,158.6h.01M554.3,157.6h.01M555.9,158.4h.01M557.7,157.5h.01M548.5,159.6h.01M550.5,159.4h.01M552.3,159.0h.01M554.2,159.9h.01M556.1,160.2h.01M546.6,161.2h.01M547.6,161.5h.01M550.5,161.8h.01M551.2,160.7h.01M552.8,162.0h.01M555.1,161.0h.01M547.3,162.1h.01M548.7,162.1h.01M551.3,162.5h.01M553.2,163.3h.01M553.9,162.5h.01M557.0,163.2h.01M547.3,164.3h.01M549.8,164.8h.01M552.3,164.9h.01M553.7,164.6h.01M555.7,163.8h.01M556.6,164.6h.01M548.4,165.9h.01M550.3,166.4h.01M553.2,165.5h.01M554.4,166.5h.01M552.4,168.0h.01M553.0,167.6h.01" stroke="#000" stroke-width="1.20" stroke-linecap="round" fill="none"/>
<path d="M44.9,293.8l-2.5,1.6M39.4,295.1l-0.5,3.0M43.3,295.5l-2.0,2.2M41.5,296.1l3.0,0.1M34.0,297.5l0.2,3.0M36.9,298.0l-2.9,0.9M38.9,297.2l0.1,3.0M41.2,297.7l-1.7,2.5M42.9,296.6l-0.3,3.0M46.6,297.0l-2.9,0.6M45.6,297.7l2.9,0.7M29.3,299.8l1.9,2.3M31.3,298.7l2.6,1.5M35.4,300.0l-2.8,1.2M38.0,300.8l-3.0,0.2M37.9,298.3l2.5,1.7M41.1,299.3l1.9,2.3M43.1,297.9l2.1,2.1M26.6,300.3l-1.0,2.8M29.4,300.5l-1.8,2.4M30.5,300.4l2.1,2.2M35.7,300.4l-2.6,1.6M35.1,301.0l0.5,3.0M38.4,300.1l0.0,3.0M15.9,303.4l1.2,2.7M20.7,302.2l0.4,3.0M21.7,303.3l3.0,0.3M23.4,304.0l3.0,0.4M28.4,303.3l-3.0,0.3M28.3,303.2l1.8,2.4M31.0,302.2l1.4,2.7M16.4,305.5l-3.0,0.2M17.0,304.4l1.7,2.5M17.7,305.5l2.9,0.9M23.2,304.5l-2.8,1.2M24.8,304.4l0.9,2.9M27.0,303.9l-1.3,2.7M27.3,304.1l1.8,2.4M12.4,308.3l2.8,1.2M15.8,306.6l2.3,1.9M19.2,307.0l-2.2,2.0M20.8,307.1l-0.4,3.0M16.0,308.9l-1.5,2.6M18.7,308.2l-2.0,2.3M19.1,307.6l-0.7,2.9" stroke="#000" stroke-width="1.0" fill="none"/>
<path d="M38.0,297.5h.01M41.7,296.8h.01M44.6,297.4h.01M34.9,299.6h.01M35.7,298.4h.01M39.5,298.4h.01M41.7,299.9h.01M45.8,298.3h.01M27.6,301.1h.01M28.1,301.9h.01M32.8,301.1h.01M34.7,301.0h.01M19.3,305.6h.01M21.3,305.2h.01M24.3,305.7h.01M26.8,303.6h.01M31.3,304.0h.01M18.5,306.5h.01M21.1,306.5h.01" stroke="#000" stroke-width="1.20" stroke-linecap="round" fill="none"/>
<path d="M47.4,299.0l0.1,3.0M47.5,301.0l-2.6,1.5M46.1,300.9l1.7,2.5M43.9,303.8l2.2,2.0M46.8,302.0l0.4,3.0M48.6,301.8l0.8,2.9M35.9,304.5l1.5,2.6M36.5,304.7l2.5,1.6M39.9,306.8l3.0,0.3M42.5,305.0l3.0,0.2M44.8,305.6l2.7,1.3M46.2,304.1l2.4,1.8M33.6,306.7l-2.6,1.5M36.7,306.0l-1.5,2.6M37.0,307.5l-0.6,2.9M37.4,306.7l2.9,0.7M40.9,306.9l1.7,2.5M46.0,308.5l-3.0,0.5M48.8,306.5l-2.8,1.0M50.8,307.0l-2.8,0.9M27.2,308.6l1.3,2.7M30.0,307.9l-1.4,2.7M30.6,308.8l2.1,2.1M34.8,307.8l-1.3,2.7M35.9,308.6l-0.3,3.0M39.4,308.9l-0.8,2.9M38.3,310.7l3.0,0.5M41.7,309.3l2.2,2.0M45.4,309.5l1.9,2.3M47.4,308.0l-0.2,3.0M16.0,310.8l1.7,2.5M17.7,311.4l1.1,2.8M20.4,311.1l0.0,3.0M22.9,311.3l-0.6,2.9M24.7,311.1l1.3,2.7M27.7,311.0l1.4,2.7M31.3,310.1l-0.7,2.9M33.2,310.8l-1.2,2.8M36.5,310.7l-2.1,2.2M37.6,310.9l-1.2,2.8M37.4,311.5l2.8,1.1M41.0,311.0l1.3,2.7M44.5,309.7l-1.3,2.7M47.8,310.5l-1.9,2.4M49.3,310.6l-2.9,0.9M15.1,312.9l-2.0,2.2M15.2,311.7l-0.9,2.9M18.4,312.5l-1.0,2.8M18.1,313.0l2.0,2.2M22.7,312.7l-0.7,2.9M23.2,311.6l1.2,2.7M26.5,311.7l1.5,2.6M28.1,312.8l2.3,1.9M33.8,313.9l-3.0,0.4M34.6,313.1l-3.0,0.3M36.0,312.2l1.7,2.5M38.7,312.2l-0.1,3.0M38.9,313.4l2.9,0.6M44.6,312.9l-2.6,1.5M44.0,312.6l2.0,2.2M16.0,316.3l-2.7,1.3M15.0,314.0l2.2,2.0M19.0,314.9l-0.1,3.0M21.7,315.7l-1.7,2.5M23.3,314.9l-0.9,2.9M28.0,316.6l-2.9,0.9M28.9,315.4l-2.0,2.2M29.6,314.5l0.2,3.0M31.4,315.2l1.0,2.8M34.6,313.7l1.0,2.8M38.1,314.5l0.4,3.0M41.6,316.1l-2.6,1.6M40.6,315.7l3.0,0.3M12.7,316.9l1.7,2.4M17.0,316.4l-1.8,2.4M15.9,318.1l2.8,1.0M22.1,317.2l-2.4,1.8M21.7,316.9l1.3,2.7M25.8,317.3l-2.8,1.1M25.0,317.2l2.2,2.0M31.0,316.7l-2.3,2.0M33.3,317.8l-2.7,1.3M33.5,316.1l1.6,2.6M36.3,316.8l-0.6,2.9M40.4,316.0l-2.3,1.9M14.3,320.5l-3.0,0.5M14.7,319.0l-0.7,2.9M18.9,320.0l-2.8,1.0M20.6,320.1l-2.8,1.0M21.9,320.0l-3.0,0.3M21.8,319.1l2.4,1.8M24.7,318.1l0.4,3.0M28.7,319.3l-1.1,2.8M13.8,321.3l-1.0,2.8M13.7,320.6l2.8,0.9M18.7,320.9l-0.7,2.9M23.7,321.6l-2.9,0.7M24.0,319.8l-0.4,3.0M11.2,322.9l2.5,1.6" stroke="#000" stroke-width="1.0" fill="none"/>
<path d="M48.3,300.5h.01M46.8,301.3h.01M39.5,304.1h.01M42.9,304.1h.01M44.8,306.2h.01M47.1,305.3h.01M35.6,307.3h.01M37.2,308.8h.01M40.2,308.0h.01M43.7,308.6h.01M46.4,308.9h.01M48.8,309.2h.01M23.4,311.4h.01M27.3,309.7h.01M30.2,310.7h.01M31.8,310.5h.01M36.3,309.6h.01M40.1,310.1h.01M42.2,309.9h.01M44.8,311.7h.01M47.7,310.4h.01M15.9,314.3h.01M20.7,312.1h.01M23.2,314.1h.01M26.0,314.2h.01M27.9,314.2h.01M32.3,313.5h.01M34.4,313.7h.01M38.7,312.2h.01M39.2,313.4h.01M42.3,314.1h.01M48.5,312.9h.01M14.0,314.6h.01M17.2,314.7h.01M22.0,316.8h.01M24.5,316.2h.01M26.8,314.9h.01M29.2,314.5h.01M31.9,315.1h.01M36.1,314.5h.01M39.2,315.7h.01M41.5,314.5h.01M17.2,317.2h.01M19.4,317.9h.01M21.7,317.1h.01M25.0,318.5h.01M28.5,319.1h.01M31.9,319.5h.01M33.8,317.7h.01M37.1,317.3h.01M16.1,320.4h.01M19.0,320.9h.01M21.7,321.6h.01M23.4,321.1h.01M26.9,320.0h.01M12.5,322.3h.01M16.1,322.5h.01" stroke="#000" stroke-width="1.20" stroke-linecap="round" fill="none"/>
<path d="M0.4,304.6l0.4,3.0M10.4,306.0l-2.8,1.2M4.0,308.6l-2.7,1.3M6.4,306.1l-0.8,2.9M8.5,307.5l0.5,3.0M11.1,306.0l0.5,3.0M5.3,312.5l-3.0,0.1M5.8,309.6l2.8,1.0M9.2,310.9l0.2,3.0M2.6,312.8l-2.2,2.0M5.2,312.4l-1.5,2.6M6.5,314.0l2.9,0.9M11.5,312.4l-2.5,1.7M1.8,316.8l-2.9,0.7M4.2,315.9l-2.1,2.1M4.7,317.6l2.6,1.5M10.4,316.6l-2.8,1.0M10.9,316.6l2.7,1.3M-0.5,319.4l3.0,0.1M4.4,318.0l-1.8,2.4M8.7,318.8l-1.7,2.5M13.1,317.5l-2.3,1.9M3.2,322.2l-0.3,3.0M6.2,322.8l2.9,0.7M9.4,322.3l3.0,0.4M2.9,323.3l-1.3,2.7M6.1,323.5l-2.2,2.0M7.3,323.7l1.4,2.7M1.9,326.4l-2.2,2.0M2.7,326.8l1.1,2.8M5.7,326.3l0.4,3.0M9.0,325.8l-1.7,2.5M2.7,330.2l-1.7,2.5M4.3,328.7l-1.3,2.7" stroke="#000" stroke-width="0.95" fill="none"/>
<path d="M5.0,306.7a1.6,1.6 0 1,0 3.1,0a1.6,1.6 0 1,0 -3.1,0M0.1,312.4a1.7,2.1 0 1,0 3.4,0a1.7,2.1 0 1,0 -3.4,0M8.6,309.7a1.3,1.8 0 1,0 2.6,0a1.3,1.8 0 1,0 -2.6,0M-1.0,316.3a1.6,2.3 0 1,0 3.2,0a1.6,2.3 0 1,0 -3.2,0M4.0,314.6a1.4,2.2 0 1,0 2.8,0a1.4,2.2 0 1,0 -2.8,0M8.7,314.1a1.7,2.4 0 1,0 3.5,0a1.7,2.4 0 1,0 -3.5,0M2.3,320.2a1.5,2.2 0 1,0 3.1,0a1.5,2.2 0 1,0 -3.1,0M8.8,319.1a1.2,2.1 0 1,0 2.5,0a1.2,2.1 0 1,0 -2.5,0M0.1,325.5a1.7,1.8 0 1,0 3.4,0a1.7,1.8 0 1,0 -3.4,0M4.0,323.5a1.7,1.8 0 1,0 3.4,0a1.7,1.8 0 1,0 -3.4,0M7.8,324.9a1.7,1.8 0 1,0 3.3,0a1.7,1.8 0 1,0 -3.3,0M-0.1,330.2a1.5,2.1 0 1,0 3.0,0a1.5,2.1 0 1,0 -3.0,0" stroke="#000" stroke-width="0.9" fill="none"/>
<path d="M5.9,255.8 L-0.7,252.7 L-1.4,256.4Z" fill="#000" stroke="#fff" stroke-width="0.9" paint-order="stroke"/>
<path d="M10.3,273.1 L5.4,270.7 L4.9,273.6Z" fill="#000" stroke="#fff" stroke-width="0.9" paint-order="stroke"/>
<path d="M8.3,282.9 L2.9,280.4 L2.4,283.5Z" fill="#000" stroke="#fff" stroke-width="0.9" paint-order="stroke"/>
<path d="M3.5,281.5 L-1.0,279.4 L-1.5,282.0Z" fill="#000" stroke="#fff" stroke-width="0.9" paint-order="stroke"/>
<path d="M82.7,262.0 C81.9,263.3 79.9,267.6 78.0,270.0 C76.1,272.4 73.8,274.5 71.3,276.7 C68.8,278.9 66.0,281.3 63.3,283.3 C60.6,285.3 58.0,286.9 55.3,288.7 C52.6,290.5 48.6,293.1 47.3,294.0" stroke="#000" stroke-width="1.1" stroke-dasharray="3.2 2.4" fill="none"/>
<path d="M88.7,270.0 C87.8,271.1 85.3,274.5 83.3,276.7 C81.3,278.9 78.9,281.1 76.7,283.3 C74.5,285.5 72.2,288.0 70.0,290.0 C67.8,292.0 65.3,293.5 63.3,295.3 C61.3,297.1 59.5,298.7 58.0,300.7 C56.5,302.7 54.7,306.2 54.0,307.3" stroke="#000" stroke-width="1.1" stroke-dasharray="3.2 2.4" fill="none"/>
<path d="M84.2,283.6l2.2,0.4M82.8,283.0l-0.8,2.1M84.0,283.2l-1.5,1.6M85.6,284.9l2.1,0.5M88.2,283.8l-0.2,2.2M82.2,285.2l-1.8,1.2M83.5,286.3l-1.1,1.9M83.8,285.8l0.8,2.0M87.2,285.9l-1.8,1.2M82.5,287.2l-2.1,0.6M82.4,287.4l1.7,1.4M86.1,286.8l1.6,1.6M88.8,287.3l-1.9,1.2M83.6,290.1l-1.6,1.5M84.1,289.5l0.5,2.1M88.6,289.9l-2.2,0.1M86.0,290.8l-2.2,0.2" stroke="#000" stroke-width="0.9" fill="none"/>
<path d="M101.1,243.4a1.2,1.3 0 1,0 2.5,0a1.2,1.3 0 1,0 -2.5,0M104.9,242.8a1.3,1.3 0 1,0 2.5,0a1.3,1.3 0 1,0 -2.5,0M109.3,241.6a1.0,1.4 0 1,0 2.0,0a1.0,1.4 0 1,0 -2.0,0M113.1,240.8a1.1,1.5 0 1,0 2.2,0a1.1,1.5 0 1,0 -2.2,0M116.9,241.3a1.0,1.6 0 1,0 2.0,0a1.0,1.6 0 1,0 -2.0,0M103.0,246.4a1.1,1.9 0 1,0 2.2,0a1.1,1.9 0 1,0 -2.2,0M106.9,247.1a1.1,1.8 0 1,0 2.3,0a1.1,1.8 0 1,0 -2.3,0M109.7,245.8a1.3,1.6 0 1,0 2.6,0a1.3,1.6 0 1,0 -2.6,0M113.8,246.6a1.2,1.2 0 1,0 2.5,0a1.2,1.2 0 1,0 -2.5,0M119.9,244.7a1.3,1.9 0 1,0 2.7,0a1.3,1.9 0 1,0 -2.7,0M99.4,248.5a1.3,1.2 0 1,0 2.7,0a1.3,1.2 0 1,0 -2.7,0M105.3,250.0a1.0,1.4 0 1,0 2.1,0a1.0,1.4 0 1,0 -2.1,0M108.0,250.3a1.0,1.4 0 1,0 2.0,0a1.0,1.4 0 1,0 -2.0,0M114.3,250.8a1.0,1.6 0 1,0 2.0,0a1.0,1.6 0 1,0 -2.0,0M116.7,248.4a1.3,1.4 0 1,0 2.6,0a1.3,1.4 0 1,0 -2.6,0M121.0,249.1a1.3,1.8 0 1,0 2.6,0a1.3,1.8 0 1,0 -2.6,0M98.4,253.0a1.2,1.8 0 1,0 2.4,0a1.2,1.8 0 1,0 -2.4,0M103.2,252.8a1.0,1.6 0 1,0 2.1,0a1.0,1.6 0 1,0 -2.1,0M107.5,254.7a1.2,1.2 0 1,0 2.4,0a1.2,1.2 0 1,0 -2.4,0M110.7,252.1a1.4,1.4 0 1,0 2.7,0a1.4,1.4 0 1,0 -2.7,0M115.9,254.5a1.2,1.7 0 1,0 2.3,0a1.2,1.7 0 1,0 -2.3,0M118.3,254.1a1.1,1.3 0 1,0 2.3,0a1.1,1.3 0 1,0 -2.3,0M98.6,256.7a1.4,1.8 0 1,0 2.7,0a1.4,1.8 0 1,0 -2.7,0M103.7,256.2a1.2,1.4 0 1,0 2.3,0a1.2,1.4 0 1,0 -2.3,0M109.2,258.6a0.9,1.4 0 1,0 1.9,0a0.9,1.4 0 1,0 -1.9,0M112.7,258.5a1.4,1.7 0 1,0 2.7,0a1.4,1.7 0 1,0 -2.7,0M116.7,256.2a1.0,1.6 0 1,0 2.0,0a1.0,1.6 0 1,0 -2.0,0M103.4,261.3a1.0,1.5 0 1,0 1.9,0a1.0,1.5 0 1,0 -1.9,0M109.5,260.1a1.4,1.2 0 1,0 2.7,0a1.4,1.2 0 1,0 -2.7,0" stroke="#000" stroke-width="0.85" fill="none"/>
<path d="M108.8,241.1h.01M114.3,242.7h.01M115.9,240.9h.01M103.0,243.2h.01M106.8,244.2h.01M107.9,244.9h.01M111.1,242.7h.01M115.7,243.0h.01M119.6,245.0h.01M120.9,245.4h.01M100.9,247.0h.01M103.2,248.0h.01M107.3,246.2h.01M109.7,246.3h.01M112.9,248.1h.01M116.8,247.2h.01M120.5,245.6h.01M123.3,247.7h.01M102.2,248.2h.01M106.8,249.4h.01M109.5,251.0h.01M110.5,249.0h.01M115.0,249.1h.01M118.8,249.2h.01M121.3,249.4h.01M101.4,252.5h.01M103.5,253.5h.01M106.8,253.8h.01M109.1,251.2h.01M114.0,253.5h.01M115.3,252.0h.01M120.5,253.1h.01M100.1,255.4h.01M101.8,254.4h.01M104.9,256.1h.01M109.6,254.8h.01M111.0,256.6h.01M113.7,254.9h.01M117.9,255.8h.01M99.3,257.1h.01M103.6,258.8h.01M106.1,258.4h.01M108.8,257.0h.01M112.8,256.8h.01M105.1,260.3h.01" stroke="#000" stroke-width="1.00" stroke-linecap="round" fill="none"/>
<path d="M104.7,249.9l0.7,2.3M105.5,252.0l2.4,0.1M109.3,251.0l-1.3,2.0M102.7,253.2l-2.4,0.2M101.8,254.5l2.4,0.2M105.0,253.7l2.1,1.2M106.6,253.4l2.2,0.9M102.6,255.1l1.0,2.2M103.7,255.1l0.9,2.2M105.0,256.3l2.4,0.2M103.9,257.2l-2.4,0.3M106.2,257.6l-1.8,1.6" stroke="#000" stroke-width="0.9" fill="none"/>
<path d="M111.7,237.7l-2.4,1.0M111.8,237.5l1.6,2.1M108.0,238.9l2.6,0.4M111.9,239.0l-0.7,2.5M114.6,237.9l1.1,2.4M118.1,240.8l-2.6,0.2M107.8,242.4l2.6,0.2M111.9,241.7l-2.6,0.4M111.4,241.6l1.6,2.0M116.1,239.9l-1.4,2.2M120.3,240.1l-1.7,2.0M112.4,242.4l0.2,2.6M116.0,243.2l-2.0,1.7M119.3,244.5l-2.3,1.3M117.8,244.7l2.4,1.0" stroke="#000" stroke-width="1.3" fill="none"/>
<path d="M88.5,262.1l2.1,0.5M92.1,263.2l-2.1,0.6M92.3,261.4l1.5,1.6M88.6,263.6l1.2,1.9M90.8,262.9l0.8,2.1M93.1,263.2l0.2,2.2M91.3,266.2l-2.1,0.5M90.1,265.7l2.1,0.5" stroke="#000" stroke-width="0.9" fill="none"/>
<g fill="#000" shape-rendering="crispEdges">
<rect x="351" y="0" width="1.1" height="197.5"/><rect x="351" y="254.5" width="1.1" height="128.5"/><rect x="351" y="405.5" width="1.1" height="44.5"/>
<rect x="32" y="358" width="333" height="1.1"/><rect x="420.7" y="358" width="218" height="1.1"/>
</g>
<g id="scalebar" shape-rendering="crispEdges">
<rect x="94" y="401" width="198" height="10" fill="#000"/>
<rect x="95.5" y="402.6" width="38.5" height="3.3" fill="#fff"/>
<rect x="173.6" y="402.6" width="38.9" height="3.3" fill="#fff"/>
<rect x="251.8" y="402.6" width="38.8" height="3.3" fill="#fff"/>
<rect x="134" y="406" width="39.6" height="3.4" fill="#fff"/>
<rect x="212.5" y="406" width="39.3" height="3.4" fill="#fff"/>
<rect x="94" y="393" width="1.5" height="9" fill="#000"/>
<rect x="290.6" y="393" width="1.4" height="9" fill="#000"/>
</g>
<g id="north">
<path d="M387.5,52V134.7" stroke="#000" stroke-width="1.5" fill="none"/>
<path d="M387.5,45.5L393.6,57L387.5,53.6L381.4,57Z" fill="#000"/>
<text x="382" y="44.5" font-size="16" font-weight="bold">N</text>
</g>
<g id="arrows" stroke="#000" stroke-width="1.3" fill="#000">
<path d="M602.4,20.8L615.5,8" fill="none"/>
<path d="M618.5,5L615.8,12.2L611.5,7.8Z" stroke="none"/>
<path d="M591.9,92L604.5,104" fill="none"/>
<path d="M607.6,107L600.2,104.6L604.6,100Z" stroke="none"/>
</g>
<g font-size="16.3" font-weight="bold" letter-spacing="0.25">
<text x="187" y="36.3">Kaninchenhöhle</text>
<text x="187" y="56.3">French Revolution</text>
</g>
<g font-size="13.3">
<text x="28" y="69.5">Fudge</text>
<text x="36.5" y="86.3">Brownie</text>
<text x="128.5" y="149.5">choke</text>
<text x="227" y="123.8">Zombie Slime</text>
<text x="179.5" y="237.6">Brownie's</text>
<text x="179.5" y="254.3">C*nt</text>
<text x="41.5" y="331">Rocky Horror</text>
<text x="91" y="390">0</text>
<text x="284" y="390">50</text>
<text x="156" y="421.3">scale : metre</text>
<text x="525" y="16.4">Triassic Park</text>
<text x="608.5" y="101.9">161d</text>
<text x="518.7" y="111.3">Salt</text>
<text x="515.5" y="128.1">Lake</text>
<text x="510.5" y="145">City</text>
<text x="464" y="267">Staud'nwirt Palace</text>
<text x="509.3" y="380.6">Underlying passages</text>
<text x="517.8" y="396.9">omitted for clarity</text>
</g>

</svg>
</body></html>
